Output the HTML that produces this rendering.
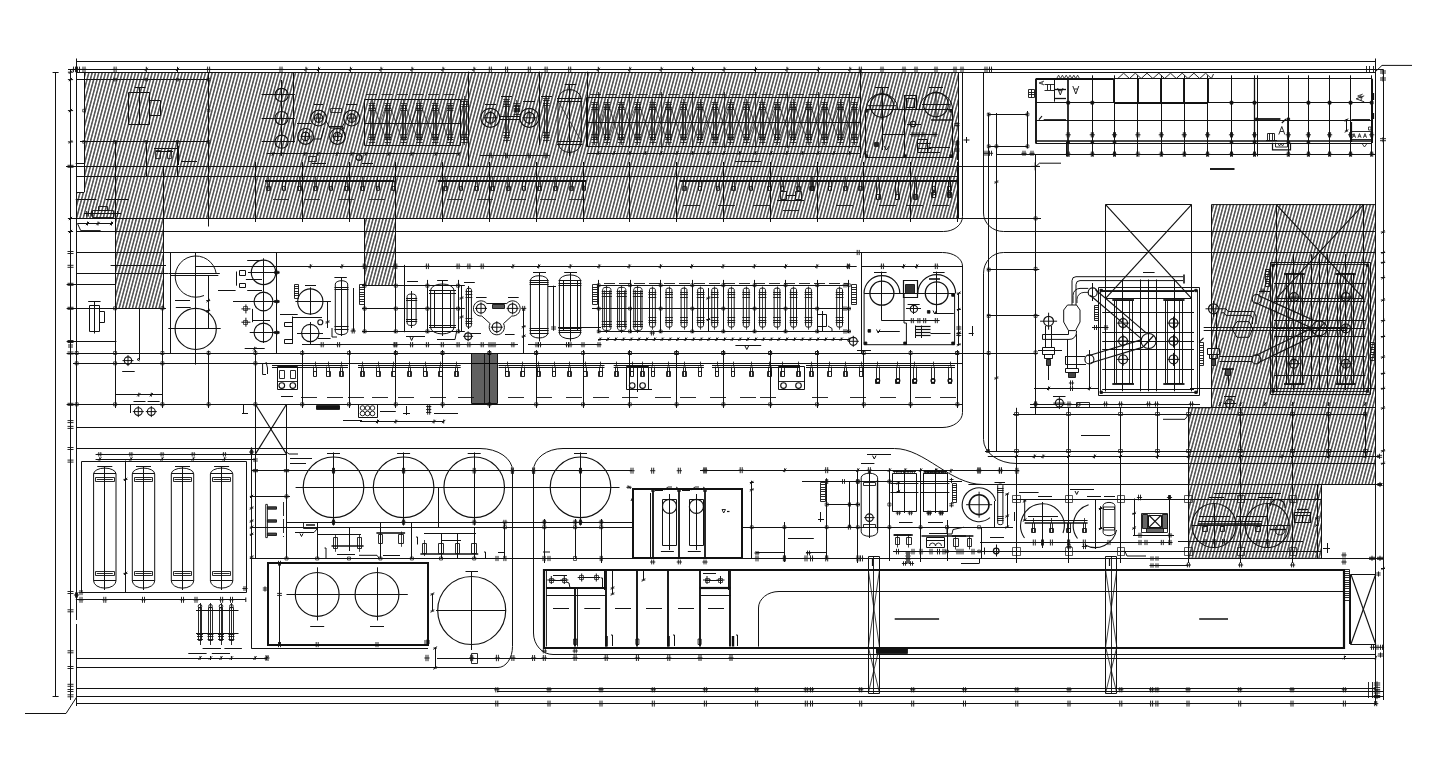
<!DOCTYPE html>
<html><head><meta charset="utf-8"><title>Plant layout</title>
<style>html,body{margin:0;padding:0;background:#fff;font-family:"Liberation Sans",sans-serif;}svg{display:block}</style>
</head><body>
<svg width="1445" height="765" viewBox="0 0 1445 765">
<defs>
<pattern id="h1" width="3.22" height="10" patternUnits="userSpaceOnUse" patternTransform="rotate(15)"><path d="M1.6 0V10" stroke="#000" stroke-width="1.05" fill="none"/></pattern>
<pattern id="h2" width="1.6" height="10" patternUnits="userSpaceOnUse" patternTransform="rotate(15)"><path d="M0.8 0V10" stroke="#000" stroke-width="1.0" fill="none"/></pattern>
</defs>
<rect width="1445" height="765" fill="#fff"/>
<g fill="none" stroke="#111" stroke-width="1.0" stroke-linecap="butt">
<path d="M84.0 72.2L958.0 72.2L958.0 218.5L76.7 218.5L76.7 192.3L84.0 192.3Z" fill="url(#h1)" stroke="none"/>
<path d="M115.1 218.5L163.0 218.5L163.0 308.3L115.1 308.3Z" fill="url(#h1)" stroke="none"/>
<path d="M364.3 218.5L395.8 218.5L395.8 285.0L364.3 285.0Z" fill="url(#h1)" stroke="none"/>
<path d="M1211.0 204.2L1375.7 204.2L1375.7 484.0L1322.0 484.0L1322.0 557.8L1188.0 557.8L1188.0 407.8L1211.0 407.8Z" fill="url(#h1)" stroke="none"/>
<path d="M76.7 61.5L1375.7 61.5"/>
<path d="M76.5 58.5L76.5 64.0"/>
<path d="M1375.5 58.5L1375.5 64.0"/>
<path d="M1375.7 71.4L1382.0 65.4L1412.0 65.4"/>
<path d="M68.0 69.5L1383.0 69.5"/>
<path d="M76.7 72.5L1375.7 72.5"/>
<path d="M55.5 72.2L55.5 696.5"/>
<path d="M52.6 72.5L58.6 72.5"/>
<path d="M52.6 696.5L58.6 696.5"/>
<path d="M70.5 69.4L70.5 700.0"/>
<path d="M76.5 61.3L76.5 706.0"/>
<path d="M84.5 72.2L84.5 192.3"/>
<path d="M76.7 192.5L84.0 192.5"/>
<path d="M75.7 163.5L84.0 163.5"/>
<path d="M25.0 713.5L66.0 713.5L76.7 697.0"/>
<path d="M1375.5 61.3L1375.5 705.0"/>
<path d="M1383.5 69.4L1383.5 700.0"/>
<path d="M115.5 218.5L115.5 308.3"/>
<path d="M163.5 218.5L163.5 308.3"/>
<path d="M115.1 308.5L163.0 308.5"/>
<path d="M364.5 218.5L364.5 285.0"/>
<path d="M395.5 218.5L395.5 285.0"/>
<path d="M364.3 285.5L395.8 285.5"/>
<path d="M958.5 72.2L958.5 218.5"/>
<path d="M1211.4 204.6L1375.7 204.6"/>
<path d="M1375.7 484.5L1321.5 484.5L1321.5 558.3L1188.6 558.3L1188.6 407.8L1211.4 407.8"/>
<path d="M76.7 79.5L208.6 79.5"/>
<path d="M80.0 141.5L208.6 141.5"/>
<path d="M66.0 166.5L1040.0 166.5"/>
<path d="M76.7 176.5L958.0 176.5"/>
<path d="M68.0 218.5L958.0 218.5"/>
<path d="M76.7 231.5L942.0 231.5"/>
<path d="M115.5 141.9L115.5 218.5"/>
<path d="M146.5 141.9L146.5 176.5"/>
<path d="M177.5 141.9L177.5 176.5"/>
<path d="M208.5 72.2L208.5 226.5"/>
<path d="M163.5 166.3L163.5 218.5"/>
<path d="M113.8 78.3L116.4 78.3L116.4 80.9L113.8 80.9Z" stroke-width="0.7"/>
<path d="M113.8 140.6L116.4 140.6L116.4 143.2L113.8 143.2Z" stroke-width="0.7"/>
<path d="M145.0 78.3L147.6 78.3L147.6 80.9L145.0 80.9Z" stroke-width="0.7"/>
<path d="M145.0 140.6L147.6 140.6L147.6 143.2L145.0 143.2Z" stroke-width="0.7"/>
<path d="M176.2 78.3L178.8 78.3L178.8 80.9L176.2 80.9Z" stroke-width="0.7"/>
<path d="M176.2 140.6L178.8 140.6L178.8 143.2L176.2 143.2Z" stroke-width="0.7"/>
<path d="M207.3 78.3L209.9 78.3L209.9 80.9L207.3 80.9Z" stroke-width="0.7"/>
<path d="M207.3 140.6L209.9 140.6L209.9 143.2L207.3 143.2Z" stroke-width="0.7"/>
<path d="M82.7 109.3L85.3 109.3L85.3 111.9L82.7 111.9Z" stroke-width="0.7"/>
<path d="M207.3 109.3L209.9 109.3L209.9 111.9L207.3 111.9Z" stroke-width="0.7"/>
<path d="M82.7 140.6L85.3 140.6L85.3 143.2L82.7 143.2Z" stroke-width="0.7"/>
<path d="M255.5 162.0L255.5 222.0"/>
<path d="M302.5 162.0L302.5 222.0"/>
<path d="M349.5 162.0L349.5 222.0"/>
<path d="M395.5 162.0L395.5 222.0"/>
<path d="M442.5 162.0L442.5 222.0"/>
<path d="M489.5 162.0L489.5 222.0"/>
<path d="M536.5 162.0L536.5 222.0"/>
<path d="M583.5 162.0L583.5 222.0"/>
<path d="M629.5 162.0L629.5 222.0"/>
<path d="M676.5 162.0L676.5 222.0"/>
<path d="M723.5 162.0L723.5 222.0"/>
<path d="M770.5 162.0L770.5 222.0"/>
<path d="M817.5 162.0L817.5 222.0"/>
<path d="M863.5 162.0L863.5 222.0"/>
<path d="M910.5 162.0L910.5 222.0"/>
<path d="M957.5 162.0L957.5 222.0"/>
<path d="M73.5 66.6V72.2M75.5 66.6V72.2M71.9 69.4H77.1" stroke-width="0.9"/>
<path d="M77.5 66.6V72.2M79.5 66.6V72.2M75.9 69.4H81.1" stroke-width="0.9"/>
<path d="M83.0 66.6V72.2M85.0 66.6V72.2M81.4 69.4H86.6" stroke-width="0.9"/>
<path d="M114.1 66.6V72.2M116.1 66.6V72.2M112.5 69.4H117.7" stroke-width="0.9"/>
<path d="M207.6 66.6V72.2M209.6 66.6V72.2M206.0 69.4H211.2" stroke-width="0.9"/>
<path d="M146.3 66.8V72.0M144.7 71.0L147.9 67.8"/>
<path d="M177.5 66.8V72.0M175.9 71.0L179.1 67.8"/>
<path d="M306.0 66.8V72.0M304.4 71.0L307.6 67.8"/>
<path d="M318.5 66.8V72.0M316.9 71.0L320.1 67.8"/>
<path d="M350.4 66.8V72.0M348.8 71.0L352.0 67.8"/>
<path d="M381.0 66.8V72.0M379.4 71.0L382.6 67.8"/>
<path d="M412.0 66.8V72.0M410.4 71.0L413.6 67.8"/>
<path d="M443.0 66.8V72.0M441.4 71.0L444.6 67.8"/>
<path d="M474.0 66.8V72.0M472.4 71.0L475.6 67.8"/>
<path d="M280.0 66.6V72.2M282.0 66.6V72.2M278.4 69.4H283.6" stroke-width="0.9"/>
<path d="M489.3 66.6V72.2M491.3 66.6V72.2M487.7 69.4H492.9" stroke-width="0.9"/>
<path d="M505.6 66.6V72.2M507.6 66.6V72.2M504.0 69.4H509.2" stroke-width="0.9"/>
<path d="M528.3 66.6V72.2M530.3 66.6V72.2M526.7 69.4H531.9" stroke-width="0.9"/>
<path d="M545.1 66.6V72.2M547.1 66.6V72.2M543.5 69.4H548.7" stroke-width="0.9"/>
<path d="M568.7 66.6V72.2M570.7 66.6V72.2M567.1 69.4H572.3" stroke-width="0.9"/>
<path d="M598.3 66.8V72.0M596.7 71.0L599.9 67.8"/>
<path d="M629.8 66.8V72.0M628.1 71.0L631.4 67.8"/>
<path d="M661.2 66.8V72.0M659.6 71.0L662.8 67.8"/>
<path d="M692.6 66.8V72.0M691.0 71.0L694.2 67.8"/>
<path d="M724.1 66.8V72.0M722.5 71.0L725.7 67.8"/>
<path d="M755.5 66.8V72.0M753.9 71.0L757.1 67.8"/>
<path d="M787.0 66.8V72.0M785.4 71.0L788.6 67.8"/>
<path d="M818.4 66.8V72.0M816.8 71.0L820.0 67.8"/>
<path d="M849.9 66.8V72.0M848.3 71.0L851.5 67.8"/>
<path d="M859.3 66.6V72.2M861.3 66.6V72.2M857.7 69.4H862.9" stroke-width="0.9"/>
<path d="M881.0 66.6V72.2M883.0 66.6V72.2M879.4 69.4H884.6" stroke-width="0.9"/>
<path d="M903.0 66.6V72.2M905.0 66.6V72.2M901.4 69.4H906.6" stroke-width="0.9"/>
<path d="M915.0 66.6V72.2M917.0 66.6V72.2M913.4 69.4H918.6" stroke-width="0.9"/>
<path d="M935.0 66.6V72.2M937.0 66.6V72.2M933.4 69.4H938.6" stroke-width="0.9"/>
<path d="M954.0 66.6V72.2M956.0 66.6V72.2M952.4 69.4H957.6" stroke-width="0.9"/>
<path d="M961.0 66.6V72.2M963.0 66.6V72.2M959.4 69.4H964.6" stroke-width="0.9"/>
<path d="M67.9 72.2H73.1M68.9 73.8L72.1 70.6"/>
<path d="M67.9 79.6H73.1M68.9 81.2L72.1 78.0"/>
<path d="M67.9 110.6H73.1M68.9 112.2L72.1 109.0"/>
<path d="M67.9 141.9H73.1M68.9 143.5L72.1 140.3"/>
<path d="M67.9 218.5H73.1M68.9 220.1L72.1 216.9"/>
<path d="M67.9 231.5H73.1M68.9 233.1L72.1 229.9"/>
<path d="M67.5 165.3H73.5M67.5 167.3H73.5M70.5 163.7V168.9" stroke-width="0.9"/>
<path d="M128.5 92.5L149.5 92.5L149.5 124.5L128.5 124.5Z"/>
<path d="M149.5 100.5L160.5 100.5L160.5 115.5L149.5 115.5Z"/>
<path d="M139.5 87.4L139.5 124.4"/>
<path d="M134.7 87.5L145.5 87.5"/>
<path d="M155.5 150.5L160.5 150.5L160.5 158.5L155.5 158.5Z" stroke-width="0.8"/>
<path d="M167.5 150.5L171.5 150.5L171.5 158.5L167.5 158.5Z" stroke-width="0.8"/>
<path d="M154.0 148.5L178.0 148.5"/>
<path d="M156.0 151.5L173.0 151.5"/>
<path d="M178.5 146.0L178.5 165.0"/>
<path d="M181.0 161.5L197.0 161.5"/>
<circle cx="281.6" cy="94.9" r="6.6" stroke-width="1.15"/>
<path d="M261.6 94.5L294.9 94.5"/>
<circle cx="281.6" cy="118.1" r="6.6" stroke-width="1.15"/>
<path d="M261.6 118.5L294.9 118.5"/>
<circle cx="281.6" cy="141.7" r="6.6" stroke-width="1.15"/>
<path d="M261.6 141.5L294.9 141.5"/>
<path d="M281.5 80.0L281.5 155.5"/>
<path d="M293.5 72.0L293.5 143.0"/>
<circle cx="318.6" cy="118.1" r="7.9" stroke-width="1.15"/>
<circle cx="318.6" cy="118.1" r="4.2" stroke-width="1.15"/>
<path d="M313.6 118.1H323.6M318.6 113.1V123.1"/>
<circle cx="351.7" cy="118.1" r="7.9" stroke-width="1.15"/>
<circle cx="351.7" cy="118.1" r="4.2" stroke-width="1.15"/>
<path d="M346.7 118.1H356.7M351.7 113.1V123.1"/>
<circle cx="305.6" cy="136.4" r="7.9" stroke-width="1.15"/>
<circle cx="305.6" cy="136.4" r="4.2" stroke-width="1.15"/>
<path d="M300.6 136.4H310.6M305.6 131.4V141.4"/>
<circle cx="337.5" cy="136.4" r="7.9" stroke-width="1.15"/>
<circle cx="337.5" cy="136.4" r="4.2" stroke-width="1.15"/>
<path d="M332.5 136.4H342.5M337.5 131.4V141.4"/>
<path d="M326.0 121.0L330.0 128.0L345.0 128.0"/>
<path d="M313.0 139.0L321.0 139.0L324.0 128.0"/>
<path d="M345.0 136.0L342.0 127.0L345.0 122.0"/>
<path d="M330.5 108.5L341.5 108.5L341.5 112.5L330.5 112.5Z" stroke-width="0.8"/>
<path d="M314.0 104.5L323.0 104.5"/>
<path d="M346.0 104.5L357.0 104.5"/>
<path d="M297.0 123.5L311.0 123.5"/>
<path d="M329.0 126.5L343.0 126.5"/>
<path d="M266.6 153.5L459.3 153.5"/>
<path d="M273.0 151.9V155.9M271.4 155.5L274.6 152.3"/>
<path d="M281.6 151.9V155.9M280.0 155.5L283.2 152.3"/>
<path d="M305.0 151.9V155.9M303.4 155.5L306.6 152.3"/>
<path d="M318.0 151.9V155.9M316.4 155.5L319.6 152.3"/>
<path d="M337.0 151.9V155.9M335.4 155.5L338.6 152.3"/>
<path d="M352.0 151.9V155.9M350.4 155.5L353.6 152.3"/>
<path d="M366.0 151.9V155.9M364.4 155.5L367.6 152.3"/>
<path d="M389.0 151.9V155.9M387.4 155.5L390.6 152.3"/>
<path d="M412.0 151.9V155.9M410.4 155.5L413.6 152.3"/>
<path d="M436.0 151.9V155.9M434.4 155.5L437.6 152.3"/>
<path d="M459.0 151.9V155.9M457.4 155.5L460.6 152.3"/>
<path d="M308.5 156.5L316.5 156.5L316.5 161.5L308.5 161.5Z" stroke-width="0.8"/>
<path d="M312.0 163.5L326.0 163.5"/>
<circle cx="359.0" cy="157.5" r="2.8" stroke-width="1.15"/>
<path d="M362.0 163.5L373.0 163.5"/>
<path d="M364.5 99.5L460.5 99.5L460.5 145.5L364.5 145.5Z"/>
<path d="M364.6 123.5L460.1 123.5"/>
<path d="M370.5 104.5L370.5 140.5" stroke-width="0.8"/>
<path d="M373.5 104.5L373.5 140.5" stroke-width="0.8"/>
<path d="M368.7 103.5L375.3 103.5" stroke-width="0.8"/>
<path d="M368.7 105.5L375.3 105.5" stroke-width="0.8"/>
<path d="M368.7 108.5L375.3 108.5" stroke-width="0.8"/>
<path d="M368.7 110.5L375.3 110.5" stroke-width="0.8"/>
<path d="M368.7 134.5L375.3 134.5" stroke-width="0.8"/>
<path d="M368.7 137.5L375.3 137.5" stroke-width="0.8"/>
<path d="M368.7 139.5L375.3 139.5" stroke-width="0.8"/>
<path d="M368.7 142.5L375.3 142.5" stroke-width="0.8"/>
<path d="M372.5 100.0L372.5 145.0" stroke-width="0.7"/>
<path d="M386.5 104.5L386.5 140.5" stroke-width="0.8"/>
<path d="M389.5 104.5L389.5 140.5" stroke-width="0.8"/>
<path d="M384.6 103.5L391.2 103.5" stroke-width="0.8"/>
<path d="M384.6 105.5L391.2 105.5" stroke-width="0.8"/>
<path d="M384.6 108.5L391.2 108.5" stroke-width="0.8"/>
<path d="M384.6 110.5L391.2 110.5" stroke-width="0.8"/>
<path d="M384.6 134.5L391.2 134.5" stroke-width="0.8"/>
<path d="M384.6 137.5L391.2 137.5" stroke-width="0.8"/>
<path d="M384.6 139.5L391.2 139.5" stroke-width="0.8"/>
<path d="M384.6 142.5L391.2 142.5" stroke-width="0.8"/>
<path d="M387.5 100.0L387.5 145.0" stroke-width="0.7"/>
<path d="M402.5 104.5L402.5 140.5" stroke-width="0.8"/>
<path d="M405.5 104.5L405.5 140.5" stroke-width="0.8"/>
<path d="M400.4 103.5L407.0 103.5" stroke-width="0.8"/>
<path d="M400.4 105.5L407.0 105.5" stroke-width="0.8"/>
<path d="M400.4 108.5L407.0 108.5" stroke-width="0.8"/>
<path d="M400.4 110.5L407.0 110.5" stroke-width="0.8"/>
<path d="M400.4 134.5L407.0 134.5" stroke-width="0.8"/>
<path d="M400.4 137.5L407.0 137.5" stroke-width="0.8"/>
<path d="M400.4 139.5L407.0 139.5" stroke-width="0.8"/>
<path d="M400.4 142.5L407.0 142.5" stroke-width="0.8"/>
<path d="M403.5 100.0L403.5 145.0" stroke-width="0.7"/>
<path d="M417.5 104.5L417.5 140.5" stroke-width="0.8"/>
<path d="M420.5 104.5L420.5 140.5" stroke-width="0.8"/>
<path d="M416.1 103.5L422.7 103.5" stroke-width="0.8"/>
<path d="M416.1 105.5L422.7 105.5" stroke-width="0.8"/>
<path d="M416.1 108.5L422.7 108.5" stroke-width="0.8"/>
<path d="M416.1 110.5L422.7 110.5" stroke-width="0.8"/>
<path d="M416.1 134.5L422.7 134.5" stroke-width="0.8"/>
<path d="M416.1 137.5L422.7 137.5" stroke-width="0.8"/>
<path d="M416.1 139.5L422.7 139.5" stroke-width="0.8"/>
<path d="M416.1 142.5L422.7 142.5" stroke-width="0.8"/>
<path d="M419.5 100.0L419.5 145.0" stroke-width="0.7"/>
<path d="M433.5 104.5L433.5 140.5" stroke-width="0.8"/>
<path d="M436.5 104.5L436.5 140.5" stroke-width="0.8"/>
<path d="M431.9 103.5L438.5 103.5" stroke-width="0.8"/>
<path d="M431.9 105.5L438.5 105.5" stroke-width="0.8"/>
<path d="M431.9 108.5L438.5 108.5" stroke-width="0.8"/>
<path d="M431.9 110.5L438.5 110.5" stroke-width="0.8"/>
<path d="M431.9 134.5L438.5 134.5" stroke-width="0.8"/>
<path d="M431.9 137.5L438.5 137.5" stroke-width="0.8"/>
<path d="M431.9 139.5L438.5 139.5" stroke-width="0.8"/>
<path d="M431.9 142.5L438.5 142.5" stroke-width="0.8"/>
<path d="M435.5 100.0L435.5 145.0" stroke-width="0.7"/>
<path d="M448.5 104.5L448.5 140.5" stroke-width="0.8"/>
<path d="M451.5 104.5L451.5 140.5" stroke-width="0.8"/>
<path d="M446.9 103.5L453.5 103.5" stroke-width="0.8"/>
<path d="M446.9 105.5L453.5 105.5" stroke-width="0.8"/>
<path d="M446.9 108.5L453.5 108.5" stroke-width="0.8"/>
<path d="M446.9 110.5L453.5 110.5" stroke-width="0.8"/>
<path d="M446.9 134.5L453.5 134.5" stroke-width="0.8"/>
<path d="M446.9 137.5L453.5 137.5" stroke-width="0.8"/>
<path d="M446.9 139.5L453.5 139.5" stroke-width="0.8"/>
<path d="M446.9 142.5L453.5 142.5" stroke-width="0.8"/>
<path d="M450.5 100.0L450.5 145.0" stroke-width="0.7"/>
<path d="M374.0 106.0L385.9 139.0" stroke-width="0.7"/>
<path d="M374.0 139.0L385.9 106.0" stroke-width="0.7"/>
<path d="M389.9 106.0L401.7 139.0" stroke-width="0.7"/>
<path d="M389.9 139.0L401.7 106.0" stroke-width="0.7"/>
<path d="M405.7 106.0L417.4 139.0" stroke-width="0.7"/>
<path d="M405.7 139.0L417.4 106.0" stroke-width="0.7"/>
<path d="M421.4 106.0L433.2 139.0" stroke-width="0.7"/>
<path d="M421.4 139.0L433.2 106.0" stroke-width="0.7"/>
<path d="M437.2 106.0L448.2 139.0" stroke-width="0.7"/>
<path d="M437.2 139.0L448.2 106.0" stroke-width="0.7"/>
<path d="M366.0 94.5L377.0 94.5" stroke-width="0.8"/>
<path d="M381.5 94.5L392.5 94.5" stroke-width="0.8"/>
<path d="M397.0 94.5L408.0 94.5" stroke-width="0.8"/>
<path d="M412.5 94.5L423.5 94.5" stroke-width="0.8"/>
<path d="M428.0 94.5L439.0 94.5" stroke-width="0.8"/>
<path d="M443.5 94.5L454.5 94.5" stroke-width="0.8"/>
<path d="M468.5 71.6L468.5 166.3"/>
<path d="M463.5 100.5L463.5 140.5" stroke-width="0.8"/>
<path d="M466.5 100.5L466.5 140.5" stroke-width="0.8"/>
<path d="M461.2 99.5L467.8 99.5" stroke-width="0.8"/>
<path d="M461.2 101.5L467.8 101.5" stroke-width="0.8"/>
<path d="M461.2 104.5L467.8 104.5" stroke-width="0.8"/>
<path d="M461.2 106.5L467.8 106.5" stroke-width="0.8"/>
<path d="M461.2 134.5L467.8 134.5" stroke-width="0.8"/>
<path d="M461.2 137.5L467.8 137.5" stroke-width="0.8"/>
<path d="M461.2 139.5L467.8 139.5" stroke-width="0.8"/>
<path d="M461.2 142.5L467.8 142.5" stroke-width="0.8"/>
<path d="M464.5 96.0L464.5 145.0" stroke-width="0.7"/>
<circle cx="490.3" cy="117.8" r="9.5" stroke-width="1.15"/>
<circle cx="490.3" cy="117.8" r="5.4" stroke-width="1.15"/>
<path d="M483.3 117.8H497.3M490.3 110.8V124.8"/>
<circle cx="529.3" cy="117.8" r="9.5" stroke-width="1.15"/>
<circle cx="529.3" cy="117.8" r="5.4" stroke-width="1.15"/>
<path d="M522.3 117.8H536.3M529.3 110.8V124.8"/>
<path d="M499.5 116.5L520.0 116.5"/>
<path d="M499.5 119.5L520.0 119.5"/>
<path d="M505.5 100.5L505.5 138.5" stroke-width="0.8"/>
<path d="M508.5 100.5L508.5 138.5" stroke-width="0.8"/>
<path d="M503.3 99.5L509.9 99.5" stroke-width="0.8"/>
<path d="M503.3 101.5L509.9 101.5" stroke-width="0.8"/>
<path d="M503.3 104.5L509.9 104.5" stroke-width="0.8"/>
<path d="M503.3 106.5L509.9 106.5" stroke-width="0.8"/>
<path d="M503.3 132.5L509.9 132.5" stroke-width="0.8"/>
<path d="M503.3 135.5L509.9 135.5" stroke-width="0.8"/>
<path d="M503.3 137.5L509.9 137.5" stroke-width="0.8"/>
<path d="M503.3 140.5L509.9 140.5" stroke-width="0.8"/>
<path d="M506.5 96.0L506.5 143.0" stroke-width="0.7"/>
<path d="M544.5 99.5L544.5 138.5" stroke-width="0.8"/>
<path d="M547.5 99.5L547.5 138.5" stroke-width="0.8"/>
<path d="M543.1 98.5L549.7 98.5" stroke-width="0.8"/>
<path d="M543.1 100.5L549.7 100.5" stroke-width="0.8"/>
<path d="M543.1 103.5L549.7 103.5" stroke-width="0.8"/>
<path d="M543.1 105.5L549.7 105.5" stroke-width="0.8"/>
<path d="M543.1 132.5L549.7 132.5" stroke-width="0.8"/>
<path d="M543.1 135.5L549.7 135.5" stroke-width="0.8"/>
<path d="M543.1 137.5L549.7 137.5" stroke-width="0.8"/>
<path d="M543.1 140.5L549.7 140.5" stroke-width="0.8"/>
<path d="M546.5 95.0L546.5 143.0" stroke-width="0.7"/>
<path d="M515.5 104.5L515.5 112.5" stroke-width="0.8"/>
<path d="M518.5 104.5L518.5 112.5" stroke-width="0.8"/>
<path d="M513.6 103.5L520.2 103.5" stroke-width="0.8"/>
<path d="M513.6 105.5L520.2 105.5" stroke-width="0.8"/>
<path d="M513.6 108.5L520.2 108.5" stroke-width="0.8"/>
<path d="M513.6 110.5L520.2 110.5" stroke-width="0.8"/>
<path d="M513.6 106.5L520.2 106.5" stroke-width="0.8"/>
<path d="M513.6 109.5L520.2 109.5" stroke-width="0.8"/>
<path d="M513.6 111.5L520.2 111.5" stroke-width="0.8"/>
<path d="M513.6 114.5L520.2 114.5" stroke-width="0.8"/>
<path d="M516.5 100.0L516.5 117.0" stroke-width="0.7"/>
<path d="M501.0 96.5L512.0 96.5"/>
<path d="M541.0 96.5L552.0 96.5"/>
<path d="M485.0 104.5L496.0 104.5"/>
<path d="M523.0 101.5L535.0 101.5"/>
<path d="M539.5 71.6L539.5 145.0"/>
<path d="M480.0 155.5L549.8 155.5"/>
<path d="M489.3 152.7V158.3M491.3 152.7V158.3M487.7 155.5H492.9" stroke-width="0.9"/>
<path d="M505.6 152.7V158.3M507.6 152.7V158.3M504.0 155.5H509.2" stroke-width="0.9"/>
<path d="M528.3 152.7V158.3M530.3 152.7V158.3M526.7 155.5H531.9" stroke-width="0.9"/>
<path d="M545.1 152.7V158.3M547.1 152.7V158.3M543.5 155.5H548.7" stroke-width="0.9"/>
<path d="M558 100V142M581.3 100V142M558 100A11.65 10.5 0 0 1 581.3 100M558 142A11.65 10.5 0 0 0 581.3 142"/>
<path d="M557.0 98.5L582.3 98.5"/>
<path d="M557.0 101.5L582.3 101.5"/>
<path d="M557.0 141.5L582.3 141.5"/>
<path d="M557.0 144.5L582.3 144.5"/>
<path d="M564.7 84.5L576.3 84.5"/>
<path d="M569.5 84.6L569.5 156.0"/>
<path d="M558.0 101.0L581.3 141.0" stroke-width="0.7"/>
<path d="M587.5 71.6L587.5 146.4"/>
<path d="M586.5 97.5L860.5 97.5L860.5 146.5L586.5 146.5Z"/>
<path d="M586.3 122.5L860.3 122.5"/>
<path d="M593.5 103.5L593.5 140.5" stroke-width="0.8"/>
<path d="M596.5 103.5L596.5 140.5" stroke-width="0.8"/>
<path d="M591.3 102.5L597.9 102.5" stroke-width="0.8"/>
<path d="M591.3 104.5L597.9 104.5" stroke-width="0.8"/>
<path d="M591.3 107.5L597.9 107.5" stroke-width="0.8"/>
<path d="M591.3 109.5L597.9 109.5" stroke-width="0.8"/>
<path d="M591.3 134.5L597.9 134.5" stroke-width="0.8"/>
<path d="M591.3 137.5L597.9 137.5" stroke-width="0.8"/>
<path d="M591.3 139.5L597.9 139.5" stroke-width="0.8"/>
<path d="M591.3 142.5L597.9 142.5" stroke-width="0.8"/>
<path d="M594.5 99.0L594.5 145.0" stroke-width="0.7"/>
<path d="M605.5 103.5L605.5 140.5" stroke-width="0.8"/>
<path d="M608.5 103.5L608.5 140.5" stroke-width="0.8"/>
<path d="M603.7 102.5L610.3 102.5" stroke-width="0.8"/>
<path d="M603.7 104.5L610.3 104.5" stroke-width="0.8"/>
<path d="M603.7 107.5L610.3 107.5" stroke-width="0.8"/>
<path d="M603.7 109.5L610.3 109.5" stroke-width="0.8"/>
<path d="M603.7 134.5L610.3 134.5" stroke-width="0.8"/>
<path d="M603.7 137.5L610.3 137.5" stroke-width="0.8"/>
<path d="M603.7 139.5L610.3 139.5" stroke-width="0.8"/>
<path d="M603.7 142.5L610.3 142.5" stroke-width="0.8"/>
<path d="M607.5 99.0L607.5 145.0" stroke-width="0.7"/>
<path d="M619.5 103.5L619.5 140.5" stroke-width="0.8"/>
<path d="M622.5 103.5L622.5 140.5" stroke-width="0.8"/>
<path d="M617.9 102.5L624.5 102.5" stroke-width="0.8"/>
<path d="M617.9 104.5L624.5 104.5" stroke-width="0.8"/>
<path d="M617.9 107.5L624.5 107.5" stroke-width="0.8"/>
<path d="M617.9 109.5L624.5 109.5" stroke-width="0.8"/>
<path d="M617.9 134.5L624.5 134.5" stroke-width="0.8"/>
<path d="M617.9 137.5L624.5 137.5" stroke-width="0.8"/>
<path d="M617.9 139.5L624.5 139.5" stroke-width="0.8"/>
<path d="M617.9 142.5L624.5 142.5" stroke-width="0.8"/>
<path d="M621.5 99.0L621.5 145.0" stroke-width="0.7"/>
<path d="M636.5 103.5L636.5 140.5" stroke-width="0.8"/>
<path d="M639.5 103.5L639.5 140.5" stroke-width="0.8"/>
<path d="M634.5 102.5L641.1 102.5" stroke-width="0.8"/>
<path d="M634.5 104.5L641.1 104.5" stroke-width="0.8"/>
<path d="M634.5 107.5L641.1 107.5" stroke-width="0.8"/>
<path d="M634.5 109.5L641.1 109.5" stroke-width="0.8"/>
<path d="M634.5 134.5L641.1 134.5" stroke-width="0.8"/>
<path d="M634.5 137.5L641.1 137.5" stroke-width="0.8"/>
<path d="M634.5 139.5L641.1 139.5" stroke-width="0.8"/>
<path d="M634.5 142.5L641.1 142.5" stroke-width="0.8"/>
<path d="M637.5 99.0L637.5 145.0" stroke-width="0.7"/>
<path d="M651.5 103.5L651.5 140.5" stroke-width="0.8"/>
<path d="M654.5 103.5L654.5 140.5" stroke-width="0.8"/>
<path d="M649.5 102.5L656.1 102.5" stroke-width="0.8"/>
<path d="M649.5 104.5L656.1 104.5" stroke-width="0.8"/>
<path d="M649.5 107.5L656.1 107.5" stroke-width="0.8"/>
<path d="M649.5 109.5L656.1 109.5" stroke-width="0.8"/>
<path d="M649.5 134.5L656.1 134.5" stroke-width="0.8"/>
<path d="M649.5 137.5L656.1 137.5" stroke-width="0.8"/>
<path d="M649.5 139.5L656.1 139.5" stroke-width="0.8"/>
<path d="M649.5 142.5L656.1 142.5" stroke-width="0.8"/>
<path d="M652.5 99.0L652.5 145.0" stroke-width="0.7"/>
<path d="M667.5 103.5L667.5 140.5" stroke-width="0.8"/>
<path d="M670.5 103.5L670.5 140.5" stroke-width="0.8"/>
<path d="M665.2 102.5L671.8 102.5" stroke-width="0.8"/>
<path d="M665.2 104.5L671.8 104.5" stroke-width="0.8"/>
<path d="M665.2 107.5L671.8 107.5" stroke-width="0.8"/>
<path d="M665.2 109.5L671.8 109.5" stroke-width="0.8"/>
<path d="M665.2 134.5L671.8 134.5" stroke-width="0.8"/>
<path d="M665.2 137.5L671.8 137.5" stroke-width="0.8"/>
<path d="M665.2 139.5L671.8 139.5" stroke-width="0.8"/>
<path d="M665.2 142.5L671.8 142.5" stroke-width="0.8"/>
<path d="M668.5 99.0L668.5 145.0" stroke-width="0.7"/>
<path d="M682.5 103.5L682.5 140.5" stroke-width="0.8"/>
<path d="M685.5 103.5L685.5 140.5" stroke-width="0.8"/>
<path d="M680.2 102.5L686.8 102.5" stroke-width="0.8"/>
<path d="M680.2 104.5L686.8 104.5" stroke-width="0.8"/>
<path d="M680.2 107.5L686.8 107.5" stroke-width="0.8"/>
<path d="M680.2 109.5L686.8 109.5" stroke-width="0.8"/>
<path d="M680.2 134.5L686.8 134.5" stroke-width="0.8"/>
<path d="M680.2 137.5L686.8 137.5" stroke-width="0.8"/>
<path d="M680.2 139.5L686.8 139.5" stroke-width="0.8"/>
<path d="M680.2 142.5L686.8 142.5" stroke-width="0.8"/>
<path d="M683.5 99.0L683.5 145.0" stroke-width="0.7"/>
<path d="M698.5 103.5L698.5 140.5" stroke-width="0.8"/>
<path d="M701.5 103.5L701.5 140.5" stroke-width="0.8"/>
<path d="M696.7 102.5L703.3 102.5" stroke-width="0.8"/>
<path d="M696.7 104.5L703.3 104.5" stroke-width="0.8"/>
<path d="M696.7 107.5L703.3 107.5" stroke-width="0.8"/>
<path d="M696.7 109.5L703.3 109.5" stroke-width="0.8"/>
<path d="M696.7 134.5L703.3 134.5" stroke-width="0.8"/>
<path d="M696.7 137.5L703.3 137.5" stroke-width="0.8"/>
<path d="M696.7 139.5L703.3 139.5" stroke-width="0.8"/>
<path d="M696.7 142.5L703.3 142.5" stroke-width="0.8"/>
<path d="M700.5 99.0L700.5 145.0" stroke-width="0.7"/>
<path d="M713.5 103.5L713.5 140.5" stroke-width="0.8"/>
<path d="M716.5 103.5L716.5 140.5" stroke-width="0.8"/>
<path d="M711.7 102.5L718.3 102.5" stroke-width="0.8"/>
<path d="M711.7 104.5L718.3 104.5" stroke-width="0.8"/>
<path d="M711.7 107.5L718.3 107.5" stroke-width="0.8"/>
<path d="M711.7 109.5L718.3 109.5" stroke-width="0.8"/>
<path d="M711.7 134.5L718.3 134.5" stroke-width="0.8"/>
<path d="M711.7 137.5L718.3 137.5" stroke-width="0.8"/>
<path d="M711.7 139.5L718.3 139.5" stroke-width="0.8"/>
<path d="M711.7 142.5L718.3 142.5" stroke-width="0.8"/>
<path d="M715.5 99.0L715.5 145.0" stroke-width="0.7"/>
<path d="M729.5 103.5L729.5 140.5" stroke-width="0.8"/>
<path d="M732.5 103.5L732.5 140.5" stroke-width="0.8"/>
<path d="M727.5 102.5L734.1 102.5" stroke-width="0.8"/>
<path d="M727.5 104.5L734.1 104.5" stroke-width="0.8"/>
<path d="M727.5 107.5L734.1 107.5" stroke-width="0.8"/>
<path d="M727.5 109.5L734.1 109.5" stroke-width="0.8"/>
<path d="M727.5 134.5L734.1 134.5" stroke-width="0.8"/>
<path d="M727.5 137.5L734.1 137.5" stroke-width="0.8"/>
<path d="M727.5 139.5L734.1 139.5" stroke-width="0.8"/>
<path d="M727.5 142.5L734.1 142.5" stroke-width="0.8"/>
<path d="M730.5 99.0L730.5 145.0" stroke-width="0.7"/>
<path d="M745.5 103.5L745.5 140.5" stroke-width="0.8"/>
<path d="M748.5 103.5L748.5 140.5" stroke-width="0.8"/>
<path d="M743.2 102.5L749.8 102.5" stroke-width="0.8"/>
<path d="M743.2 104.5L749.8 104.5" stroke-width="0.8"/>
<path d="M743.2 107.5L749.8 107.5" stroke-width="0.8"/>
<path d="M743.2 109.5L749.8 109.5" stroke-width="0.8"/>
<path d="M743.2 134.5L749.8 134.5" stroke-width="0.8"/>
<path d="M743.2 137.5L749.8 137.5" stroke-width="0.8"/>
<path d="M743.2 139.5L749.8 139.5" stroke-width="0.8"/>
<path d="M743.2 142.5L749.8 142.5" stroke-width="0.8"/>
<path d="M746.5 99.0L746.5 145.0" stroke-width="0.7"/>
<path d="M760.5 103.5L760.5 140.5" stroke-width="0.8"/>
<path d="M763.5 103.5L763.5 140.5" stroke-width="0.8"/>
<path d="M759.0 102.5L765.6 102.5" stroke-width="0.8"/>
<path d="M759.0 104.5L765.6 104.5" stroke-width="0.8"/>
<path d="M759.0 107.5L765.6 107.5" stroke-width="0.8"/>
<path d="M759.0 109.5L765.6 109.5" stroke-width="0.8"/>
<path d="M759.0 134.5L765.6 134.5" stroke-width="0.8"/>
<path d="M759.0 137.5L765.6 137.5" stroke-width="0.8"/>
<path d="M759.0 139.5L765.6 139.5" stroke-width="0.8"/>
<path d="M759.0 142.5L765.6 142.5" stroke-width="0.8"/>
<path d="M762.5 99.0L762.5 145.0" stroke-width="0.7"/>
<path d="M775.5 103.5L775.5 140.5" stroke-width="0.8"/>
<path d="M778.5 103.5L778.5 140.5" stroke-width="0.8"/>
<path d="M774.0 102.5L780.6 102.5" stroke-width="0.8"/>
<path d="M774.0 104.5L780.6 104.5" stroke-width="0.8"/>
<path d="M774.0 107.5L780.6 107.5" stroke-width="0.8"/>
<path d="M774.0 109.5L780.6 109.5" stroke-width="0.8"/>
<path d="M774.0 134.5L780.6 134.5" stroke-width="0.8"/>
<path d="M774.0 137.5L780.6 137.5" stroke-width="0.8"/>
<path d="M774.0 139.5L780.6 139.5" stroke-width="0.8"/>
<path d="M774.0 142.5L780.6 142.5" stroke-width="0.8"/>
<path d="M777.5 99.0L777.5 145.0" stroke-width="0.7"/>
<path d="M791.5 103.5L791.5 140.5" stroke-width="0.8"/>
<path d="M794.5 103.5L794.5 140.5" stroke-width="0.8"/>
<path d="M789.7 102.5L796.3 102.5" stroke-width="0.8"/>
<path d="M789.7 104.5L796.3 104.5" stroke-width="0.8"/>
<path d="M789.7 107.5L796.3 107.5" stroke-width="0.8"/>
<path d="M789.7 109.5L796.3 109.5" stroke-width="0.8"/>
<path d="M789.7 134.5L796.3 134.5" stroke-width="0.8"/>
<path d="M789.7 137.5L796.3 137.5" stroke-width="0.8"/>
<path d="M789.7 139.5L796.3 139.5" stroke-width="0.8"/>
<path d="M789.7 142.5L796.3 142.5" stroke-width="0.8"/>
<path d="M793.5 99.0L793.5 145.0" stroke-width="0.7"/>
<path d="M807.5 103.5L807.5 140.5" stroke-width="0.8"/>
<path d="M810.5 103.5L810.5 140.5" stroke-width="0.8"/>
<path d="M805.5 102.5L812.1 102.5" stroke-width="0.8"/>
<path d="M805.5 104.5L812.1 104.5" stroke-width="0.8"/>
<path d="M805.5 107.5L812.1 107.5" stroke-width="0.8"/>
<path d="M805.5 109.5L812.1 109.5" stroke-width="0.8"/>
<path d="M805.5 134.5L812.1 134.5" stroke-width="0.8"/>
<path d="M805.5 137.5L812.1 137.5" stroke-width="0.8"/>
<path d="M805.5 139.5L812.1 139.5" stroke-width="0.8"/>
<path d="M805.5 142.5L812.1 142.5" stroke-width="0.8"/>
<path d="M808.5 99.0L808.5 145.0" stroke-width="0.7"/>
<path d="M823.5 103.5L823.5 140.5" stroke-width="0.8"/>
<path d="M826.5 103.5L826.5 140.5" stroke-width="0.8"/>
<path d="M821.3 102.5L827.9 102.5" stroke-width="0.8"/>
<path d="M821.3 104.5L827.9 104.5" stroke-width="0.8"/>
<path d="M821.3 107.5L827.9 107.5" stroke-width="0.8"/>
<path d="M821.3 109.5L827.9 109.5" stroke-width="0.8"/>
<path d="M821.3 134.5L827.9 134.5" stroke-width="0.8"/>
<path d="M821.3 137.5L827.9 137.5" stroke-width="0.8"/>
<path d="M821.3 139.5L827.9 139.5" stroke-width="0.8"/>
<path d="M821.3 142.5L827.9 142.5" stroke-width="0.8"/>
<path d="M824.5 99.0L824.5 145.0" stroke-width="0.7"/>
<path d="M838.5 103.5L838.5 140.5" stroke-width="0.8"/>
<path d="M841.5 103.5L841.5 140.5" stroke-width="0.8"/>
<path d="M837.1 102.5L843.7 102.5" stroke-width="0.8"/>
<path d="M837.1 104.5L843.7 104.5" stroke-width="0.8"/>
<path d="M837.1 107.5L843.7 107.5" stroke-width="0.8"/>
<path d="M837.1 109.5L843.7 109.5" stroke-width="0.8"/>
<path d="M837.1 134.5L843.7 134.5" stroke-width="0.8"/>
<path d="M837.1 137.5L843.7 137.5" stroke-width="0.8"/>
<path d="M837.1 139.5L843.7 139.5" stroke-width="0.8"/>
<path d="M837.1 142.5L843.7 142.5" stroke-width="0.8"/>
<path d="M840.5 99.0L840.5 145.0" stroke-width="0.7"/>
<path d="M853.5 103.5L853.5 140.5" stroke-width="0.8"/>
<path d="M856.5 103.5L856.5 140.5" stroke-width="0.8"/>
<path d="M851.2 102.5L857.8 102.5" stroke-width="0.8"/>
<path d="M851.2 104.5L857.8 104.5" stroke-width="0.8"/>
<path d="M851.2 107.5L857.8 107.5" stroke-width="0.8"/>
<path d="M851.2 109.5L857.8 109.5" stroke-width="0.8"/>
<path d="M851.2 134.5L857.8 134.5" stroke-width="0.8"/>
<path d="M851.2 137.5L857.8 137.5" stroke-width="0.8"/>
<path d="M851.2 139.5L857.8 139.5" stroke-width="0.8"/>
<path d="M851.2 142.5L857.8 142.5" stroke-width="0.8"/>
<path d="M854.5 99.0L854.5 145.0" stroke-width="0.7"/>
<path d="M596.6 106.0L605.0 139.0" stroke-width="0.7"/>
<path d="M596.6 139.0L605.0 106.0" stroke-width="0.7"/>
<path d="M609.0 106.0L619.2 139.0" stroke-width="0.7"/>
<path d="M609.0 139.0L619.2 106.0" stroke-width="0.7"/>
<path d="M623.2 106.0L635.8 139.0" stroke-width="0.7"/>
<path d="M623.2 139.0L635.8 106.0" stroke-width="0.7"/>
<path d="M639.8 106.0L650.8 139.0" stroke-width="0.7"/>
<path d="M639.8 139.0L650.8 106.0" stroke-width="0.7"/>
<path d="M654.8 106.0L666.5 139.0" stroke-width="0.7"/>
<path d="M654.8 139.0L666.5 106.0" stroke-width="0.7"/>
<path d="M670.5 106.0L681.5 139.0" stroke-width="0.7"/>
<path d="M670.5 139.0L681.5 106.0" stroke-width="0.7"/>
<path d="M685.5 106.0L698.0 139.0" stroke-width="0.7"/>
<path d="M685.5 139.0L698.0 106.0" stroke-width="0.7"/>
<path d="M702.0 106.0L713.0 139.0" stroke-width="0.7"/>
<path d="M702.0 139.0L713.0 106.0" stroke-width="0.7"/>
<path d="M717.0 106.0L728.8 139.0" stroke-width="0.7"/>
<path d="M717.0 139.0L728.8 106.0" stroke-width="0.7"/>
<path d="M732.8 106.0L744.5 139.0" stroke-width="0.7"/>
<path d="M732.8 139.0L744.5 106.0" stroke-width="0.7"/>
<path d="M748.5 106.0L760.3 139.0" stroke-width="0.7"/>
<path d="M748.5 139.0L760.3 106.0" stroke-width="0.7"/>
<path d="M764.3 106.0L775.3 139.0" stroke-width="0.7"/>
<path d="M764.3 139.0L775.3 106.0" stroke-width="0.7"/>
<path d="M779.3 106.0L791.0 139.0" stroke-width="0.7"/>
<path d="M779.3 139.0L791.0 106.0" stroke-width="0.7"/>
<path d="M795.0 106.0L806.8 139.0" stroke-width="0.7"/>
<path d="M795.0 139.0L806.8 106.0" stroke-width="0.7"/>
<path d="M810.8 106.0L822.6 139.0" stroke-width="0.7"/>
<path d="M810.8 139.0L822.6 106.0" stroke-width="0.7"/>
<path d="M826.6 106.0L838.4 139.0" stroke-width="0.7"/>
<path d="M826.6 139.0L838.4 106.0" stroke-width="0.7"/>
<path d="M842.4 106.0L852.5 139.0" stroke-width="0.7"/>
<path d="M842.4 139.0L852.5 106.0" stroke-width="0.7"/>
<path d="M598.5 92.0L598.5 148.0" stroke-width="0.8"/>
<path d="M629.5 92.0L629.5 148.0" stroke-width="0.8"/>
<path d="M661.5 92.0L661.5 148.0" stroke-width="0.8"/>
<path d="M692.5 92.0L692.5 148.0" stroke-width="0.8"/>
<path d="M724.5 92.0L724.5 148.0" stroke-width="0.8"/>
<path d="M755.5 92.0L755.5 148.0" stroke-width="0.8"/>
<path d="M787.5 92.0L787.5 148.0" stroke-width="0.8"/>
<path d="M818.5 92.0L818.5 148.0" stroke-width="0.8"/>
<path d="M849.5 92.0L849.5 148.0" stroke-width="0.8"/>
<path d="M590.0 94.5L601.0 94.5" stroke-width="0.8"/>
<path d="M605.6 94.5L616.6 94.5" stroke-width="0.8"/>
<path d="M621.2 94.5L632.2 94.5" stroke-width="0.8"/>
<path d="M636.8 94.5L647.8 94.5" stroke-width="0.8"/>
<path d="M652.4 94.5L663.4 94.5" stroke-width="0.8"/>
<path d="M668.0 94.5L679.0 94.5" stroke-width="0.8"/>
<path d="M683.6 94.5L694.6 94.5" stroke-width="0.8"/>
<path d="M699.2 94.5L710.2 94.5" stroke-width="0.8"/>
<path d="M714.8 94.5L725.8 94.5" stroke-width="0.8"/>
<path d="M730.4 94.5L741.4 94.5" stroke-width="0.8"/>
<path d="M746.0 94.5L757.0 94.5" stroke-width="0.8"/>
<path d="M761.6 94.5L772.6 94.5" stroke-width="0.8"/>
<path d="M777.2 94.5L788.2 94.5" stroke-width="0.8"/>
<path d="M792.8 94.5L803.8 94.5" stroke-width="0.8"/>
<path d="M808.4 94.5L819.4 94.5" stroke-width="0.8"/>
<path d="M824.0 94.5L835.0 94.5" stroke-width="0.8"/>
<path d="M839.6 94.5L850.6 94.5" stroke-width="0.8"/>
<path d="M587.0 153.5L860.0 153.5"/>
<path d="M598.3 151.2V154.8M596.7 154.6L599.9 151.4"/>
<path d="M614.0 151.2V154.8M612.4 154.6L615.6 151.4"/>
<path d="M629.7 151.2V154.8M628.1 154.6L631.3 151.4"/>
<path d="M645.4 151.2V154.8M643.8 154.6L647.0 151.4"/>
<path d="M661.1 151.2V154.8M659.5 154.6L662.7 151.4"/>
<path d="M676.8 151.2V154.8M675.2 154.6L678.4 151.4"/>
<path d="M692.5 151.2V154.8M690.9 154.6L694.1 151.4"/>
<path d="M708.2 151.2V154.8M706.6 154.6L709.8 151.4"/>
<path d="M723.9 151.2V154.8M722.3 154.6L725.5 151.4"/>
<path d="M739.6 151.2V154.8M738.0 154.6L741.2 151.4"/>
<path d="M755.3 151.2V154.8M753.7 154.6L756.9 151.4"/>
<path d="M771.0 151.2V154.8M769.4 154.6L772.6 151.4"/>
<path d="M786.7 151.2V154.8M785.1 154.6L788.3 151.4"/>
<path d="M802.4 151.2V154.8M800.8 154.6L804.0 151.4"/>
<path d="M818.1 151.2V154.8M816.5 154.6L819.7 151.4"/>
<path d="M833.8 151.2V154.8M832.2 154.6L835.4 151.4"/>
<path d="M849.5 151.2V154.8M847.9 154.6L851.1 151.4"/>
<path d="M865.2 151.2V154.8M863.6 154.6L866.8 151.4"/>
<path d="M860.5 70.0L860.5 158.0"/>
<path d="M865.5 109.5L952.5 109.5L952.5 157.5L865.5 157.5Z"/>
<path d="M904.5 109.3L904.5 157.7"/>
<circle cx="882.0" cy="105.7" r="11.6" stroke-width="1.15"/>
<path d="M866.2 109.3A15.8 15.8 0 0 1 897.8 109.3"/>
<path d="M868.0 105.7H896.0M882.0 91.7V119.7"/>
<circle cx="936.0" cy="104.5" r="12.3" stroke-width="1.15"/>
<path d="M919.5 109.3A16.5 16.5 0 0 1 952.5 109.3"/>
<path d="M922.0 104.5H950.0M936.0 90.5V118.5"/>
<path d="M904.5 95.5L916.5 95.5L916.5 109.5L904.5 109.5Z" stroke-width="1.2"/>
<path d="M906.5 98.5L914.5 98.5L914.5 107.5L906.5 107.5Z" stroke-width="1.2"/>
<path d="M875.0 87.5L889.0 87.5"/>
<path d="M929.0 87.5L943.0 87.5"/>
<path d="M882.5 87.5L882.5 150.0"/>
<circle cx="913.0" cy="124.0" r="2.8" stroke-width="1.15"/>
<path d="M907.0 124.5L921.0 124.5"/>
<path d="M931.0 120.0L952.0 120.0" stroke-width="1.4"/>
<path d="M882.0 134.5L905.0 134.5"/>
<path d="M910.0 134.5L936.0 134.5"/>
<path d="M912.0 132.2V136.8M914.0 132.2V136.8M910.4 134.5H915.6" stroke-width="0.9"/>
<path d="M917.0 132.2V136.8M919.0 132.2V136.8M915.4 134.5H920.6" stroke-width="0.9"/>
<path d="M922.0 132.2V136.8M924.0 132.2V136.8M920.4 134.5H925.6" stroke-width="0.9"/>
<path d="M934.0 132.2V136.8M936.0 132.2V136.8M932.4 134.5H937.6" stroke-width="0.9"/>
<path d="M917.5 139.5L927.5 139.5L927.5 152.5L917.5 152.5Z"/>
<path d="M917.0 143.5L931.0 143.5"/>
<path d="M917.0 148.5L931.0 148.5"/>
<path d="M921.0 152.5L940.0 152.5"/>
<path d="M929.0 147.5L950.0 147.5"/>
<path d="M865.3 109.8L867.7 109.8L867.7 112.2L865.3 112.2Z" stroke-width="0.8" fill="#222"/>
<path d="M949.8 109.8L952.2 109.8L952.2 112.2L949.8 112.2Z" stroke-width="0.8" fill="#222"/>
<path d="M865.3 154.8L867.7 154.8L867.7 157.2L865.3 157.2Z" stroke-width="0.8" fill="#222"/>
<path d="M949.8 154.8L952.2 154.8L952.2 157.2L949.8 157.2Z" stroke-width="0.8" fill="#222"/>
<path d="M903.8 154.8L906.2 154.8L906.2 157.2L903.8 157.2Z" stroke-width="0.8" fill="#222"/>
<path d="M874.5 142.5L878.5 142.5L878.5 146.5L874.5 146.5Z" stroke-width="0.8" fill="#222"/>
<path d="M884.0 146.0L886.5 150.0L889.0 146.0"/>
<path d="M957.5 140.0L957.5 160.0"/>
<path d="M954.5 123.6H959.5M954.5 125.6H959.5M957.0 122.0V127.2" stroke-width="0.9"/>
<path d="M954.5 142.0H959.5M954.5 144.0H959.5M957.0 140.4V145.6" stroke-width="0.9"/>
<path d="M954.5 149.0H959.5M954.5 151.0H959.5M957.0 147.4V152.6" stroke-width="0.9"/>
<path d="M963.5 140.0H969.5M966.5 137.0V143.0"/>
<path d="M265.0 180.5L394.5 180.5"/>
<path d="M265.0 181.5L394.5 181.5"/>
<path d="M267.5 181.0L267.5 190.0" stroke-width="0.8"/>
<path d="M269.5 181.0L269.5 190.0" stroke-width="0.8"/>
<path d="M266.5 186.5L270.5 186.5L270.5 190.5L266.5 190.5Z" stroke-width="0.8"/>
<path d="M268.5 177.0L268.5 181.0" stroke-width="0.7"/>
<path d="M282.5 181.0L282.5 190.0" stroke-width="0.8"/>
<path d="M285.5 181.0L285.5 190.0" stroke-width="0.8"/>
<path d="M282.5 186.5L285.5 186.5L285.5 190.5L282.5 190.5Z" stroke-width="0.8"/>
<path d="M283.5 177.0L283.5 181.0" stroke-width="0.7"/>
<path d="M298.5 181.0L298.5 190.0" stroke-width="0.8"/>
<path d="M300.5 181.0L300.5 190.0" stroke-width="0.8"/>
<path d="M297.5 186.5L301.5 186.5L301.5 190.5L297.5 190.5Z" stroke-width="0.8"/>
<path d="M299.5 177.0L299.5 181.0" stroke-width="0.7"/>
<path d="M314.5 181.0L314.5 190.0" stroke-width="0.8"/>
<path d="M316.5 181.0L316.5 190.0" stroke-width="0.8"/>
<path d="M313.5 186.5L317.5 186.5L317.5 190.5L313.5 190.5Z" stroke-width="0.8"/>
<path d="M315.5 177.0L315.5 181.0" stroke-width="0.7"/>
<path d="M329.5 181.0L329.5 190.0" stroke-width="0.8"/>
<path d="M332.5 181.0L332.5 190.0" stroke-width="0.8"/>
<path d="M329.5 186.5L332.5 186.5L332.5 190.5L329.5 190.5Z" stroke-width="0.8"/>
<path d="M330.5 177.0L330.5 181.0" stroke-width="0.7"/>
<path d="M345.5 181.0L345.5 190.0" stroke-width="0.8"/>
<path d="M347.5 181.0L347.5 190.0" stroke-width="0.8"/>
<path d="M344.5 186.5L348.5 186.5L348.5 190.5L344.5 190.5Z" stroke-width="0.8"/>
<path d="M346.5 177.0L346.5 181.0" stroke-width="0.7"/>
<path d="M361.5 181.0L361.5 190.0" stroke-width="0.8"/>
<path d="M363.5 181.0L363.5 190.0" stroke-width="0.8"/>
<path d="M360.5 186.5L364.5 186.5L364.5 190.5L360.5 190.5Z" stroke-width="0.8"/>
<path d="M362.5 177.0L362.5 181.0" stroke-width="0.7"/>
<path d="M376.5 181.0L376.5 190.0" stroke-width="0.8"/>
<path d="M379.5 181.0L379.5 190.0" stroke-width="0.8"/>
<path d="M376.5 186.5L379.5 186.5L379.5 190.5L376.5 190.5Z" stroke-width="0.8"/>
<path d="M377.5 177.0L377.5 181.0" stroke-width="0.7"/>
<path d="M392.5 181.0L392.5 190.0" stroke-width="0.8"/>
<path d="M394.5 181.0L394.5 190.0" stroke-width="0.8"/>
<path d="M391.5 186.5L395.5 186.5L395.5 190.5L391.5 190.5Z" stroke-width="0.8"/>
<path d="M393.5 177.0L393.5 181.0" stroke-width="0.7"/>
<path d="M437.7 180.5L586.3 180.5"/>
<path d="M437.7 181.5L586.3 181.5"/>
<path d="M444.5 181.0L444.5 190.0" stroke-width="0.8"/>
<path d="M446.5 181.0L446.5 190.0" stroke-width="0.8"/>
<path d="M443.5 186.5L447.5 186.5L447.5 190.5L443.5 190.5Z" stroke-width="0.8"/>
<path d="M445.5 177.0L445.5 181.0" stroke-width="0.7"/>
<path d="M459.5 181.0L459.5 190.0" stroke-width="0.8"/>
<path d="M462.5 181.0L462.5 190.0" stroke-width="0.8"/>
<path d="M459.5 186.5L462.5 186.5L462.5 190.5L459.5 190.5Z" stroke-width="0.8"/>
<path d="M460.5 177.0L460.5 181.0" stroke-width="0.7"/>
<path d="M475.5 181.0L475.5 190.0" stroke-width="0.8"/>
<path d="M477.5 181.0L477.5 190.0" stroke-width="0.8"/>
<path d="M474.5 186.5L478.5 186.5L478.5 190.5L474.5 190.5Z" stroke-width="0.8"/>
<path d="M476.5 177.0L476.5 181.0" stroke-width="0.7"/>
<path d="M491.5 181.0L491.5 190.0" stroke-width="0.8"/>
<path d="M493.5 181.0L493.5 190.0" stroke-width="0.8"/>
<path d="M490.5 186.5L494.5 186.5L494.5 190.5L490.5 190.5Z" stroke-width="0.8"/>
<path d="M492.5 177.0L492.5 181.0" stroke-width="0.7"/>
<path d="M507.5 181.0L507.5 190.0" stroke-width="0.8"/>
<path d="M509.5 181.0L509.5 190.0" stroke-width="0.8"/>
<path d="M506.5 186.5L510.5 186.5L510.5 190.5L506.5 190.5Z" stroke-width="0.8"/>
<path d="M508.5 177.0L508.5 181.0" stroke-width="0.7"/>
<path d="M522.5 181.0L522.5 190.0" stroke-width="0.8"/>
<path d="M525.5 181.0L525.5 190.0" stroke-width="0.8"/>
<path d="M522.5 186.5L525.5 186.5L525.5 190.5L522.5 190.5Z" stroke-width="0.8"/>
<path d="M523.5 177.0L523.5 181.0" stroke-width="0.7"/>
<path d="M538.5 181.0L538.5 190.0" stroke-width="0.8"/>
<path d="M540.5 181.0L540.5 190.0" stroke-width="0.8"/>
<path d="M537.5 186.5L541.5 186.5L541.5 190.5L537.5 190.5Z" stroke-width="0.8"/>
<path d="M539.5 177.0L539.5 181.0" stroke-width="0.7"/>
<path d="M554.5 181.0L554.5 190.0" stroke-width="0.8"/>
<path d="M556.5 181.0L556.5 190.0" stroke-width="0.8"/>
<path d="M553.5 186.5L557.5 186.5L557.5 190.5L553.5 190.5Z" stroke-width="0.8"/>
<path d="M555.5 177.0L555.5 181.0" stroke-width="0.7"/>
<path d="M570.5 181.0L570.5 190.0" stroke-width="0.8"/>
<path d="M572.5 181.0L572.5 190.0" stroke-width="0.8"/>
<path d="M569.5 186.5L573.5 186.5L573.5 190.5L569.5 190.5Z" stroke-width="0.8"/>
<path d="M571.5 177.0L571.5 181.0" stroke-width="0.7"/>
<path d="M582.5 181.0L582.5 190.0" stroke-width="0.8"/>
<path d="M585.5 181.0L585.5 190.0" stroke-width="0.8"/>
<path d="M582.5 186.5L585.5 186.5L585.5 190.5L582.5 190.5Z" stroke-width="0.8"/>
<path d="M583.5 177.0L583.5 181.0" stroke-width="0.7"/>
<path d="M273.0 199.5L289.0 199.5" stroke-width="0.8"/>
<path d="M304.0 199.5L320.0 199.5" stroke-width="0.8"/>
<path d="M338.0 199.5L354.0 199.5" stroke-width="0.8"/>
<path d="M369.0 199.5L385.0 199.5" stroke-width="0.8"/>
<path d="M447.0 199.5L463.0 199.5" stroke-width="0.8"/>
<path d="M477.0 199.5L493.0 199.5" stroke-width="0.8"/>
<path d="M510.0 199.5L526.0 199.5" stroke-width="0.8"/>
<path d="M540.0 199.5L556.0 199.5" stroke-width="0.8"/>
<path d="M569.0 199.5L585.0 199.5" stroke-width="0.8"/>
<path d="M679.7 180.5L815.0 180.5"/>
<path d="M679.7 181.5L815.0 181.5"/>
<path d="M683.5 181.0L683.5 190.0" stroke-width="0.8"/>
<path d="M685.5 181.0L685.5 190.0" stroke-width="0.8"/>
<path d="M682.5 186.5L686.5 186.5L686.5 190.5L682.5 190.5Z" stroke-width="0.8"/>
<path d="M684.5 177.0L684.5 181.0" stroke-width="0.7"/>
<path d="M698.5 181.0L698.5 190.0" stroke-width="0.8"/>
<path d="M701.5 181.0L701.5 190.0" stroke-width="0.8"/>
<path d="M698.5 186.5L701.5 186.5L701.5 190.5L698.5 190.5Z" stroke-width="0.8"/>
<path d="M700.5 177.0L700.5 181.0" stroke-width="0.7"/>
<path d="M716.5 181.0L716.5 190.0" stroke-width="0.8"/>
<path d="M719.5 181.0L719.5 190.0" stroke-width="0.8"/>
<path d="M716.5 186.5L719.5 186.5L719.5 190.5L716.5 190.5Z" stroke-width="0.8"/>
<path d="M717.5 177.0L717.5 181.0" stroke-width="0.7"/>
<path d="M732.5 181.0L732.5 190.0" stroke-width="0.8"/>
<path d="M734.5 181.0L734.5 190.0" stroke-width="0.8"/>
<path d="M731.5 186.5L735.5 186.5L735.5 190.5L731.5 190.5Z" stroke-width="0.8"/>
<path d="M733.5 177.0L733.5 181.0" stroke-width="0.7"/>
<path d="M749.5 181.0L749.5 190.0" stroke-width="0.8"/>
<path d="M752.5 181.0L752.5 190.0" stroke-width="0.8"/>
<path d="M749.5 186.5L752.5 186.5L752.5 190.5L749.5 190.5Z" stroke-width="0.8"/>
<path d="M751.5 177.0L751.5 181.0" stroke-width="0.7"/>
<path d="M768.5 181.0L768.5 190.0" stroke-width="0.8"/>
<path d="M770.5 181.0L770.5 190.0" stroke-width="0.8"/>
<path d="M767.5 186.5L771.5 186.5L771.5 190.5L767.5 190.5Z" stroke-width="0.8"/>
<path d="M769.5 177.0L769.5 181.0" stroke-width="0.7"/>
<path d="M780.5 181.0L780.5 190.0" stroke-width="0.8"/>
<path d="M783.5 181.0L783.5 190.0" stroke-width="0.8"/>
<path d="M780.5 186.5L783.5 186.5L783.5 190.5L780.5 190.5Z" stroke-width="0.8"/>
<path d="M781.5 177.0L781.5 181.0" stroke-width="0.7"/>
<path d="M797.5 181.0L797.5 190.0" stroke-width="0.8"/>
<path d="M799.5 181.0L799.5 190.0" stroke-width="0.8"/>
<path d="M796.5 186.5L800.5 186.5L800.5 190.5L796.5 190.5Z" stroke-width="0.8"/>
<path d="M798.5 177.0L798.5 181.0" stroke-width="0.7"/>
<path d="M810.5 181.0L810.5 190.0" stroke-width="0.8"/>
<path d="M812.5 181.0L812.5 190.0" stroke-width="0.8"/>
<path d="M809.5 186.5L813.5 186.5L813.5 190.5L809.5 190.5Z" stroke-width="0.8"/>
<path d="M811.5 177.0L811.5 181.0" stroke-width="0.7"/>
<path d="M810.0 180.5L957.0 180.5"/>
<path d="M810.0 181.5L957.0 181.5"/>
<path d="M811.5 181.0L811.5 190.0" stroke-width="0.8"/>
<path d="M813.5 181.0L813.5 190.0" stroke-width="0.8"/>
<path d="M810.5 186.5L814.5 186.5L814.5 190.5L810.5 190.5Z" stroke-width="0.8"/>
<path d="M812.5 177.0L812.5 181.0" stroke-width="0.7"/>
<path d="M828.5 181.0L828.5 190.0" stroke-width="0.8"/>
<path d="M831.5 181.0L831.5 190.0" stroke-width="0.8"/>
<path d="M828.5 186.5L831.5 186.5L831.5 190.5L828.5 190.5Z" stroke-width="0.8"/>
<path d="M830.5 177.0L830.5 181.0" stroke-width="0.7"/>
<path d="M844.5 181.0L844.5 190.0" stroke-width="0.8"/>
<path d="M846.5 181.0L846.5 190.0" stroke-width="0.8"/>
<path d="M843.5 186.5L847.5 186.5L847.5 190.5L843.5 190.5Z" stroke-width="0.8"/>
<path d="M845.5 177.0L845.5 181.0" stroke-width="0.7"/>
<path d="M859.5 181.0L859.5 190.0" stroke-width="0.8"/>
<path d="M861.5 181.0L861.5 190.0" stroke-width="0.8"/>
<path d="M858.5 186.5L862.5 186.5L862.5 190.5L858.5 190.5Z" stroke-width="0.8"/>
<path d="M860.5 177.0L860.5 181.0" stroke-width="0.7"/>
<path d="M932.5 181.0L932.5 190.0" stroke-width="0.8"/>
<path d="M935.5 181.0L935.5 190.0" stroke-width="0.8"/>
<path d="M932.5 186.5L935.5 186.5L935.5 190.5L932.5 190.5Z" stroke-width="0.8"/>
<path d="M933.5 177.0L933.5 181.0" stroke-width="0.7"/>
<path d="M948.5 181.0L948.5 190.0" stroke-width="0.8"/>
<path d="M950.5 181.0L950.5 190.0" stroke-width="0.8"/>
<path d="M947.5 186.5L951.5 186.5L951.5 190.5L947.5 190.5Z" stroke-width="0.8"/>
<path d="M949.5 177.0L949.5 181.0" stroke-width="0.7"/>
<path d="M876.5 181.0L876.5 199.0" stroke-width="0.9"/>
<path d="M879.5 181.0L879.5 199.0" stroke-width="0.9"/>
<path d="M876.5 194.5L880.5 194.5L880.5 199.5L876.5 199.5Z" stroke-width="0.9"/>
<path d="M878.5 176.0L878.5 181.0" stroke-width="0.8"/>
<path d="M895.5 181.0L895.5 199.0" stroke-width="0.9"/>
<path d="M898.5 181.0L898.5 199.0" stroke-width="0.9"/>
<path d="M895.5 194.5L899.5 194.5L899.5 199.5L895.5 199.5Z" stroke-width="0.9"/>
<path d="M897.5 176.0L897.5 181.0" stroke-width="0.8"/>
<path d="M914.5 181.0L914.5 199.0" stroke-width="0.9"/>
<path d="M916.5 181.0L916.5 199.0" stroke-width="0.9"/>
<path d="M913.5 194.5L917.5 194.5L917.5 199.5L913.5 199.5Z" stroke-width="0.9"/>
<path d="M915.5 176.0L915.5 181.0" stroke-width="0.8"/>
<path d="M932.5 181.0L932.5 197.0" stroke-width="0.9"/>
<path d="M935.5 181.0L935.5 197.0" stroke-width="0.9"/>
<path d="M931.5 192.5L935.5 192.5L935.5 197.5L931.5 197.5Z" stroke-width="0.9"/>
<path d="M933.5 176.0L933.5 181.0" stroke-width="0.8"/>
<circle cx="933.8" cy="193.0" r="1.8" stroke-width="0.9"/>
<path d="M948.5 181.0L948.5 197.0" stroke-width="0.9"/>
<path d="M950.5 181.0L950.5 197.0" stroke-width="0.9"/>
<path d="M947.5 192.5L951.5 192.5L951.5 197.5L947.5 197.5Z" stroke-width="0.9"/>
<path d="M949.5 176.0L949.5 181.0" stroke-width="0.8"/>
<circle cx="949.5" cy="193.0" r="1.8" stroke-width="0.9"/>
<path d="M683.0 205.5L700.0 205.5" stroke-width="0.9"/>
<path d="M718.0 205.5L735.0 205.5" stroke-width="0.9"/>
<path d="M753.0 205.5L770.0 205.5" stroke-width="0.9"/>
<path d="M836.0 205.5L853.0 205.5" stroke-width="0.9"/>
<path d="M879.0 205.5L896.0 205.5" stroke-width="0.9"/>
<path d="M906.0 205.5L923.0 205.5" stroke-width="0.9"/>
<path d="M932.0 205.5L949.0 205.5" stroke-width="0.9"/>
<path d="M735.0 161.5L761.0 161.5" stroke-width="0.9"/>
<path d="M783.0 210.5L799.0 210.5" stroke-width="0.9"/>
<path d="M780.5 191.5L786.5 191.5L786.5 199.5L780.5 199.5Z" stroke-width="0.9"/>
<path d="M795.5 191.5L801.5 191.5L801.5 199.5L795.5 199.5Z" stroke-width="0.9"/>
<path d="M777.0 200.5L804.0 200.5"/>
<path d="M786.0 195.5L795.0 195.5"/>
<path d="M76.7 231.5H943.5A19 15 0 0 0 962.5 216.5V72.2"/>
<path d="M76.7 252.5H942.5A20 13.5 0 0 1 962.5 266V412.5A20 15 0 0 1 942.5 427.5H76.7"/>
<path d="M983.5 72.2V213A20 18.5 0 0 0 1003.5 231.5H1375.7"/>
<path d="M1375.7 252.5H1003.5A20 20.7 0 0 0 983.5 273.2V439.4A33 24.1 0 0 0 1016.5 463.5H1375.7"/>
<path d="M195.7 266.5L856.7 266.5"/>
<path d="M66.6 353.5L1037.7 353.5"/>
<path d="M73.0 363.5L962.9 363.5"/>
<path d="M66.6 404.5L962.9 404.5"/>
<path d="M66.6 308.5L166.0 308.5"/>
<path d="M66.6 341.5L116.4 341.5"/>
<path d="M110.6 265.5L166.0 265.5"/>
<path d="M76.7 273.5L168.0 273.5"/>
<path d="M66.6 284.5L115.6 284.5"/>
<path d="M115.5 308.3L115.5 408.0"/>
<path d="M162.5 308.3L162.5 408.0"/>
<path d="M139.5 308.3L139.5 360.0"/>
<path d="M208.5 350.6L208.5 408.0"/>
<path d="M255.5 350.0L255.5 454.0"/>
<path d="M113.6 306.8L116.6 306.8L116.6 309.8L113.6 309.8Z" stroke-width="0.7"/>
<path d="M160.9 306.8L163.9 306.8L163.9 309.8L160.9 309.8Z" stroke-width="0.7"/>
<path d="M113.6 351.5L116.6 351.5L116.6 354.5L113.6 354.5Z" stroke-width="0.7"/>
<path d="M160.9 351.5L163.9 351.5L163.9 354.5L160.9 354.5Z" stroke-width="0.7"/>
<path d="M113.6 361.8L116.6 361.8L116.6 364.8L113.6 364.8Z" stroke-width="0.7"/>
<path d="M160.9 361.8L163.9 361.8L163.9 364.8L160.9 364.8Z" stroke-width="0.7"/>
<path d="M75.2 351.5L78.2 351.5L78.2 354.5L75.2 354.5Z" stroke-width="0.7"/>
<path d="M75.2 361.8L78.2 361.8L78.2 364.8L75.2 364.8Z" stroke-width="0.7"/>
<path d="M75.2 402.8L78.2 402.8L78.2 405.8L75.2 405.8Z" stroke-width="0.7"/>
<path d="M113.6 402.8L116.6 402.8L116.6 405.8L113.6 405.8Z" stroke-width="0.7"/>
<path d="M160.9 402.8L163.9 402.8L163.9 405.8L160.9 405.8Z" stroke-width="0.7"/>
<path d="M207.1 402.8L210.1 402.8L210.1 405.8L207.1 405.8Z" stroke-width="0.7"/>
<path d="M207.1 351.5L210.1 351.5L210.1 354.5L207.1 354.5Z" stroke-width="0.7"/>
<path d="M253.9 351.5L256.9 351.5L256.9 354.5L253.9 354.5Z" stroke-width="0.7"/>
<path d="M253.9 361.8L256.9 361.8L256.9 364.8L253.9 364.8Z" stroke-width="0.7"/>
<path d="M253.9 402.8L256.9 402.8L256.9 405.8L253.9 405.8Z" stroke-width="0.7"/>
<path d="M67.5 251.5H73.5M67.5 253.5H73.5M70.5 249.9V255.1" stroke-width="0.9"/>
<path d="M67.5 265.3H73.5M67.5 267.3H73.5M70.5 263.7V268.9" stroke-width="0.9"/>
<path d="M67.5 283.3H73.5M67.5 285.3H73.5M70.5 281.7V286.9" stroke-width="0.9"/>
<path d="M67.5 307.3H73.5M67.5 309.3H73.5M70.5 305.7V310.9" stroke-width="0.9"/>
<path d="M67.5 340.5H73.5M67.5 342.5H73.5M70.5 338.9V344.1" stroke-width="0.9"/>
<path d="M67.5 403.3H73.5M67.5 405.3H73.5M70.5 401.7V406.9" stroke-width="0.9"/>
<path d="M68.0 345.0H73.0M68.0 347.0H73.0M70.5 343.4V348.6" stroke-width="0.9"/>
<path d="M67.5 352.0H73.5M67.5 354.0H73.5M70.5 350.4V355.6" stroke-width="0.9"/>
<path d="M89.5 305.5L99.5 305.5L99.5 331.5L89.5 331.5Z"/>
<path d="M99.5 311.5L104.5 311.5L104.5 322.5L99.5 322.5Z"/>
<path d="M94.5 301.3L94.5 333.5"/>
<path d="M88.2 301.5L100.6 301.5"/>
<circle cx="128.0" cy="360.6" r="3.7" stroke-width="1.15"/>
<path d="M122.5 360.6H133.5M128.0 355.1V366.1"/>
<path d="M122.2 371.5L134.7 371.5"/>
<path d="M139.7 358.0L137.0 359.5L139.7 361.0"/>
<path d="M115.1 394.5L162.4 394.5"/>
<path d="M138.8 392.7V396.7M137.2 396.3L140.4 393.1"/>
<path d="M151.3 392.7V396.7M149.7 396.3L152.9 393.1"/>
<circle cx="138.3" cy="411.6" r="3.9" stroke-width="1.15"/>
<circle cx="151.3" cy="411.6" r="3.9" stroke-width="1.15"/>
<path d="M132.8 411.6H143.8M138.3 406.1V417.1"/>
<path d="M145.8 411.6H156.8M151.3 406.1V417.1"/>
<path d="M133.5 401.5L145.5 401.5"/>
<path d="M147.6 401.5L159.6 401.5"/>
<path d="M130.5 404.3L130.5 413.0"/>
<path d="M77.5 223.5L113.0 223.5"/>
<path d="M87.5 221.5V225.5M85.9 225.1L89.1 221.9"/>
<path d="M98.0 221.5V225.5M96.4 225.1L99.6 221.9"/>
<path d="M111.5 221.5V225.5M109.9 225.1L113.1 221.9"/>
<path d="M77.5 223.5L80.7 230.6L100.6 230.6"/>
<path d="M92.5 210.5L113.5 210.5L113.5 217.5L92.5 217.5Z" stroke-width="0.9"/>
<path d="M98.5 206.5L107.5 206.5L107.5 210.5L98.5 210.5Z" stroke-width="0.9"/>
<path d="M84.0 213.5L121.0 213.5"/>
<path d="M86.5 211.0L86.5 216.5" stroke-width="0.8"/>
<path d="M88.5 211.0L88.5 216.5" stroke-width="0.8"/>
<path d="M91.5 211.0L91.5 216.5" stroke-width="0.8"/>
<path d="M115.5 211.0L115.5 216.5" stroke-width="0.8"/>
<path d="M117.5 211.0L117.5 216.5" stroke-width="0.8"/>
<path d="M75.7 199.5L96.5 199.5"/>
<path d="M105.6 199.5L128.9 199.5"/>
<path d="M170.5 252.5L170.5 353.0"/>
<path d="M276.5 252.5L276.5 353.0"/>
<path d="M216.2 273.5A20.6 20.6 0 1 0 204 295.5"/>
<circle cx="195.7" cy="328.9" r="20.6" stroke-width="1.15"/>
<path d="M195.5 253.0L195.5 364.6"/>
<path d="M168.3 273.5L219.8 273.5"/>
<path d="M170.0 275.5L218.3 275.5"/>
<path d="M168.3 328.5L220.7 328.5"/>
<path d="M208.5 275.7L208.5 328.9"/>
<path d="M206.2 300.6H210.2M206.6 302.2L209.8 299.0"/>
<path d="M206.2 310.6H210.2M206.6 312.2L209.8 309.0"/>
<path d="M175.0 300.5L190.0 300.5"/>
<path d="M175.8 307.5L190.7 307.5"/>
<path d="M218.0 290.5L235.6 290.5"/>
<path d="M247.2 290.5L262.0 290.5"/>
<path d="M239.5 270.5L245.5 270.5L245.5 275.5L239.5 275.5Z"/>
<path d="M239.5 283.5L245.5 283.5L245.5 287.5L239.5 287.5Z"/>
<path d="M236.5 271.5L236.5 285.7"/>
<path d="M245.9 279.5L262.0 279.5"/>
<circle cx="263.5" cy="272.4" r="12.2" stroke-width="1.15"/>
<circle cx="263.5" cy="301.5" r="9.4" stroke-width="1.15"/>
<circle cx="263.5" cy="332.5" r="9.4" stroke-width="1.15"/>
<path d="M263.5 258.3L263.5 343.0"/>
<path d="M248.0 272.5L279.6 272.5"/>
<path d="M233.0 301.5L279.6 301.5"/>
<path d="M249.7 332.5L279.6 332.5"/>
<path d="M247.2 260.5L262.0 260.5"/>
<path d="M243.5 306.5L247.5 306.5L247.5 310.5L243.5 310.5Z" stroke-width="0.7"/>
<path d="M241.4 308.9H250.4M245.9 304.4V313.4"/>
<path d="M243.5 320.5L247.5 320.5L247.5 324.5L243.5 324.5Z" stroke-width="0.7"/>
<path d="M241.4 322.2H250.4M245.9 317.7V326.7"/>
<path d="M252.5 308.9L252.5 322.2"/>
<path d="M252.0 320.5L270.0 320.5"/>
<path d="M244.7 348.5L264.7 348.5"/>
<path d="M254.7 346.8V350.8M253.1 350.4L256.3 347.2"/>
<path d="M274.2 271.4H279.4M274.2 273.4H279.4M276.8 269.8V275.0" stroke-width="0.9"/>
<path d="M274.2 300.5H279.4M274.2 302.5H279.4M276.8 298.9V304.1" stroke-width="0.9"/>
<path d="M274.2 331.5H279.4M274.2 333.5H279.4M276.8 329.9V335.1" stroke-width="0.9"/>
<circle cx="310.3" cy="301.5" r="12.6" stroke-width="1.15"/>
<path d="M295.4 301.5L331.0 301.5"/>
<path d="M310.5 287.3L310.5 314.8"/>
<path d="M305.0 285.5L316.0 285.5"/>
<circle cx="310.3" cy="333.0" r="8.7" stroke-width="1.15"/>
<path d="M297.0 333.5L323.0 333.5"/>
<path d="M310.5 322.0L310.5 344.7"/>
<path d="M294.5 284.5L298.5 284.5L298.5 298.5L294.5 298.5Z" stroke-width="0.9"/>
<path d="M294.2 286.5L298.7 286.5" stroke-width="0.9"/>
<path d="M294.2 288.5L298.7 288.5" stroke-width="0.9"/>
<path d="M294.2 291.5L298.7 291.5" stroke-width="0.9"/>
<path d="M294.2 293.5L298.7 293.5" stroke-width="0.9"/>
<path d="M294.2 295.5L298.7 295.5" stroke-width="0.9"/>
<circle cx="320.3" cy="322.2" r="2.5" stroke-width="1.15"/>
<path d="M292.0 317.5L322.0 317.5"/>
<path d="M292.5 316.4L292.5 343.8"/>
<path d="M284.5 322.5L292.5 322.5L292.5 326.5L284.5 326.5Z"/>
<path d="M284.5 339.5L292.5 339.5L292.5 343.5L284.5 343.5Z"/>
<path d="M327.5 301.5L327.5 328.0"/>
<path d="M325.6 322.0H329.6M326.0 323.6L329.2 320.4"/>
<path d="M280.0 314.5L297.7 314.5"/>
<path d="M318.0 338.5L330.6 338.5"/>
<path d="M332.0 328.0L332.0 337.0L337.0 337.0"/>
<path d="M302.0 344.5L400.0 344.5"/>
<path d="M321.2 342.1V347.3M323.2 342.1V347.3M319.6 344.7H324.8" stroke-width="0.9"/>
<path d="M337.6 342.1V347.3M339.6 342.1V347.3M336.0 344.7H341.2" stroke-width="0.9"/>
<path d="M394.0 342.1V347.3M396.0 342.1V347.3M392.4 344.7H397.6" stroke-width="0.9"/>
<path d="M335.3 284.1V331.3A6.2 3.4 0 0 0 347.7 331.3V284.1A6.2 3.4 0 0 0 335.3 284.1Z"/>
<path d="M334.5 287.5L348.5 287.5"/>
<path d="M334.5 289.5L348.5 289.5"/>
<path d="M334.5 326.5L348.5 326.5"/>
<path d="M334.5 329.5L348.5 329.5"/>
<path d="M341.5 277.4L341.5 336.0"/>
<path d="M334.4 277.5L346.8 277.5"/>
<path d="M353.5 288.0L353.5 331.4"/>
<path d="M352.2 328.5V333.5M354.2 328.5V333.5M350.6 331.0H355.8" stroke-width="0.9"/>
<path d="M359.5 284.5L364.5 284.5L364.5 304.5L359.5 304.5Z" stroke-width="0.9"/>
<path d="M359.3 287.5L364.3 287.5" stroke-width="0.9"/>
<path d="M359.3 289.5L364.3 289.5" stroke-width="0.9"/>
<path d="M359.3 292.5L364.3 292.5" stroke-width="0.9"/>
<path d="M359.3 294.5L364.3 294.5" stroke-width="0.9"/>
<path d="M359.3 296.5L364.3 296.5" stroke-width="0.9"/>
<path d="M359.3 299.5L364.3 299.5" stroke-width="0.9"/>
<path d="M359.3 301.5L364.3 301.5" stroke-width="0.9"/>
<path d="M310.3 264.1V268.5M308.7 267.9L311.9 264.7"/>
<path d="M341.9 264.1V268.5M340.3 267.9L343.5 264.7"/>
<path d="M363.3 263.5V269.1M365.3 263.5V269.1M361.7 266.3H366.9" stroke-width="0.9"/>
<path d="M394.8 263.5V269.1M396.8 263.5V269.1M393.2 266.3H398.4" stroke-width="0.9"/>
<path d="M426.4 263.5V269.1M428.4 263.5V269.1M424.8 266.3H430.0" stroke-width="0.9"/>
<path d="M457.1 263.5V269.1M459.1 263.5V269.1M455.5 266.3H460.7" stroke-width="0.9"/>
<path d="M467.9 263.5V269.1M469.9 263.5V269.1M466.3 266.3H471.5" stroke-width="0.9"/>
<path d="M481.2 263.5V269.1M483.2 263.5V269.1M479.6 266.3H484.8" stroke-width="0.9"/>
<path d="M512.9 264.1V268.5M511.3 267.9L514.5 264.7"/>
<path d="M538.7 264.1V268.5M537.1 267.9L540.3 264.7"/>
<path d="M570.2 264.1V268.5M568.6 267.9L571.8 264.7"/>
<path d="M599.0 264.1V268.5M597.4 267.9L600.6 264.7"/>
<path d="M629.1 264.1V268.5M627.5 267.9L630.7 264.7"/>
<path d="M660.4 264.1V268.5M658.8 267.9L662.0 264.7"/>
<path d="M691.7 264.1V268.5M690.1 267.9L693.3 264.7"/>
<path d="M723.0 264.1V268.5M721.4 267.9L724.6 264.7"/>
<path d="M754.3 264.1V268.5M752.7 267.9L755.9 264.7"/>
<path d="M785.6 264.1V268.5M784.0 267.9L787.2 264.7"/>
<path d="M816.9 264.1V268.5M815.3 267.9L818.5 264.7"/>
<path d="M848.2 264.1V268.5M846.6 267.9L849.8 264.7"/>
<path d="M847.4 263.5V269.1M849.4 263.5V269.1M845.8 266.3H851.0" stroke-width="0.9"/>
<path d="M395.5 285.0L395.5 333.0"/>
<path d="M364.5 285.0L364.5 333.0"/>
<path d="M404.5 264.9L404.5 332.2"/>
<path d="M362.0 285.5L464.8 285.5"/>
<path d="M363.1 284.2L366.1 284.2L366.1 287.2L363.1 287.2Z" stroke-width="0.7"/>
<path d="M394.3 284.2L397.3 284.2L397.3 287.2L394.3 287.2Z" stroke-width="0.7"/>
<path d="M425.9 284.2L428.9 284.2L428.9 287.2L425.9 287.2Z" stroke-width="0.7"/>
<path d="M456.6 284.2L459.6 284.2L459.6 287.2L456.6 287.2Z" stroke-width="0.7"/>
<path d="M362.0 308.5L464.8 308.5"/>
<path d="M363.1 307.1L366.1 307.1L366.1 310.1L363.1 310.1Z" stroke-width="0.7"/>
<path d="M394.3 307.1L397.3 307.1L397.3 310.1L394.3 310.1Z" stroke-width="0.7"/>
<path d="M425.9 307.1L428.9 307.1L428.9 310.1L425.9 310.1Z" stroke-width="0.7"/>
<path d="M456.6 307.1L459.6 307.1L459.6 310.1L456.6 310.1Z" stroke-width="0.7"/>
<path d="M362.0 331.5L464.8 331.5"/>
<path d="M363.1 329.9L366.1 329.9L366.1 332.9L363.1 332.9Z" stroke-width="0.7"/>
<path d="M394.3 329.9L397.3 329.9L397.3 332.9L394.3 332.9Z" stroke-width="0.7"/>
<path d="M425.9 329.9L428.9 329.9L428.9 332.9L425.9 332.9Z" stroke-width="0.7"/>
<path d="M456.6 329.9L459.6 329.9L459.6 332.9L456.6 332.9Z" stroke-width="0.7"/>
<path d="M427.5 279.9L427.5 333.0"/>
<path d="M458.5 279.9L458.5 333.0"/>
<path d="M407.1 296.5V323.0A4.5 2.5 0 0 0 416.1 323.0V296.5A4.5 2.5 0 0 0 407.1 296.5Z"/>
<path d="M406.0 298.5L417.2 298.5"/>
<path d="M406.0 300.5L417.2 300.5"/>
<path d="M406.0 319.5L417.2 319.5"/>
<path d="M406.0 321.5L417.2 321.5"/>
<path d="M411.5 291.0L411.5 328.0"/>
<path d="M407.1 281.5L418.0 281.5"/>
<path d="M406.0 336.5L425.0 336.5"/>
<path d="M410.0 337.0L411.6 340.5L413.2 337.0"/>
<path d="M430.6 290.4V327.5A11.7 6.4 0 0 0 454.0 327.5V290.4A11.7 6.4 0 0 0 430.6 290.4Z"/>
<path d="M434.5 290.7L434.5 327.2"/>
<path d="M450.5 290.7L450.5 327.2"/>
<path d="M429.0 290.5L456.0 290.5"/>
<path d="M429.0 293.5L456.0 293.5"/>
<path d="M429.0 325.5L456.0 325.5"/>
<path d="M429.0 327.5L456.0 327.5"/>
<path d="M442.5 281.0L442.5 336.0"/>
<path d="M437.1 280.5L447.9 280.5"/>
<path d="M437.0 339.5L455.0 339.5"/>
<path d="M455.0 339.6L456.5 332.0"/>
<path d="M466.4 289.6V325.8A2.5 1.4 0 0 0 471.4 325.8V289.6A2.5 1.4 0 0 0 466.4 289.6Z"/>
<path d="M468.5 286.0L468.5 329.0"/>
<path d="M465.5 291.5L472.3 291.5" stroke-width="0.9"/>
<path d="M465.5 294.5L472.3 294.5" stroke-width="0.9"/>
<path d="M465.5 297.5L472.3 297.5" stroke-width="0.9"/>
<path d="M465.5 318.5L472.3 318.5" stroke-width="0.9"/>
<path d="M465.5 321.5L472.3 321.5" stroke-width="0.9"/>
<path d="M465.5 323.5L472.3 323.5" stroke-width="0.9"/>
<path d="M464.0 282.5L474.8 282.5"/>
<circle cx="468.1" cy="336.3" r="3.5" stroke-width="1.15"/>
<path d="M463.1 336.3H473.1M468.1 331.3V341.3"/>
<path d="M470.0 333.5L481.0 333.5"/>
<path d="M461.5 285.7L461.5 331.4"/>
<path d="M459.5 298.0H463.5M459.9 299.6L463.1 296.4"/>
<path d="M459.5 317.0H463.5M459.9 318.6L463.1 315.4"/>
<circle cx="481.0" cy="308.4" r="4.6" stroke-width="1.15"/>
<path d="M475.0 308.4H487.0M481.0 302.4V314.4"/>
<circle cx="512.6" cy="308.4" r="4.6" stroke-width="1.15"/>
<path d="M506.6 308.4H518.6M512.6 302.4V314.4"/>
<circle cx="496.8" cy="327.2" r="4.6" stroke-width="1.15"/>
<path d="M490.8 327.2H502.8M496.8 321.2V333.2"/>
<path d="M481.8 316.0A7.6 7.6 0 1 1 486.8 303.5L506.8 303.5A7.6 7.6 0 1 1 511.8 316.0L503.5 323.6A7.6 7.6 0 1 1 490.1 323.6L481.8 316.0Z"/>
<path d="M492.5 304.5L504.5 304.5L504.5 308.5L492.5 308.5Z" stroke-width="0.9" fill="#555"/>
<path d="M476.0 297.5L486.6 297.5"/>
<path d="M508.0 297.5L518.7 297.5"/>
<path d="M505.0 334.5L514.6 334.5"/>
<path d="M523.5 308.4L523.5 353.0"/>
<path d="M522.7 305.9V310.9M524.7 305.9V310.9M521.1 308.4H526.3" stroke-width="0.9"/>
<path d="M521.7 326.7H525.7M522.1 328.3L525.3 325.1"/>
<path d="M521.7 336.2H525.7M522.1 337.8L525.3 334.6"/>
<path d="M530.4 280.5V333.2A8.7 4.8 0 0 0 547.8 333.2V280.5A8.7 4.8 0 0 0 530.4 280.5Z"/>
<path d="M529.6 280.5L548.6 280.5"/>
<path d="M529.6 282.5L548.6 282.5"/>
<path d="M529.6 284.5L548.6 284.5"/>
<path d="M529.6 328.5L548.6 328.5"/>
<path d="M529.6 330.5L548.6 330.5"/>
<path d="M529.6 333.5L548.6 333.5"/>
<path d="M539.5 273.0L539.5 341.5"/>
<path d="M533.0 272.5L546.0 272.5"/>
<path d="M559.4 280.7V333.0A10.6 5.8 0 0 0 580.6 333.0V280.7A10.6 5.8 0 0 0 559.4 280.7Z"/>
<path d="M558.6 280.5L581.4 280.5"/>
<path d="M558.6 283.5L581.4 283.5"/>
<path d="M558.6 285.5L581.4 285.5"/>
<path d="M558.6 328.5L581.4 328.5"/>
<path d="M558.6 330.5L581.4 330.5"/>
<path d="M558.6 332.5L581.4 332.5"/>
<path d="M570.5 272.0L570.5 341.5"/>
<path d="M564.2 272.5L577.0 272.5"/>
<path d="M563.5 281.0L563.5 331.0"/>
<path d="M577.5 281.0L577.5 331.0"/>
<path d="M553.5 285.7L553.5 330.5"/>
<path d="M551.1 327.0H556.1M551.1 329.0H556.1M553.6 325.4V330.6" stroke-width="0.9"/>
<path d="M548.0 286.5L556.0 286.5"/>
<path d="M558.0 327.5L601.0 327.5"/>
<path d="M592.5 284.5L597.5 284.5L597.5 304.5L592.5 304.5Z" stroke-width="0.9"/>
<path d="M592.3 287.5L597.6 287.5" stroke-width="0.9"/>
<path d="M592.3 289.5L597.6 289.5" stroke-width="0.9"/>
<path d="M592.3 292.5L597.6 292.5" stroke-width="0.9"/>
<path d="M592.3 294.5L597.6 294.5" stroke-width="0.9"/>
<path d="M592.3 296.5L597.6 296.5" stroke-width="0.9"/>
<path d="M592.3 299.5L597.6 299.5" stroke-width="0.9"/>
<path d="M592.3 301.5L597.6 301.5" stroke-width="0.9"/>
<path d="M598.0 285.5L849.2 285.5"/>
<path d="M592.0 308.5L851.0 308.5"/>
<path d="M598.0 331.5L851.0 331.5"/>
<path d="M604 283.5H849" stroke-width="0.9" stroke-dasharray="11 4"/>
<path d="M598.5 279.9L598.5 333.0"/>
<path d="M597.3 283.8L600.1 283.8L600.1 286.6L597.3 286.6Z" stroke-width="0.7"/>
<path d="M597.3 307.2L600.1 307.2L600.1 310.0L597.3 310.0Z" stroke-width="0.7"/>
<path d="M597.3 330.0L600.1 330.0L600.1 332.8L597.3 332.8Z" stroke-width="0.7"/>
<path d="M630.5 279.9L630.5 333.0"/>
<path d="M628.6 283.8L631.4 283.8L631.4 286.6L628.6 286.6Z" stroke-width="0.7"/>
<path d="M628.6 307.2L631.4 307.2L631.4 310.0L628.6 310.0Z" stroke-width="0.7"/>
<path d="M628.6 330.0L631.4 330.0L631.4 332.8L628.6 332.8Z" stroke-width="0.7"/>
<path d="M660.5 279.9L660.5 333.0"/>
<path d="M659.3 283.8L662.1 283.8L662.1 286.6L659.3 286.6Z" stroke-width="0.7"/>
<path d="M659.3 307.2L662.1 307.2L662.1 310.0L659.3 310.0Z" stroke-width="0.7"/>
<path d="M659.3 330.0L662.1 330.0L662.1 332.8L659.3 332.8Z" stroke-width="0.7"/>
<path d="M692.5 279.9L692.5 333.0"/>
<path d="M690.9 283.8L693.7 283.8L693.7 286.6L690.9 286.6Z" stroke-width="0.7"/>
<path d="M690.9 307.2L693.7 307.2L693.7 310.0L690.9 310.0Z" stroke-width="0.7"/>
<path d="M690.9 330.0L693.7 330.0L693.7 332.8L690.9 332.8Z" stroke-width="0.7"/>
<path d="M723.5 279.9L723.5 333.0"/>
<path d="M721.9 283.8L724.7 283.8L724.7 286.6L721.9 286.6Z" stroke-width="0.7"/>
<path d="M721.9 307.2L724.7 307.2L724.7 310.0L721.9 310.0Z" stroke-width="0.7"/>
<path d="M721.9 330.0L724.7 330.0L724.7 332.8L721.9 332.8Z" stroke-width="0.7"/>
<path d="M754.5 279.9L754.5 333.0"/>
<path d="M753.2 283.8L756.0 283.8L756.0 286.6L753.2 286.6Z" stroke-width="0.7"/>
<path d="M753.2 307.2L756.0 307.2L756.0 310.0L753.2 310.0Z" stroke-width="0.7"/>
<path d="M753.2 330.0L756.0 330.0L756.0 332.8L753.2 332.8Z" stroke-width="0.7"/>
<path d="M785.5 279.9L785.5 333.0"/>
<path d="M784.2 283.8L787.0 283.8L787.0 286.6L784.2 286.6Z" stroke-width="0.7"/>
<path d="M784.2 307.2L787.0 307.2L787.0 310.0L784.2 310.0Z" stroke-width="0.7"/>
<path d="M784.2 330.0L787.0 330.0L787.0 332.8L784.2 332.8Z" stroke-width="0.7"/>
<path d="M817.5 279.9L817.5 333.0"/>
<path d="M815.8 283.8L818.6 283.8L818.6 286.6L815.8 286.6Z" stroke-width="0.7"/>
<path d="M815.8 307.2L818.6 307.2L818.6 310.0L815.8 310.0Z" stroke-width="0.7"/>
<path d="M815.8 330.0L818.6 330.0L818.6 332.8L815.8 332.8Z" stroke-width="0.7"/>
<path d="M848.5 279.9L848.5 333.0"/>
<path d="M847.5 283.8L850.3 283.8L850.3 286.6L847.5 286.6Z" stroke-width="0.7"/>
<path d="M847.5 307.2L850.3 307.2L850.3 310.0L847.5 310.0Z" stroke-width="0.7"/>
<path d="M847.5 330.0L850.3 330.0L850.3 332.8L847.5 332.8Z" stroke-width="0.7"/>
<path d="M602.7 289.6V328.2A4.1 2.3 0 0 0 610.9 328.2V289.6A4.1 2.3 0 0 0 602.7 289.6Z"/>
<path d="M604.5 290.3L604.5 327.5" stroke-width="0.8"/>
<path d="M609.5 290.3L609.5 327.5" stroke-width="0.8"/>
<path d="M601.7 291.5L611.9 291.5" stroke-width="0.9"/>
<path d="M601.7 293.5L611.9 293.5" stroke-width="0.9"/>
<path d="M601.7 296.5L611.9 296.5" stroke-width="0.9"/>
<path d="M601.7 321.5L611.9 321.5" stroke-width="0.9"/>
<path d="M601.7 324.5L611.9 324.5" stroke-width="0.9"/>
<path d="M601.7 326.5L611.9 326.5" stroke-width="0.9"/>
<path d="M606.5 285.8L606.5 333.0" stroke-width="0.8"/>
<path d="M617.6 289.6V328.2A4.1 2.3 0 0 0 625.8 328.2V289.6A4.1 2.3 0 0 0 617.6 289.6Z"/>
<path d="M619.5 290.3L619.5 327.5" stroke-width="0.8"/>
<path d="M624.5 290.3L624.5 327.5" stroke-width="0.8"/>
<path d="M616.6 291.5L626.8 291.5" stroke-width="0.9"/>
<path d="M616.6 293.5L626.8 293.5" stroke-width="0.9"/>
<path d="M616.6 296.5L626.8 296.5" stroke-width="0.9"/>
<path d="M616.6 321.5L626.8 321.5" stroke-width="0.9"/>
<path d="M616.6 324.5L626.8 324.5" stroke-width="0.9"/>
<path d="M616.6 326.5L626.8 326.5" stroke-width="0.9"/>
<path d="M621.5 285.8L621.5 333.0" stroke-width="0.8"/>
<path d="M633.8 289.6V328.2A4.1 2.3 0 0 0 642.0 328.2V289.6A4.1 2.3 0 0 0 633.8 289.6Z"/>
<path d="M635.5 290.3L635.5 327.5" stroke-width="0.8"/>
<path d="M640.5 290.3L640.5 327.5" stroke-width="0.8"/>
<path d="M632.8 291.5L643.0 291.5" stroke-width="0.9"/>
<path d="M632.8 293.5L643.0 293.5" stroke-width="0.9"/>
<path d="M632.8 296.5L643.0 296.5" stroke-width="0.9"/>
<path d="M632.8 321.5L643.0 321.5" stroke-width="0.9"/>
<path d="M632.8 324.5L643.0 324.5" stroke-width="0.9"/>
<path d="M632.8 326.5L643.0 326.5" stroke-width="0.9"/>
<path d="M637.5 285.8L637.5 333.0" stroke-width="0.8"/>
<path d="M649.5 289.6V325.6A2.9 1.6 0 0 0 655.3 325.6V289.6A2.9 1.6 0 0 0 649.5 289.6Z"/>
<path d="M648.5 292.5L656.3 292.5" stroke-width="0.9"/>
<path d="M648.5 294.5L656.3 294.5" stroke-width="0.9"/>
<path d="M648.5 297.5L656.3 297.5" stroke-width="0.9"/>
<path d="M648.5 317.5L656.3 317.5" stroke-width="0.9"/>
<path d="M648.5 320.5L656.3 320.5" stroke-width="0.9"/>
<path d="M648.5 322.5L656.3 322.5" stroke-width="0.9"/>
<path d="M652.5 286.5L652.5 329.7" stroke-width="0.8"/>
<path d="M666.1 289.6V325.6A2.9 1.6 0 0 0 671.9 325.6V289.6A2.9 1.6 0 0 0 666.1 289.6Z"/>
<path d="M665.1 292.5L672.9 292.5" stroke-width="0.9"/>
<path d="M665.1 294.5L672.9 294.5" stroke-width="0.9"/>
<path d="M665.1 297.5L672.9 297.5" stroke-width="0.9"/>
<path d="M665.1 317.5L672.9 317.5" stroke-width="0.9"/>
<path d="M665.1 320.5L672.9 320.5" stroke-width="0.9"/>
<path d="M665.1 322.5L672.9 322.5" stroke-width="0.9"/>
<path d="M669.5 286.5L669.5 329.7" stroke-width="0.8"/>
<path d="M681.1 289.6V325.6A2.9 1.6 0 0 0 686.9 325.6V289.6A2.9 1.6 0 0 0 681.1 289.6Z"/>
<path d="M680.1 292.5L687.9 292.5" stroke-width="0.9"/>
<path d="M680.1 294.5L687.9 294.5" stroke-width="0.9"/>
<path d="M680.1 297.5L687.9 297.5" stroke-width="0.9"/>
<path d="M680.1 317.5L687.9 317.5" stroke-width="0.9"/>
<path d="M680.1 320.5L687.9 320.5" stroke-width="0.9"/>
<path d="M680.1 322.5L687.9 322.5" stroke-width="0.9"/>
<path d="M684.5 286.5L684.5 329.7" stroke-width="0.8"/>
<path d="M697.7 289.6V325.6A2.9 1.6 0 0 0 703.5 325.6V289.6A2.9 1.6 0 0 0 697.7 289.6Z"/>
<path d="M696.7 292.5L704.5 292.5" stroke-width="0.9"/>
<path d="M696.7 294.5L704.5 294.5" stroke-width="0.9"/>
<path d="M696.7 297.5L704.5 297.5" stroke-width="0.9"/>
<path d="M696.7 317.5L704.5 317.5" stroke-width="0.9"/>
<path d="M696.7 320.5L704.5 320.5" stroke-width="0.9"/>
<path d="M696.7 322.5L704.5 322.5" stroke-width="0.9"/>
<path d="M700.5 286.5L700.5 329.7" stroke-width="0.8"/>
<path d="M711.8 289.6V325.6A2.9 1.6 0 0 0 717.6 325.6V289.6A2.9 1.6 0 0 0 711.8 289.6Z"/>
<path d="M710.8 292.5L718.6 292.5" stroke-width="0.9"/>
<path d="M710.8 294.5L718.6 294.5" stroke-width="0.9"/>
<path d="M710.8 297.5L718.6 297.5" stroke-width="0.9"/>
<path d="M710.8 317.5L718.6 317.5" stroke-width="0.9"/>
<path d="M710.8 320.5L718.6 320.5" stroke-width="0.9"/>
<path d="M710.8 322.5L718.6 322.5" stroke-width="0.9"/>
<path d="M714.5 286.5L714.5 329.7" stroke-width="0.8"/>
<path d="M728.4 289.6V325.6A2.9 1.6 0 0 0 734.2 325.6V289.6A2.9 1.6 0 0 0 728.4 289.6Z"/>
<path d="M727.4 292.5L735.2 292.5" stroke-width="0.9"/>
<path d="M727.4 294.5L735.2 294.5" stroke-width="0.9"/>
<path d="M727.4 297.5L735.2 297.5" stroke-width="0.9"/>
<path d="M727.4 317.5L735.2 317.5" stroke-width="0.9"/>
<path d="M727.4 320.5L735.2 320.5" stroke-width="0.9"/>
<path d="M727.4 322.5L735.2 322.5" stroke-width="0.9"/>
<path d="M731.5 286.5L731.5 329.7" stroke-width="0.8"/>
<path d="M743.3 289.6V325.6A2.9 1.6 0 0 0 749.1 325.6V289.6A2.9 1.6 0 0 0 743.3 289.6Z"/>
<path d="M742.3 292.5L750.1 292.5" stroke-width="0.9"/>
<path d="M742.3 294.5L750.1 294.5" stroke-width="0.9"/>
<path d="M742.3 297.5L750.1 297.5" stroke-width="0.9"/>
<path d="M742.3 317.5L750.1 317.5" stroke-width="0.9"/>
<path d="M742.3 320.5L750.1 320.5" stroke-width="0.9"/>
<path d="M742.3 322.5L750.1 322.5" stroke-width="0.9"/>
<path d="M746.5 286.5L746.5 329.7" stroke-width="0.8"/>
<path d="M759.6 289.6V325.6A2.9 1.6 0 0 0 765.4 325.6V289.6A2.9 1.6 0 0 0 759.6 289.6Z"/>
<path d="M758.6 292.5L766.4 292.5" stroke-width="0.9"/>
<path d="M758.6 294.5L766.4 294.5" stroke-width="0.9"/>
<path d="M758.6 297.5L766.4 297.5" stroke-width="0.9"/>
<path d="M758.6 317.5L766.4 317.5" stroke-width="0.9"/>
<path d="M758.6 320.5L766.4 320.5" stroke-width="0.9"/>
<path d="M758.6 322.5L766.4 322.5" stroke-width="0.9"/>
<path d="M762.5 286.5L762.5 329.7" stroke-width="0.8"/>
<path d="M774.1 289.6V325.6A2.9 1.6 0 0 0 779.9 325.6V289.6A2.9 1.6 0 0 0 774.1 289.6Z"/>
<path d="M773.1 292.5L780.9 292.5" stroke-width="0.9"/>
<path d="M773.1 294.5L780.9 294.5" stroke-width="0.9"/>
<path d="M773.1 297.5L780.9 297.5" stroke-width="0.9"/>
<path d="M773.1 317.5L780.9 317.5" stroke-width="0.9"/>
<path d="M773.1 320.5L780.9 320.5" stroke-width="0.9"/>
<path d="M773.1 322.5L780.9 322.5" stroke-width="0.9"/>
<path d="M777.5 286.5L777.5 329.7" stroke-width="0.8"/>
<path d="M790.7 289.6V325.6A2.9 1.6 0 0 0 796.5 325.6V289.6A2.9 1.6 0 0 0 790.7 289.6Z"/>
<path d="M789.7 292.5L797.5 292.5" stroke-width="0.9"/>
<path d="M789.7 294.5L797.5 294.5" stroke-width="0.9"/>
<path d="M789.7 297.5L797.5 297.5" stroke-width="0.9"/>
<path d="M789.7 317.5L797.5 317.5" stroke-width="0.9"/>
<path d="M789.7 320.5L797.5 320.5" stroke-width="0.9"/>
<path d="M789.7 322.5L797.5 322.5" stroke-width="0.9"/>
<path d="M793.5 286.5L793.5 329.7" stroke-width="0.8"/>
<path d="M805.6 289.6V325.6A2.9 1.6 0 0 0 811.4 325.6V289.6A2.9 1.6 0 0 0 805.6 289.6Z"/>
<path d="M804.6 292.5L812.4 292.5" stroke-width="0.9"/>
<path d="M804.6 294.5L812.4 294.5" stroke-width="0.9"/>
<path d="M804.6 297.5L812.4 297.5" stroke-width="0.9"/>
<path d="M804.6 317.5L812.4 317.5" stroke-width="0.9"/>
<path d="M804.6 320.5L812.4 320.5" stroke-width="0.9"/>
<path d="M804.6 322.5L812.4 322.5" stroke-width="0.9"/>
<path d="M808.5 286.5L808.5 329.7" stroke-width="0.8"/>
<path d="M836.7 289.6V325.6A2.9 1.6 0 0 0 842.5 325.6V289.6A2.9 1.6 0 0 0 836.7 289.6Z"/>
<path d="M835.7 292.5L843.5 292.5" stroke-width="0.9"/>
<path d="M835.7 294.5L843.5 294.5" stroke-width="0.9"/>
<path d="M835.7 297.5L843.5 297.5" stroke-width="0.9"/>
<path d="M835.7 317.5L843.5 317.5" stroke-width="0.9"/>
<path d="M835.7 320.5L843.5 320.5" stroke-width="0.9"/>
<path d="M835.7 322.5L843.5 322.5" stroke-width="0.9"/>
<path d="M839.5 286.5L839.5 329.7" stroke-width="0.8"/>
<path d="M817.5 314.5L826.5 314.5L826.5 326.5L817.5 326.5Z"/>
<path d="M822.5 311.0L822.5 331.4"/>
<path d="M828.0 326.0L832.0 328.5L832.0 331.4"/>
<path d="M708.5 288.0L708.5 331.4"/>
<path d="M706.3 298.0H710.3M706.7 299.6L709.9 296.4"/>
<path d="M706.3 319.5H710.3M706.7 321.1L709.9 317.9"/>
<path d="M598.0 339.5L849.0 339.5"/>
<path d="M600.0 337.6V340.8M598.4 340.8L601.6 337.6"/>
<path d="M607.8 337.6V340.8M606.2 340.8L609.4 337.6"/>
<path d="M615.6 337.6V340.8M614.0 340.8L617.2 337.6"/>
<path d="M623.3 337.6V340.8M621.7 340.8L624.9 337.6"/>
<path d="M631.1 337.6V340.8M629.5 340.8L632.7 337.6"/>
<path d="M638.9 337.6V340.8M637.3 340.8L640.5 337.6"/>
<path d="M646.7 337.6V340.8M645.1 340.8L648.3 337.6"/>
<path d="M654.5 337.6V340.8M652.9 340.8L656.1 337.6"/>
<path d="M662.2 337.6V340.8M660.6 340.8L663.8 337.6"/>
<path d="M670.0 337.6V340.8M668.4 340.8L671.6 337.6"/>
<path d="M677.8 337.6V340.8M676.2 340.8L679.4 337.6"/>
<path d="M685.6 337.6V340.8M684.0 340.8L687.2 337.6"/>
<path d="M693.4 337.6V340.8M691.8 340.8L695.0 337.6"/>
<path d="M701.1 337.6V340.8M699.5 340.8L702.7 337.6"/>
<path d="M708.9 337.6V340.8M707.3 340.8L710.5 337.6"/>
<path d="M716.7 337.6V340.8M715.1 340.8L718.3 337.6"/>
<path d="M724.5 337.6V340.8M722.9 340.8L726.1 337.6"/>
<path d="M732.3 337.6V340.8M730.7 340.8L733.9 337.6"/>
<path d="M740.0 337.6V340.8M738.4 340.8L741.6 337.6"/>
<path d="M747.8 337.6V340.8M746.2 340.8L749.4 337.6"/>
<path d="M755.6 337.6V340.8M754.0 340.8L757.2 337.6"/>
<path d="M763.4 337.6V340.8M761.8 340.8L765.0 337.6"/>
<path d="M771.2 337.6V340.8M769.6 340.8L772.8 337.6"/>
<path d="M778.9 337.6V340.8M777.3 340.8L780.5 337.6"/>
<path d="M786.7 337.6V340.8M785.1 340.8L788.3 337.6"/>
<path d="M794.5 337.6V340.8M792.9 340.8L796.1 337.6"/>
<path d="M802.3 337.6V340.8M800.7 340.8L803.9 337.6"/>
<path d="M810.1 337.6V340.8M808.5 340.8L811.7 337.6"/>
<path d="M817.8 337.6V340.8M816.2 340.8L819.4 337.6"/>
<path d="M825.6 337.6V340.8M824.0 340.8L827.2 337.6"/>
<path d="M833.4 337.6V340.8M831.8 340.8L835.0 337.6"/>
<path d="M841.2 337.6V340.8M839.6 340.8L842.8 337.6"/>
<path d="M849.0 337.6V340.8M847.4 340.8L850.6 337.6"/>
<path d="M651.4 330.5V335.5M653.4 330.5V335.5M649.8 333.0H655.0" stroke-width="0.9"/>
<path d="M390.0 344.5L518.0 344.5"/>
<path d="M394.8 342.1V347.3M396.8 342.1V347.3M393.2 344.7H398.4" stroke-width="0.9"/>
<path d="M410.6 342.1V347.3M412.6 342.1V347.3M409.0 344.7H414.2" stroke-width="0.9"/>
<path d="M426.4 342.1V347.3M428.4 342.1V347.3M424.8 344.7H430.0" stroke-width="0.9"/>
<path d="M441.3 342.1V347.3M443.3 342.1V347.3M439.7 344.7H444.9" stroke-width="0.9"/>
<path d="M457.1 342.1V347.3M459.1 342.1V347.3M455.5 344.7H460.7" stroke-width="0.9"/>
<path d="M467.9 342.1V347.3M469.9 342.1V347.3M466.3 344.7H471.5" stroke-width="0.9"/>
<path d="M481.2 342.1V347.3M483.2 342.1V347.3M479.6 344.7H484.8" stroke-width="0.9"/>
<path d="M489.0 342.1V347.3M491.0 342.1V347.3M487.4 344.7H492.6" stroke-width="0.9"/>
<path d="M493.0 342.1V347.3M495.0 342.1V347.3M491.4 344.7H496.6" stroke-width="0.9"/>
<path d="M511.9 342.1V347.3M513.9 342.1V347.3M510.3 344.7H515.5" stroke-width="0.9"/>
<path d="M528.0 344.5L601.0 344.5"/>
<path d="M536.0 342.1V347.3M538.0 342.1V347.3M534.4 344.7H539.6" stroke-width="0.9"/>
<path d="M538.5 342.1V347.3M540.5 342.1V347.3M536.9 344.7H542.1" stroke-width="0.9"/>
<path d="M566.5 342.1V347.3M568.5 342.1V347.3M564.9 344.7H570.1" stroke-width="0.9"/>
<path d="M569.0 342.1V347.3M571.0 342.1V347.3M567.4 344.7H572.6" stroke-width="0.9"/>
<path d="M582.0 342.1V347.3M584.0 342.1V347.3M580.4 344.7H585.6" stroke-width="0.9"/>
<path d="M598.0 342.1V347.3M600.0 342.1V347.3M596.4 344.7H601.6" stroke-width="0.9"/>
<path d="M735.4 345.5L761.2 345.5"/>
<path d="M745.0 346.0L746.8 349.5L748.6 346.0"/>
<path d="M628.5 351.5L631.5 351.5L631.5 354.5L628.5 354.5Z" stroke-width="0.7"/>
<path d="M674.5 351.5L678.5 351.5L678.5 354.5L674.5 354.5Z" stroke-width="0.7"/>
<path d="M721.5 351.5L724.5 351.5L724.5 354.5L721.5 354.5Z" stroke-width="0.7"/>
<path d="M768.5 351.5L771.5 351.5L771.5 354.5L768.5 354.5Z" stroke-width="0.7"/>
<path d="M815.5 351.5L818.5 351.5L818.5 354.5L815.5 354.5Z" stroke-width="0.7"/>
<path d="M394.4 351.6L397.2 351.6L397.2 354.4L394.4 354.4Z" stroke-width="0.7"/>
<path d="M441.0 351.6L443.8 351.6L443.8 354.4L441.0 354.4Z" stroke-width="0.7"/>
<path d="M488.0 351.6L490.8 351.6L490.8 354.4L488.0 354.4Z" stroke-width="0.7"/>
<path d="M534.6 351.6L537.4 351.6L537.4 354.4L534.6 354.4Z" stroke-width="0.7"/>
<path d="M851.5 284.5L856.5 284.5L856.5 304.5L851.5 304.5Z" stroke-width="0.9"/>
<path d="M851.6 287.5L856.6 287.5" stroke-width="0.9"/>
<path d="M851.6 289.5L856.6 289.5" stroke-width="0.9"/>
<path d="M851.6 292.5L856.6 292.5" stroke-width="0.9"/>
<path d="M851.6 294.5L856.6 294.5" stroke-width="0.9"/>
<path d="M851.6 297.5L856.6 297.5" stroke-width="0.9"/>
<path d="M851.6 299.5L856.6 299.5" stroke-width="0.9"/>
<path d="M851.6 302.5L856.6 302.5" stroke-width="0.9"/>
<circle cx="853.3" cy="341.3" r="4.0" stroke-width="1.15"/>
<path d="M847.8 341.3H858.8M853.3 335.8V346.8"/>
<path d="M857.0 350.5L871.0 350.5"/>
<path d="M844.0 282.9V287.5M846.0 282.9V287.5M842.4 285.2H847.6" stroke-width="0.9"/>
<path d="M844.0 306.3V310.9M846.0 306.3V310.9M842.4 308.6H847.6" stroke-width="0.9"/>
<path d="M844.0 329.1V333.7M846.0 329.1V333.7M842.4 331.4H847.6" stroke-width="0.9"/>
<path d="M861.5 252.5L861.5 353.0"/>
<path d="M857.2 249.9V255.1M859.2 249.9V255.1M855.6 252.5H860.8" stroke-width="0.9"/>
<path d="M861.6 266.5L962.9 266.5"/>
<path d="M881.4 263.5V269.1M883.4 263.5V269.1M879.8 266.3H885.0" stroke-width="0.9"/>
<path d="M935.3 263.5V269.1M937.3 263.5V269.1M933.7 266.3H938.9" stroke-width="0.9"/>
<path d="M903.6 264.1V268.5M902.0 267.9L905.2 264.7"/>
<path d="M916.7 264.1V268.5M915.1 267.9L918.3 264.7"/>
<path d="M864.1 293.5H954.6V344.7H864.1Z"/>
<path d="M904 293.5V323H906.4V344.7"/>
<circle cx="881.9" cy="293.2" r="12.0" stroke-width="1.3"/>
<path d="M864 293.5A17.9 17.9 0 0 1 899.8 293.5" stroke-width="1.2"/>
<circle cx="936.7" cy="293.2" r="11.4" stroke-width="1.3"/>
<path d="M917.8 293.5A18.9 18.9 0 0 1 955.6 293.5" stroke-width="1.2"/>
<path d="M903.5 280.5L917.5 280.5L917.5 297.5L903.5 297.5Z" stroke-width="1.2"/>
<path d="M905.5 284.5L914.5 284.5L914.5 293.5L905.5 293.5Z" stroke-width="0.9" fill="#333"/>
<path d="M881.5 271.6L881.5 320.6"/>
<path d="M936.5 271.6L936.5 313.1"/>
<path d="M866.0 293.5L898.0 293.5"/>
<path d="M921.0 293.5L952.0 293.5"/>
<path d="M874.0 272.5L886.6 272.5"/>
<path d="M933.0 272.5L944.6 272.5"/>
<path d="M929.0 279.0L940.0 279.0" stroke-width="1.6"/>
<path d="M881.5 320.5L939.7 320.5"/>
<path d="M911.3 318.0V323.2M913.3 318.0V323.2M909.7 320.6H914.9" stroke-width="0.9"/>
<path d="M917.9 318.0V323.2M919.9 318.0V323.2M916.3 320.6H921.5" stroke-width="0.9"/>
<path d="M923.7 318.0V323.2M925.7 318.0V323.2M922.1 320.6H927.3" stroke-width="0.9"/>
<path d="M935.3 318.0V323.2M937.3 318.0V323.2M933.7 320.6H938.9" stroke-width="0.9"/>
<circle cx="913.9" cy="308.9" r="3.6" stroke-width="1.15"/>
<path d="M906.0 308.5L921.0 308.5"/>
<path d="M913.5 304.0L913.5 314.0"/>
<path d="M907.6 304.5L919.7 304.5"/>
<path d="M878.2 331.5L899.8 331.5"/>
<path d="M934.7 313.5L953.8 313.5"/>
<path d="M868.0 329.5L870.6 329.5L870.6 332.2L868.0 332.2Z" stroke-width="0.8" fill="#111"/>
<path d="M927.4 310.5L930.0 310.5L930.0 313.2L927.4 313.2Z" stroke-width="0.8" fill="#111"/>
<path d="M876.5 329.5L878.2 333.0L880.0 329.5"/>
<path d="M933.0 310.5L934.7 314.0L936.4 310.5"/>
<path d="M915.6 326.5L930.5 326.5" stroke-width="1.2"/>
<path d="M915.6 329.5L930.5 329.5" stroke-width="1.2"/>
<path d="M915.6 332.5L930.5 332.5" stroke-width="1.2"/>
<path d="M915.6 335.5L930.5 335.5" stroke-width="1.2"/>
<path d="M915.5 325.5L915.5 338.0"/>
<path d="M921.5 325.5L921.5 338.0"/>
<path d="M930.5 333.5L950.5 333.5"/>
<path d="M864.2 342.0L866.8 342.0L866.8 344.6L864.2 344.6Z" stroke-width="0.8" fill="#111"/>
<path d="M903.7 342.0L906.3 342.0L906.3 344.6L903.7 344.6Z" stroke-width="0.8" fill="#111"/>
<path d="M951.7 342.0L954.3 342.0L954.3 344.6L951.7 344.6Z" stroke-width="0.8" fill="#111"/>
<path d="M951.7 293.7L954.3 293.7L954.3 296.3L951.7 296.3Z" stroke-width="0.8" fill="#111"/>
<path d="M958.5 293.2L958.5 345.5"/>
<path d="M956.8 293.2H960.8M957.2 294.8L960.4 291.6"/>
<path d="M956.8 309.5H960.8M957.2 311.1L960.4 307.9"/>
<path d="M956.8 333.0H960.8M957.2 334.6L960.4 331.4"/>
<path d="M956.8 344.7H960.8M957.2 346.3L960.4 343.1"/>
<path d="M956.3 327.0H961.3M956.3 329.0H961.3M958.8 325.4V330.6" stroke-width="0.9"/>
<path d="M956.3 333.5H961.3M956.3 335.5H961.3M958.8 331.9V337.1" stroke-width="0.9"/>
<path d="M972.5 326.0L972.5 336.0"/>
<path d="M968.7 333.5L973.7 333.5"/>
<path d="M955.5 351.5L958.5 351.5L958.5 354.5L955.5 354.5Z" stroke-width="0.7"/>
<path d="M987.2 351.5L990.2 351.5L990.2 354.5L987.2 354.5Z" stroke-width="0.7"/>
<path d="M302.5 350.0L302.5 408.0"/>
<path d="M300.7 351.5L303.7 351.5L303.7 354.5L300.7 354.5Z" stroke-width="0.7"/>
<path d="M300.7 402.8L303.7 402.8L303.7 405.8L300.7 405.8Z" stroke-width="0.7"/>
<path d="M349.5 350.0L349.5 408.0"/>
<path d="M347.5 351.5L350.5 351.5L350.5 354.5L347.5 354.5Z" stroke-width="0.7"/>
<path d="M347.5 402.8L350.5 402.8L350.5 405.8L347.5 405.8Z" stroke-width="0.7"/>
<path d="M395.5 350.0L395.5 408.0"/>
<path d="M394.3 351.5L397.3 351.5L397.3 354.5L394.3 354.5Z" stroke-width="0.7"/>
<path d="M394.3 402.8L397.3 402.8L397.3 405.8L394.3 405.8Z" stroke-width="0.7"/>
<path d="M442.5 350.0L442.5 408.0"/>
<path d="M441.1 351.5L444.1 351.5L444.1 354.5L441.1 354.5Z" stroke-width="0.7"/>
<path d="M441.1 402.8L444.1 402.8L444.1 405.8L441.1 405.8Z" stroke-width="0.7"/>
<path d="M489.5 350.0L489.5 408.0"/>
<path d="M487.9 351.5L490.9 351.5L490.9 354.5L487.9 354.5Z" stroke-width="0.7"/>
<path d="M487.9 402.8L490.9 402.8L490.9 405.8L487.9 405.8Z" stroke-width="0.7"/>
<path d="M536.5 350.0L536.5 408.0"/>
<path d="M534.7 351.5L537.7 351.5L537.7 354.5L534.7 354.5Z" stroke-width="0.7"/>
<path d="M534.7 402.8L537.7 402.8L537.7 405.8L534.7 405.8Z" stroke-width="0.7"/>
<path d="M583.5 350.0L583.5 408.0"/>
<path d="M581.5 351.5L584.5 351.5L584.5 354.5L581.5 354.5Z" stroke-width="0.7"/>
<path d="M581.5 402.8L584.5 402.8L584.5 405.8L581.5 405.8Z" stroke-width="0.7"/>
<path d="M629.5 350.0L629.5 408.0"/>
<path d="M628.3 351.5L631.3 351.5L631.3 354.5L628.3 354.5Z" stroke-width="0.7"/>
<path d="M628.3 402.8L631.3 402.8L631.3 405.8L628.3 405.8Z" stroke-width="0.7"/>
<path d="M676.5 350.0L676.5 408.0"/>
<path d="M675.1 351.5L678.1 351.5L678.1 354.5L675.1 354.5Z" stroke-width="0.7"/>
<path d="M675.1 402.8L678.1 402.8L678.1 405.8L675.1 405.8Z" stroke-width="0.7"/>
<path d="M723.5 350.0L723.5 408.0"/>
<path d="M721.9 351.5L724.9 351.5L724.9 354.5L721.9 354.5Z" stroke-width="0.7"/>
<path d="M721.9 402.8L724.9 402.8L724.9 405.8L721.9 405.8Z" stroke-width="0.7"/>
<path d="M770.5 350.0L770.5 408.0"/>
<path d="M768.7 351.5L771.7 351.5L771.7 354.5L768.7 354.5Z" stroke-width="0.7"/>
<path d="M768.7 402.8L771.7 402.8L771.7 405.8L768.7 405.8Z" stroke-width="0.7"/>
<path d="M817.5 350.0L817.5 408.0"/>
<path d="M815.5 351.5L818.5 351.5L818.5 354.5L815.5 354.5Z" stroke-width="0.7"/>
<path d="M815.5 402.8L818.5 402.8L818.5 405.8L815.5 405.8Z" stroke-width="0.7"/>
<path d="M863.5 350.0L863.5 408.0"/>
<path d="M862.3 351.5L865.3 351.5L865.3 354.5L862.3 354.5Z" stroke-width="0.7"/>
<path d="M862.3 402.8L865.3 402.8L865.3 405.8L862.3 405.8Z" stroke-width="0.7"/>
<path d="M910.5 350.0L910.5 408.0"/>
<path d="M909.1 351.5L912.1 351.5L912.1 354.5L909.1 354.5Z" stroke-width="0.7"/>
<path d="M909.1 402.8L912.1 402.8L912.1 405.8L909.1 405.8Z" stroke-width="0.7"/>
<path d="M957.5 350.0L957.5 408.0"/>
<path d="M955.9 351.5L958.9 351.5L958.9 354.5L955.9 354.5Z" stroke-width="0.7"/>
<path d="M955.9 402.8L958.9 402.8L958.9 405.8L955.9 405.8Z" stroke-width="0.7"/>
<path d="M471.4 353.0L497.1 353.0L497.1 403.0L471.4 403.0Z" fill="url(#h2)" stroke="none"/>
<path d="M471.5 353.5L497.5 353.5L497.5 403.5L471.5 403.5Z"/>
<path d="M484.5 353.0L484.5 403.0" stroke-width="0.9"/>
<path d="M272.0 365.5L348.0 365.5"/>
<path d="M272.0 367.5L348.0 367.5"/>
<path d="M313.5 366.6L313.5 376.1" stroke-width="0.9"/>
<path d="M316.5 366.6L316.5 376.1" stroke-width="0.9"/>
<path d="M313.5 371.5L316.5 371.5L316.5 376.5L313.5 376.5Z" stroke-width="0.9"/>
<path d="M315.5 361.6L315.5 366.6" stroke-width="0.8"/>
<path d="M326.5 366.6L326.5 376.1" stroke-width="0.9"/>
<path d="M329.5 366.6L329.5 376.1" stroke-width="0.9"/>
<path d="M326.5 371.5L330.5 371.5L330.5 376.5L326.5 376.5Z" stroke-width="0.9"/>
<path d="M328.5 361.6L328.5 366.6" stroke-width="0.8"/>
<path d="M340.5 366.6L340.5 376.1" stroke-width="0.9"/>
<path d="M342.5 366.6L342.5 376.1" stroke-width="0.9"/>
<path d="M339.5 371.5L343.5 371.5L343.5 376.5L339.5 376.5Z" stroke-width="0.9"/>
<path d="M341.5 361.6L341.5 366.6" stroke-width="0.8"/>
<path d="M358.0 365.5L460.7 365.5"/>
<path d="M358.0 367.5L460.7 367.5"/>
<path d="M361.5 366.6L361.5 376.1" stroke-width="0.9"/>
<path d="M363.5 366.6L363.5 376.1" stroke-width="0.9"/>
<path d="M360.5 371.5L364.5 371.5L364.5 376.5L360.5 376.5Z" stroke-width="0.9"/>
<path d="M362.5 361.6L362.5 366.6" stroke-width="0.8"/>
<path d="M376.5 366.6L376.5 376.1" stroke-width="0.9"/>
<path d="M379.5 366.6L379.5 376.1" stroke-width="0.9"/>
<path d="M376.5 371.5L380.5 371.5L380.5 376.5L376.5 376.5Z" stroke-width="0.9"/>
<path d="M378.5 361.6L378.5 366.6" stroke-width="0.8"/>
<path d="M392.5 366.6L392.5 376.1" stroke-width="0.9"/>
<path d="M395.5 366.6L395.5 376.1" stroke-width="0.9"/>
<path d="M391.5 371.5L395.5 371.5L395.5 376.5L391.5 376.5Z" stroke-width="0.9"/>
<path d="M393.5 361.6L393.5 366.6" stroke-width="0.8"/>
<path d="M408.5 366.6L408.5 376.1" stroke-width="0.9"/>
<path d="M410.5 366.6L410.5 376.1" stroke-width="0.9"/>
<path d="M407.5 371.5L411.5 371.5L411.5 376.5L407.5 376.5Z" stroke-width="0.9"/>
<path d="M409.5 361.6L409.5 366.6" stroke-width="0.8"/>
<path d="M423.5 366.6L423.5 376.1" stroke-width="0.9"/>
<path d="M426.5 366.6L426.5 376.1" stroke-width="0.9"/>
<path d="M423.5 371.5L427.5 371.5L427.5 376.5L423.5 376.5Z" stroke-width="0.9"/>
<path d="M425.5 361.6L425.5 366.6" stroke-width="0.8"/>
<path d="M439.5 366.6L439.5 376.1" stroke-width="0.9"/>
<path d="M442.5 366.6L442.5 376.1" stroke-width="0.9"/>
<path d="M438.5 371.5L442.5 371.5L442.5 376.5L438.5 376.5Z" stroke-width="0.9"/>
<path d="M440.5 361.6L440.5 366.6" stroke-width="0.8"/>
<path d="M455.5 366.6L455.5 376.1" stroke-width="0.9"/>
<path d="M457.5 366.6L457.5 376.1" stroke-width="0.9"/>
<path d="M454.5 371.5L458.5 371.5L458.5 376.5L454.5 376.5Z" stroke-width="0.9"/>
<path d="M456.5 361.6L456.5 366.6" stroke-width="0.8"/>
<path d="M498.6 365.5L604.5 365.5"/>
<path d="M498.6 367.5L604.5 367.5"/>
<path d="M505.5 366.6L505.5 376.1" stroke-width="0.9"/>
<path d="M508.5 366.6L508.5 376.1" stroke-width="0.9"/>
<path d="M505.5 371.5L509.5 371.5L509.5 376.5L505.5 376.5Z" stroke-width="0.9"/>
<path d="M507.5 361.6L507.5 366.6" stroke-width="0.8"/>
<path d="M521.5 366.6L521.5 376.1" stroke-width="0.9"/>
<path d="M524.5 366.6L524.5 376.1" stroke-width="0.9"/>
<path d="M520.5 371.5L524.5 371.5L524.5 376.5L520.5 376.5Z" stroke-width="0.9"/>
<path d="M522.5 361.6L522.5 366.6" stroke-width="0.8"/>
<path d="M537.5 366.6L537.5 376.1" stroke-width="0.9"/>
<path d="M539.5 366.6L539.5 376.1" stroke-width="0.9"/>
<path d="M536.5 371.5L540.5 371.5L540.5 376.5L536.5 376.5Z" stroke-width="0.9"/>
<path d="M538.5 361.6L538.5 366.6" stroke-width="0.8"/>
<path d="M552.5 366.6L552.5 376.1" stroke-width="0.9"/>
<path d="M555.5 366.6L555.5 376.1" stroke-width="0.9"/>
<path d="M552.5 371.5L555.5 371.5L555.5 376.5L552.5 376.5Z" stroke-width="0.9"/>
<path d="M554.5 361.6L554.5 366.6" stroke-width="0.8"/>
<path d="M568.5 366.6L568.5 376.1" stroke-width="0.9"/>
<path d="M570.5 366.6L570.5 376.1" stroke-width="0.9"/>
<path d="M567.5 371.5L571.5 371.5L571.5 376.5L567.5 376.5Z" stroke-width="0.9"/>
<path d="M569.5 361.6L569.5 366.6" stroke-width="0.8"/>
<path d="M583.5 366.6L583.5 376.1" stroke-width="0.9"/>
<path d="M586.5 366.6L586.5 376.1" stroke-width="0.9"/>
<path d="M583.5 371.5L587.5 371.5L587.5 376.5L583.5 376.5Z" stroke-width="0.9"/>
<path d="M585.5 361.6L585.5 366.6" stroke-width="0.8"/>
<path d="M599.5 366.6L599.5 376.1" stroke-width="0.9"/>
<path d="M602.5 366.6L602.5 376.1" stroke-width="0.9"/>
<path d="M598.5 371.5L602.5 371.5L602.5 376.5L598.5 376.5Z" stroke-width="0.9"/>
<path d="M600.5 361.6L600.5 366.6" stroke-width="0.8"/>
<path d="M613.7 365.5L703.9 365.5"/>
<path d="M613.7 367.5L703.9 367.5"/>
<path d="M615.5 366.6L615.5 376.1" stroke-width="0.9"/>
<path d="M617.5 366.6L617.5 376.1" stroke-width="0.9"/>
<path d="M614.5 371.5L618.5 371.5L618.5 376.5L614.5 376.5Z" stroke-width="0.9"/>
<path d="M616.5 361.6L616.5 366.6" stroke-width="0.8"/>
<path d="M630.5 366.6L630.5 376.1" stroke-width="0.9"/>
<path d="M633.5 366.6L633.5 376.1" stroke-width="0.9"/>
<path d="M630.5 371.5L633.5 371.5L633.5 376.5L630.5 376.5Z" stroke-width="0.9"/>
<path d="M632.5 361.6L632.5 366.6" stroke-width="0.8"/>
<path d="M641.5 366.6L641.5 376.1" stroke-width="0.9"/>
<path d="M643.5 366.6L643.5 376.1" stroke-width="0.9"/>
<path d="M640.5 371.5L644.5 371.5L644.5 376.5L640.5 376.5Z" stroke-width="0.9"/>
<path d="M642.5 361.6L642.5 366.6" stroke-width="0.8"/>
<path d="M651.5 366.6L651.5 376.1" stroke-width="0.9"/>
<path d="M654.5 366.6L654.5 376.1" stroke-width="0.9"/>
<path d="M651.5 371.5L654.5 371.5L654.5 376.5L651.5 376.5Z" stroke-width="0.9"/>
<path d="M652.5 361.6L652.5 366.6" stroke-width="0.8"/>
<path d="M667.5 366.6L667.5 376.1" stroke-width="0.9"/>
<path d="M669.5 366.6L669.5 376.1" stroke-width="0.9"/>
<path d="M666.5 371.5L670.5 371.5L670.5 376.5L666.5 376.5Z" stroke-width="0.9"/>
<path d="M668.5 361.6L668.5 366.6" stroke-width="0.8"/>
<path d="M683.5 366.6L683.5 376.1" stroke-width="0.9"/>
<path d="M685.5 366.6L685.5 376.1" stroke-width="0.9"/>
<path d="M682.5 371.5L686.5 371.5L686.5 376.5L682.5 376.5Z" stroke-width="0.9"/>
<path d="M684.5 361.6L684.5 366.6" stroke-width="0.8"/>
<path d="M698.5 366.6L698.5 376.1" stroke-width="0.9"/>
<path d="M701.5 366.6L701.5 376.1" stroke-width="0.9"/>
<path d="M698.5 371.5L701.5 371.5L701.5 376.5L698.5 376.5Z" stroke-width="0.9"/>
<path d="M700.5 361.6L700.5 366.6" stroke-width="0.8"/>
<path d="M712.0 365.5L800.0 365.5"/>
<path d="M712.0 367.5L800.0 367.5"/>
<path d="M715.5 366.6L715.5 376.1" stroke-width="0.9"/>
<path d="M718.5 366.6L718.5 376.1" stroke-width="0.9"/>
<path d="M715.5 371.5L718.5 371.5L718.5 376.5L715.5 376.5Z" stroke-width="0.9"/>
<path d="M717.5 361.6L717.5 366.6" stroke-width="0.8"/>
<path d="M731.5 366.6L731.5 376.1" stroke-width="0.9"/>
<path d="M734.5 366.6L734.5 376.1" stroke-width="0.9"/>
<path d="M731.5 371.5L734.5 371.5L734.5 376.5L731.5 376.5Z" stroke-width="0.9"/>
<path d="M733.5 361.6L733.5 366.6" stroke-width="0.8"/>
<path d="M750.5 366.6L750.5 376.1" stroke-width="0.9"/>
<path d="M752.5 366.6L752.5 376.1" stroke-width="0.9"/>
<path d="M749.5 371.5L753.5 371.5L753.5 376.5L749.5 376.5Z" stroke-width="0.9"/>
<path d="M751.5 361.6L751.5 366.6" stroke-width="0.8"/>
<path d="M768.5 366.6L768.5 376.1" stroke-width="0.9"/>
<path d="M771.5 366.6L771.5 376.1" stroke-width="0.9"/>
<path d="M767.5 371.5L771.5 371.5L771.5 376.5L767.5 376.5Z" stroke-width="0.9"/>
<path d="M769.5 361.6L769.5 366.6" stroke-width="0.8"/>
<path d="M781.5 366.6L781.5 376.1" stroke-width="0.9"/>
<path d="M784.5 366.6L784.5 376.1" stroke-width="0.9"/>
<path d="M780.5 371.5L784.5 371.5L784.5 376.5L780.5 376.5Z" stroke-width="0.9"/>
<path d="M782.5 361.6L782.5 366.6" stroke-width="0.8"/>
<path d="M797.5 366.6L797.5 376.1" stroke-width="0.9"/>
<path d="M799.5 366.6L799.5 376.1" stroke-width="0.9"/>
<path d="M796.5 371.5L800.5 371.5L800.5 376.5L796.5 376.5Z" stroke-width="0.9"/>
<path d="M798.5 361.6L798.5 366.6" stroke-width="0.8"/>
<path d="M806.0 365.5L955.0 365.5"/>
<path d="M806.0 367.5L955.0 367.5"/>
<path d="M810.5 366.6L810.5 376.1" stroke-width="0.9"/>
<path d="M812.5 366.6L812.5 376.1" stroke-width="0.9"/>
<path d="M809.5 371.5L813.5 371.5L813.5 376.5L809.5 376.5Z" stroke-width="0.9"/>
<path d="M811.5 361.6L811.5 366.6" stroke-width="0.8"/>
<path d="M828.5 366.6L828.5 376.1" stroke-width="0.9"/>
<path d="M831.5 366.6L831.5 376.1" stroke-width="0.9"/>
<path d="M827.5 371.5L831.5 371.5L831.5 376.5L827.5 376.5Z" stroke-width="0.9"/>
<path d="M829.5 361.6L829.5 366.6" stroke-width="0.8"/>
<path d="M844.5 366.6L844.5 376.1" stroke-width="0.9"/>
<path d="M846.5 366.6L846.5 376.1" stroke-width="0.9"/>
<path d="M843.5 371.5L847.5 371.5L847.5 376.5L843.5 376.5Z" stroke-width="0.9"/>
<path d="M845.5 361.6L845.5 366.6" stroke-width="0.8"/>
<path d="M859.5 366.6L859.5 376.1" stroke-width="0.9"/>
<path d="M862.5 366.6L862.5 376.1" stroke-width="0.9"/>
<path d="M859.5 371.5L863.5 371.5L863.5 376.5L859.5 376.5Z" stroke-width="0.9"/>
<path d="M861.5 361.6L861.5 366.6" stroke-width="0.8"/>
<path d="M876.5 366.6L876.5 383.6" stroke-width="0.9"/>
<path d="M879.5 366.6L879.5 383.6" stroke-width="0.9"/>
<path d="M875.5 379.5L879.5 379.5L879.5 383.5L875.5 383.5Z" stroke-width="0.9"/>
<path d="M877.5 361.6L877.5 366.6" stroke-width="0.8"/>
<circle cx="877.7" cy="380.5" r="2.0" stroke-width="1.15"/>
<path d="M896.5 366.6L896.5 383.6" stroke-width="0.9"/>
<path d="M899.5 366.6L899.5 383.6" stroke-width="0.9"/>
<path d="M895.5 379.5L899.5 379.5L899.5 383.5L895.5 383.5Z" stroke-width="0.9"/>
<path d="M897.5 361.6L897.5 366.6" stroke-width="0.8"/>
<circle cx="897.8" cy="380.5" r="2.0" stroke-width="1.15"/>
<path d="M913.5 366.6L913.5 383.6" stroke-width="0.9"/>
<path d="M916.5 366.6L916.5 383.6" stroke-width="0.9"/>
<path d="M912.5 379.5L916.5 379.5L916.5 383.5L912.5 383.5Z" stroke-width="0.9"/>
<path d="M914.5 361.6L914.5 366.6" stroke-width="0.8"/>
<circle cx="914.8" cy="380.5" r="2.0" stroke-width="1.15"/>
<path d="M931.5 366.6L931.5 383.6" stroke-width="0.9"/>
<path d="M934.5 366.6L934.5 383.6" stroke-width="0.9"/>
<path d="M931.5 379.5L934.5 379.5L934.5 383.5L931.5 383.5Z" stroke-width="0.9"/>
<path d="M933.5 361.6L933.5 366.6" stroke-width="0.8"/>
<circle cx="933.0" cy="380.5" r="2.0" stroke-width="1.15"/>
<path d="M948.5 366.6L948.5 383.6" stroke-width="0.9"/>
<path d="M951.5 366.6L951.5 383.6" stroke-width="0.9"/>
<path d="M948.5 379.5L951.5 379.5L951.5 383.5L948.5 383.5Z" stroke-width="0.9"/>
<path d="M950.5 361.6L950.5 366.6" stroke-width="0.8"/>
<circle cx="950.0" cy="380.5" r="2.0" stroke-width="1.15"/>
<path d="M273.0 363.5L285.0 363.5"/>
<path d="M289.0 363.5L301.0 363.5"/>
<path d="M642.0 363.5L654.0 363.5"/>
<path d="M660.0 363.5L672.0 363.5"/>
<path d="M771.0 363.5L783.0 363.5"/>
<path d="M787.0 363.5L799.0 363.5"/>
<path d="M277.5 366.5L297.5 366.5L297.5 389.5L277.5 389.5Z"/>
<path d="M279.5 370.5L284.5 370.5L284.5 378.5L279.5 378.5Z" stroke-width="0.9"/>
<path d="M290.5 370.5L295.5 370.5L295.5 378.5L290.5 378.5Z" stroke-width="0.9"/>
<circle cx="281.8" cy="385.5" r="2.8" stroke-width="1.15"/>
<circle cx="292.8" cy="385.5" r="2.8" stroke-width="1.15"/>
<path d="M277.2 381.5L297.4 381.5" stroke-width="0.9"/>
<path d="M281.0 396.5L293.0 396.5"/>
<path d="M626.5 366.5L648.5 366.5L648.5 389.5L626.5 389.5Z"/>
<circle cx="632.2" cy="385.5" r="2.8" stroke-width="1.15"/>
<circle cx="642.6" cy="385.5" r="2.8" stroke-width="1.15"/>
<path d="M637.5 366.0L637.5 392.0"/>
<path d="M648.0 389.5L652.0 389.5"/>
<path d="M778.5 366.5L804.5 366.5L804.5 389.5L778.5 389.5Z"/>
<circle cx="783.5" cy="385.5" r="2.8" stroke-width="1.15"/>
<circle cx="798.5" cy="385.5" r="2.8" stroke-width="1.15"/>
<path d="M778.3 381.5L804.5 381.5" stroke-width="0.9"/>
<path d="M301.0 397.5L317.0 397.5" stroke-width="0.9"/>
<path d="M327.0 397.5L343.0 397.5" stroke-width="0.9"/>
<path d="M348.0 397.5L364.0 397.5" stroke-width="0.9"/>
<path d="M372.0 397.5L388.0 397.5" stroke-width="0.9"/>
<path d="M398.0 397.5L414.0 397.5" stroke-width="0.9"/>
<path d="M430.0 397.5L446.0 397.5" stroke-width="0.9"/>
<path d="M458.0 397.5L474.0 397.5" stroke-width="0.9"/>
<path d="M508.0 397.5L524.0 397.5" stroke-width="0.9"/>
<path d="M536.0 397.5L552.0 397.5" stroke-width="0.9"/>
<path d="M566.0 397.5L582.0 397.5" stroke-width="0.9"/>
<path d="M593.0 397.5L609.0 397.5" stroke-width="0.9"/>
<path d="M622.0 397.5L638.0 397.5" stroke-width="0.9"/>
<path d="M655.0 397.5L671.0 397.5" stroke-width="0.9"/>
<path d="M680.0 397.5L696.0 397.5" stroke-width="0.9"/>
<path d="M710.0 397.5L726.0 397.5" stroke-width="0.9"/>
<path d="M740.0 397.5L756.0 397.5" stroke-width="0.9"/>
<path d="M760.0 397.5L776.0 397.5" stroke-width="0.9"/>
<path d="M812.0 397.5L828.0 397.5" stroke-width="0.9"/>
<path d="M850.0 397.5L866.0 397.5" stroke-width="0.9"/>
<path d="M880.0 397.5L896.0 397.5" stroke-width="0.9"/>
<path d="M915.0 397.5L931.0 397.5" stroke-width="0.9"/>
<path d="M940.0 397.5L956.0 397.5" stroke-width="0.9"/>
<path d="M262.6 363.3L262.6 374.5L266.0 374.5"/>
<path d="M266.0 362.0L267.5 368.0L267.5 374.0"/>
<path d="M316.5 405.5L339.5 405.5L339.5 409.5L316.5 409.5Z" stroke-width="0.9"/>
<path d="M316.5 406.5L339.5 406.5" stroke-width="0.9"/>
<path d="M316.5 406.5L339.5 406.5" stroke-width="0.9"/>
<path d="M316.5 407.5L339.5 407.5" stroke-width="0.9"/>
<path d="M316.5 407.5L339.5 407.5" stroke-width="0.9"/>
<path d="M316.5 408.5L339.5 408.5" stroke-width="0.9"/>
<path d="M316.5 408.5L339.5 408.5" stroke-width="0.9"/>
<path d="M358.5 404.5L377.5 404.5L377.5 417.5L358.5 417.5Z"/>
<circle cx="362.5" cy="408.0" r="2.3" stroke-width="0.9"/>
<circle cx="362.5" cy="413.5" r="2.3" stroke-width="0.9"/>
<circle cx="367.5" cy="408.0" r="2.3" stroke-width="0.9"/>
<circle cx="367.5" cy="413.5" r="2.3" stroke-width="0.9"/>
<circle cx="372.5" cy="408.0" r="2.3" stroke-width="0.9"/>
<circle cx="372.5" cy="413.5" r="2.3" stroke-width="0.9"/>
<path d="M343.0 420.5L362.0 420.5"/>
<path d="M380.0 411.5L395.8 411.5"/>
<path d="M360.0 421.5L443.7 421.5"/>
<path d="M377.5 419.5V423.5M375.9 423.1L379.1 419.9"/>
<path d="M395.8 419.5V423.5M394.2 423.1L397.4 419.9"/>
<path d="M434.0 419.5V423.5M432.4 423.1L435.6 419.9"/>
<path d="M443.7 419.5V423.5M442.1 423.1L445.3 419.9"/>
<path d="M406.5 406.0L406.5 415.0"/>
<path d="M403.0 413.5L410.0 413.5"/>
<path d="M427.7 404.3V408.7M429.7 404.3V408.7M426.1 406.5H431.3" stroke-width="0.9"/>
<path d="M427.7 407.3V411.7M429.7 407.3V411.7M426.1 409.5H431.3" stroke-width="0.9"/>
<path d="M427.7 410.3V414.7M429.7 410.3V414.7M426.1 412.5H431.3" stroke-width="0.9"/>
<path d="M434.0 413.5L458.0 413.5"/>
<path d="M243.5 405.0L243.5 413.0"/>
<path d="M242.0 413.5L248.0 413.5"/>
<path d="M988.5 113.0L988.5 451.0"/>
<path d="M996.5 113.0L996.5 451.0"/>
<path d="M1035.5 155.0L1035.5 414.0"/>
<path d="M958.0 218.5L1041.0 218.5"/>
<path d="M988.7 114.5L1028.0 114.5"/>
<path d="M988.7 146.5L1028.0 146.5"/>
<path d="M987.3 113.0L990.1 113.0L990.1 115.8L987.3 115.8Z" stroke-width="0.7"/>
<path d="M987.3 144.9L990.1 144.9L990.1 147.7L987.3 147.7Z" stroke-width="0.7"/>
<path d="M995.0 144.9L997.8 144.9L997.8 147.7L995.0 147.7Z" stroke-width="0.7"/>
<path d="M985.0 66.6V72.2M987.0 66.6V72.2M983.4 69.4H988.6" stroke-width="0.9"/>
<path d="M989.5 66.6V72.2M991.5 66.6V72.2M987.9 69.4H993.1" stroke-width="0.9"/>
<path d="M985.0 150.7V155.9M987.0 150.7V155.9M983.4 153.3H988.6" stroke-width="0.9"/>
<path d="M989.5 150.7V155.9M991.5 150.7V155.9M987.9 153.3H993.1" stroke-width="0.9"/>
<path d="M1023.0 150.7V155.9M1025.0 150.7V155.9M1021.4 153.3H1026.6" stroke-width="0.9"/>
<path d="M1031.0 150.7V155.9M1033.0 150.7V155.9M1029.4 153.3H1034.6" stroke-width="0.9"/>
<path d="M996.4 154.5L1376.0 154.5"/>
<path d="M994.4 182.0H998.4M994.8 183.6L998.0 180.4"/>
<path d="M1034.1 216.9L1037.1 216.9L1037.1 219.9L1034.1 219.9Z" stroke-width="0.7"/>
<path d="M1034.1 267.4L1037.1 267.4L1037.1 270.4L1034.1 270.4Z" stroke-width="0.7"/>
<path d="M1034.1 314.4L1037.1 314.4L1037.1 317.4L1034.1 317.4Z" stroke-width="0.7"/>
<path d="M1034.1 351.0L1037.1 351.0L1037.1 354.0L1034.1 354.0Z" stroke-width="0.7"/>
<path d="M987.0 269.5L1039.3 269.5"/>
<path d="M987.0 315.5L1039.3 315.5"/>
<path d="M987.2 268.1L990.2 268.1L990.2 271.1L987.2 271.1Z" stroke-width="0.7"/>
<path d="M987.2 314.4L990.2 314.4L990.2 317.4L987.2 317.4Z" stroke-width="0.7"/>
<path d="M994.4 378.0H998.4M994.8 379.6L998.0 376.4"/>
<path d="M1092.5 75.3L1092.5 156.4"/>
<path d="M1114.5 75.3L1114.5 156.4"/>
<path d="M1137.5 75.3L1137.5 156.4"/>
<path d="M1161.5 75.3L1161.5 156.4"/>
<path d="M1184.5 75.3L1184.5 156.4"/>
<path d="M1207.5 75.3L1207.5 156.4"/>
<path d="M1231.5 75.3L1231.5 156.4"/>
<path d="M1254.5 75.3L1254.5 156.4"/>
<path d="M1288.5 75.3L1288.5 156.4"/>
<path d="M1308.5 75.3L1308.5 156.4"/>
<path d="M1329.5 75.3L1329.5 156.4"/>
<path d="M1350.5 75.3L1350.5 156.4"/>
<path d="M1371.5 75.3L1371.5 156.4"/>
<path d="M1036.0 78.7L1036.0 143.4" stroke-width="1.9"/>
<path d="M1068.0 78.7L1068.0 156.4" stroke-width="1.7"/>
<path d="M1066.5 142.0L1066.5 156.4"/>
<path d="M1257.5 75.3L1257.5 156.4"/>
<path d="M1035.8 79.0L1113.5 79.0" stroke-width="1.8"/>
<path d="M1113.5 78.5L1372.0 78.5" stroke-width="1.2"/>
<path d="M1035.8 141.0L1372.0 141.0" stroke-width="1.4"/>
<path d="M1035.8 143.5L1372.0 143.5" stroke-width="1.2"/>
<path d="M1035.8 102.5L1372.0 102.5"/>
<path d="M1035.8 120.5L1372.0 120.5"/>
<path d="M1114.5 103.0L1207.6 103.0" stroke-width="1.9"/>
<path d="M1114.0 78.7L1114.0 102.7" stroke-width="1.9"/>
<path d="M1138.0 78.7L1138.0 102.7" stroke-width="1.9"/>
<path d="M1161.0 78.7L1161.0 102.7" stroke-width="1.9"/>
<path d="M1184.0 78.7L1184.0 102.7" stroke-width="1.9"/>
<path d="M1208.0 78.7L1208.0 102.7" stroke-width="1.9"/>
<path d="M1254.5 78.7L1254.5 143.0" stroke-width="1.3"/>
<path d="M1257.7 119.0L1280.4 119.0" stroke-width="1.8"/>
<path d="M1288.0 119.3L1288.0 143.0" stroke-width="1.8"/>
<path d="M1281.8 123.0L1286.0 119.0" stroke-width="1.15"/>
<path d="M1117.8 78.5L1123.6 73.2L1129.5 78.5L1129.5 78.5L1135.3 73.2L1141.2 78.5L1141.2 78.5L1147.0 73.2L1152.9 78.5L1152.9 78.5L1158.8 73.2L1164.6 78.5L1164.6 78.5L1170.5 73.2L1176.3 78.5L1176.3 78.5L1182.2 73.2L1188.0 78.5L1188.0 78.5L1193.9 73.2L1199.7 78.5L1199.7 78.5L1205.6 73.2L1211.4 78.5" stroke-width="0.9"/>
<path d="M1211.4 78.5L1213.5 74.0" stroke-width="0.9"/>
<path d="M1056.7 78.5L1058.6 75.2L1060.5 78.5L1060.5 78.5L1062.4 75.2L1064.3 78.5L1064.3 78.5L1066.2 75.2L1068.1 78.5L1068.1 78.5L1070.0 75.2L1071.9 78.5L1071.9 78.5L1073.8 75.2L1075.7 78.5L1075.7 78.5L1077.6 75.2L1079.5 78.5" stroke-width="0.8"/>
<path d="M1091.3 151.6V156.8M1093.3 151.6V156.8M1089.7 154.2H1094.9" stroke-width="0.9"/>
<path d="M1091.3 132.2V137.4M1093.3 132.2V137.4M1089.7 134.8H1094.9" stroke-width="0.9"/>
<path d="M1113.5 151.6V156.8M1115.5 151.6V156.8M1111.9 154.2H1117.1" stroke-width="0.9"/>
<path d="M1113.5 132.2V137.4M1115.5 132.2V137.4M1111.9 134.8H1117.1" stroke-width="0.9"/>
<path d="M1136.9 151.6V156.8M1138.9 151.6V156.8M1135.3 154.2H1140.5" stroke-width="0.9"/>
<path d="M1136.9 132.2V137.4M1138.9 132.2V137.4M1135.3 134.8H1140.5" stroke-width="0.9"/>
<path d="M1160.3 151.6V156.8M1162.3 151.6V156.8M1158.7 154.2H1163.9" stroke-width="0.9"/>
<path d="M1160.3 132.2V137.4M1162.3 132.2V137.4M1158.7 134.8H1163.9" stroke-width="0.9"/>
<path d="M1183.3 151.6V156.8M1185.3 151.6V156.8M1181.7 154.2H1186.9" stroke-width="0.9"/>
<path d="M1183.3 132.2V137.4M1185.3 132.2V137.4M1181.7 134.8H1186.9" stroke-width="0.9"/>
<path d="M1206.6 151.6V156.8M1208.6 151.6V156.8M1205.0 154.2H1210.2" stroke-width="0.9"/>
<path d="M1206.6 132.2V137.4M1208.6 132.2V137.4M1205.0 134.8H1210.2" stroke-width="0.9"/>
<path d="M1230.5 151.6V156.8M1232.5 151.6V156.8M1228.9 154.2H1234.1" stroke-width="0.9"/>
<path d="M1230.5 132.2V137.4M1232.5 132.2V137.4M1228.9 134.8H1234.1" stroke-width="0.9"/>
<path d="M1253.5 151.6V156.8M1255.5 151.6V156.8M1251.9 154.2H1257.1" stroke-width="0.9"/>
<path d="M1253.5 132.2V137.4M1255.5 132.2V137.4M1251.9 134.8H1257.1" stroke-width="0.9"/>
<path d="M1287.3 151.6V156.8M1289.3 151.6V156.8M1285.7 154.2H1290.9" stroke-width="0.9"/>
<path d="M1287.3 132.2V137.4M1289.3 132.2V137.4M1285.7 134.8H1290.9" stroke-width="0.9"/>
<path d="M1307.4 151.6V156.8M1309.4 151.6V156.8M1305.8 154.2H1311.0" stroke-width="0.9"/>
<path d="M1307.4 132.2V137.4M1309.4 132.2V137.4M1305.8 134.8H1311.0" stroke-width="0.9"/>
<path d="M1328.6 151.6V156.8M1330.6 151.6V156.8M1327.0 154.2H1332.2" stroke-width="0.9"/>
<path d="M1328.6 132.2V137.4M1330.6 132.2V137.4M1327.0 134.8H1332.2" stroke-width="0.9"/>
<path d="M1349.6 151.6V156.8M1351.6 151.6V156.8M1348.0 154.2H1353.2" stroke-width="0.9"/>
<path d="M1349.6 132.2V137.4M1351.6 132.2V137.4M1348.0 134.8H1353.2" stroke-width="0.9"/>
<path d="M1370.7 151.6V156.8M1372.7 151.6V156.8M1369.1 154.2H1374.3" stroke-width="0.9"/>
<path d="M1370.7 132.2V137.4M1372.7 132.2V137.4M1369.1 134.8H1374.3" stroke-width="0.9"/>
<path d="M1067.2 151.6V156.8M1069.2 151.6V156.8M1065.6 154.2H1070.8" stroke-width="0.9"/>
<path d="M1067.2 132.2V137.4M1069.2 132.2V137.4M1065.6 134.8H1070.8" stroke-width="0.9"/>
<path d="M1066.8 101.3L1069.6 101.3L1069.6 104.1L1066.8 104.1Z" stroke-width="0.8" fill="#111"/>
<path d="M1090.9 101.3L1093.7 101.3L1093.7 104.1L1090.9 104.1Z" stroke-width="0.8" fill="#111"/>
<path d="M1230.1 101.3L1232.9 101.3L1232.9 104.1L1230.1 104.1Z" stroke-width="0.8" fill="#111"/>
<path d="M1253.1 101.3L1255.9 101.3L1255.9 104.1L1253.1 104.1Z" stroke-width="0.8" fill="#111"/>
<path d="M1307.0 101.3L1309.8 101.3L1309.8 104.1L1307.0 104.1Z" stroke-width="0.8" fill="#111"/>
<path d="M1328.2 101.3L1331.0 101.3L1331.0 104.1L1328.2 104.1Z" stroke-width="0.8" fill="#111"/>
<path d="M1349.2 101.3L1352.0 101.3L1352.0 104.1L1349.2 104.1Z" stroke-width="0.8" fill="#111"/>
<path d="M1370.3 101.3L1373.1 101.3L1373.1 104.1L1370.3 104.1Z" stroke-width="0.8" fill="#111"/>
<path d="M1066.9 141.0L1069.5 141.0L1069.5 143.6L1066.9 143.6Z" stroke-width="0.8" fill="#111"/>
<path d="M1091.0 141.0L1093.6 141.0L1093.6 143.6L1091.0 143.6Z" stroke-width="0.8" fill="#111"/>
<path d="M1113.2 141.0L1115.8 141.0L1115.8 143.6L1113.2 143.6Z" stroke-width="0.8" fill="#111"/>
<path d="M1230.2 141.0L1232.8 141.0L1232.8 143.6L1230.2 143.6Z" stroke-width="0.8" fill="#111"/>
<path d="M1253.2 141.0L1255.8 141.0L1255.8 143.6L1253.2 143.6Z" stroke-width="0.8" fill="#111"/>
<path d="M1287.0 141.0L1289.6 141.0L1289.6 143.6L1287.0 143.6Z" stroke-width="0.8" fill="#111"/>
<path d="M1307.1 141.0L1309.7 141.0L1309.7 143.6L1307.1 143.6Z" stroke-width="0.8" fill="#111"/>
<path d="M1255.5 118.0L1258.0 118.0L1258.0 120.6L1255.5 120.6Z" stroke-width="0.8" fill="#111"/>
<path d="M1287.0 118.0L1289.6 118.0L1289.6 120.6L1287.0 120.6Z" stroke-width="0.8" fill="#111"/>
<path d="M1054.5 78.7L1054.5 101.7"/>
<path d="M1054.5 98.5L1066.0 98.5" stroke-width="1.3"/>
<path d="M1054.5 89.5L1066.0 89.5" stroke-width="1.3"/>
<path d="M1043.7 120.0L1066.0 120.0" stroke-width="1.7"/>
<path d="M1039.0 119.7L1042.0 116.0" stroke-width="1.15"/>
<path d="M1044.5 84.5L1054.5 84.5" stroke-width="0.9"/>
<path d="M1044.5 90.5L1054.5 90.5" stroke-width="0.9"/>
<path d="M1047.5 84.5L1047.5 90.0" stroke-width="0.9"/>
<path d="M1050.5 84.5L1050.5 90.0" stroke-width="0.9"/>
<path d="M1044.0 84.9L1039.0 83.0L1044.0 81.1" stroke-width="0.8"/>
<path d="M1042.1 84.0L1042.1 82.0" stroke-width="0.8"/>
<path d="M1063.0 88.0L1060.3 95.0L1057.6 88.0" stroke-width="0.9"/>
<path d="M1061.8 90.7L1058.8 90.7" stroke-width="0.9"/>
<path d="M1078.8 86.0L1075.8 94.0L1072.8 86.0" stroke-width="0.9"/>
<path d="M1077.5 89.0L1074.1 89.0" stroke-width="0.9"/>
<path d="M1028.5 89.5L1034.5 89.5L1034.5 97.5L1028.5 97.5Z" stroke-width="0.9"/>
<path d="M1028.6 92.5L1034.4 92.5" stroke-width="0.9"/>
<path d="M1028.6 94.5L1034.4 94.5" stroke-width="0.9"/>
<path d="M1031.5 89.5L1031.5 97.4" stroke-width="0.9"/>
<path d="M1278.8 134.5L1281.8 126.5L1284.8 134.5" stroke-width="0.9"/>
<path d="M1280.1 131.5L1283.5 131.5" stroke-width="0.9"/>
<path d="M1364.2 101.8L1356.2 98.8L1364.2 95.8" stroke-width="0.9"/>
<path d="M1361.2 100.5L1361.2 97.1" stroke-width="0.9"/>
<path d="M1362.7 97.9L1357.7 96.0L1362.7 94.1" stroke-width="0.8"/>
<path d="M1360.8 97.0L1360.8 95.0" stroke-width="0.8"/>
<path d="M1352.4 137.8L1354.0 133.6L1355.6 137.8" stroke-width="0.8"/>
<path d="M1353.1 136.2L1354.9 136.2" stroke-width="0.8"/>
<path d="M1357.9 137.8L1359.5 133.6L1361.1 137.8" stroke-width="0.8"/>
<path d="M1358.6 136.2L1360.4 136.2" stroke-width="0.8"/>
<path d="M1363.4 137.8L1365.0 133.6L1366.6 137.8" stroke-width="0.8"/>
<path d="M1364.1 136.2L1365.9 136.2" stroke-width="0.8"/>
<path d="M1267.5 133.5L1274.5 133.5L1274.5 140.5L1267.5 140.5Z" stroke-width="0.9"/>
<path d="M1269.5 133.3L1269.5 140.5" stroke-width="0.9"/>
<path d="M1272.5 133.3L1272.5 140.5" stroke-width="0.9"/>
<path d="M1266.0 140.5L1277.0 140.5"/>
<path d="M1272.5 142.7L1272.5 149.9L1290.5 149.9L1290.5 142.7" stroke-width="1.2"/>
<path d="M1275.5 142.7L1275.5 147.0L1287.5 147.0L1287.5 142.7" stroke-width="0.9"/>
<path d="M1278.0 143.5L1279.5 146.0L1281.0 143.5L1282.5 146.0L1284.0 143.5" stroke-width="0.8"/>
<path d="M1351.5 120.0L1370.0 120.0" stroke-width="1.8"/>
<path d="M1351.5 122.0L1351.5 142.0" stroke-width="1.2"/>
<path d="M1346.5 119.0L1346.5 131.0"/>
<path d="M1344.9 120.0H1348.1M1344.9 121.6L1348.1 118.4"/>
<path d="M1344.9 131.0H1348.1M1344.9 132.6L1348.1 129.4"/>
<path d="M1351.5 131.5L1371.5 131.5L1371.5 139.5L1351.5 139.5Z" stroke-width="0.9"/>
<path d="M1372.0 78.7L1372.0 143.0" stroke-width="2"/>
<path d="M1373.5 93.0L1373.5 100.0" stroke-width="1.3"/>
<path d="M1373.5 113.0L1373.5 119.0" stroke-width="1.3"/>
<path d="M1368.5 127.0L1371.0 127.0L1371.0 130.0L1368.5 130.0Z" stroke-width="0.8"/>
<path d="M1362.0 143.5L1364.5 147.0L1367.0 143.5" stroke-width="0.8"/>
<path d="M1210.0 169.0L1234.5 169.0" stroke-width="1.9"/>
<path d="M1020.0 114.5L1028.0 114.5"/>
<path d="M1020.0 146.5L1028.0 146.5"/>
<path d="M1027.5 111.0L1027.5 148.5"/>
<path d="M1026.1 113.0L1028.9 113.0L1028.9 115.8L1026.1 115.8Z" stroke-width="0.7"/>
<path d="M1026.1 144.9L1028.9 144.9L1028.9 147.7L1026.1 147.7Z" stroke-width="0.7"/>
<path d="M1039.4 163.2L1061.0 163.2"/>
<path d="M1035.8 166.4L1039.4 163.2"/>
<path d="M1031.2 166.4H1039.2M1035.2 162.4V170.4"/>
<path d="M1366.5 66.0L1366.5 73.0" stroke-width="0.9"/>
<path d="M1369.5 66.0L1369.5 73.0" stroke-width="0.9"/>
<path d="M1373.5 66.0L1373.5 73.0" stroke-width="0.9"/>
<path d="M1380.0 71.0H1386.0M1380.0 73.0H1386.0M1383.0 69.4V74.6" stroke-width="0.9"/>
<path d="M1380.0 78.0H1386.0M1380.0 80.0H1386.0M1383.0 76.4V81.6" stroke-width="0.9"/>
<path d="M1380.0 138.7H1386.0M1380.0 140.7H1386.0M1383.0 137.1V142.3" stroke-width="0.9"/>
<path d="M1380.8 232.0H1385.2M1381.4 233.6L1384.6 230.4"/>
<path d="M1380.8 252.5H1385.2M1381.4 254.1L1384.6 250.9"/>
<path d="M1380.8 262.4H1385.2M1381.4 264.0L1384.6 260.8"/>
<path d="M1380.8 277.6H1385.2M1381.4 279.2L1384.6 276.0"/>
<path d="M1380.8 300.0H1385.2M1381.4 301.6L1384.6 298.4"/>
<path d="M1380.8 320.6H1385.2M1381.4 322.2L1384.6 319.0"/>
<path d="M1380.8 336.5H1385.2M1381.4 338.1L1384.6 334.9"/>
<path d="M1380.8 357.0H1385.2M1381.4 358.6L1384.6 355.4"/>
<path d="M1380.8 373.4H1385.2M1381.4 375.0L1384.6 371.8"/>
<path d="M1380.8 388.4H1385.2M1381.4 390.0L1384.6 386.8"/>
<path d="M1380.8 408.0H1385.2M1381.4 409.6L1384.6 406.4"/>
<path d="M1380.8 450.8H1385.2M1381.4 452.4L1384.6 449.2"/>
<path d="M1380.8 463.3H1385.2M1381.4 464.9L1384.6 461.7"/>
<path d="M1376.9 455.3H1382.1M1376.9 457.3H1382.1M1379.5 453.7V458.9" stroke-width="0.9"/>
<path d="M1377.4 483.5H1382.6M1377.4 485.5H1382.6M1380.0 481.9V487.1" stroke-width="0.9"/>
<path d="M1377.0 557.3H1383.0M1377.0 559.3H1383.0M1380.0 555.7V560.9" stroke-width="0.9"/>
<path d="M1369.0 557.3H1375.0M1369.0 559.3H1375.0M1372.0 555.7V560.9" stroke-width="0.9"/>
<path d="M1105.5 204.5L1191.5 204.5L1191.5 298.5L1105.5 298.5Z"/>
<path d="M1105.6 204.6L1191.5 298.4" stroke-width="1.15"/>
<path d="M1191.5 204.6L1105.6 298.4" stroke-width="1.15"/>
<path d="M1105.5 298.4L1105.5 391.4"/>
<path d="M1191.5 298.4L1191.5 391.4"/>
<path d="M1276.5 204.5L1363.5 204.5L1363.5 298.5L1276.5 298.5Z"/>
<path d="M1276.3 204.6L1363.5 298.4" stroke-width="1.15"/>
<path d="M1363.5 204.6L1276.3 298.4" stroke-width="1.15"/>
<path d="M1211.5 204.6L1211.5 407.8"/>
<path d="M1098.5 287.5L1199.5 287.5L1199.5 395.5L1098.5 395.5Z"/>
<path d="M1100.5 290.5L1197.5 290.5L1197.5 392.5L1100.5 392.5Z" stroke-width="0.9"/>
<path d="M1122.5 279.5L1122.5 391.3"/>
<path d="M1140.5 279.5L1140.5 391.3"/>
<path d="M1148.5 279.5L1148.5 391.3"/>
<path d="M1156.5 279.5L1156.5 391.3"/>
<path d="M1174.5 279.5L1174.5 391.3"/>
<path d="M1102.2 291.5L1194.0 291.5"/>
<path d="M1102.2 312.5L1194.0 312.5"/>
<path d="M1102.2 332.5L1194.0 332.5"/>
<path d="M1102.2 341.5L1194.0 341.5"/>
<path d="M1102.2 349.5L1194.0 349.5"/>
<path d="M1102.2 369.5L1194.0 369.5"/>
<path d="M1102.2 389.5L1194.0 389.5"/>
<path d="M1114.5 300.5L1132.5 300.5L1132.5 383.5L1114.5 383.5Z"/>
<path d="M1116.5 300.2L1116.5 383.9" stroke-width="0.9"/>
<path d="M1129.5 300.2L1129.5 383.9" stroke-width="0.9"/>
<path d="M1112.3 300.0L1134.0 300.0" stroke-width="1.8"/>
<path d="M1112.3 384.0L1134.0 384.0" stroke-width="1.8"/>
<path d="M1165.5 300.5L1182.5 300.5L1182.5 383.5L1165.5 383.5Z"/>
<path d="M1167.5 300.2L1167.5 383.9" stroke-width="0.9"/>
<path d="M1179.5 300.2L1179.5 383.9" stroke-width="0.9"/>
<path d="M1163.3 300.0L1184.5 300.0" stroke-width="1.8"/>
<path d="M1163.3 384.0L1184.5 384.0" stroke-width="1.8"/>
<circle cx="1123.1" cy="323.1" r="4.4" stroke-width="1.2"/>
<path d="M1116.6 323.1H1129.6M1123.1 316.6V329.6"/>
<circle cx="1123.1" cy="341.0" r="4.4" stroke-width="1.2"/>
<path d="M1116.6 341.0H1129.6M1123.1 334.5V347.5"/>
<circle cx="1123.1" cy="359.4" r="4.4" stroke-width="1.2"/>
<path d="M1116.6 359.4H1129.6M1123.1 352.9V365.9"/>
<circle cx="1173.5" cy="323.1" r="4.4" stroke-width="1.2"/>
<path d="M1167.0 323.1H1180.0M1173.5 316.6V329.6"/>
<circle cx="1173.5" cy="341.0" r="4.4" stroke-width="1.2"/>
<path d="M1167.0 341.0H1180.0M1173.5 334.5V347.5"/>
<circle cx="1173.5" cy="359.4" r="4.4" stroke-width="1.2"/>
<path d="M1167.0 359.4H1180.0M1173.5 352.9V365.9"/>
<circle cx="1148.6" cy="341.0" r="7.5" stroke-width="1.1"/>
<path d="M1143.6 346.5L1153.6 335.5" stroke-width="1.15"/>
<path d="M1100.0 289.3L1102.4 289.3L1102.4 291.7L1100.0 291.7Z" stroke-width="0.8" fill="#111"/>
<path d="M1194.8 289.3L1197.2 289.3L1197.2 291.7L1194.8 291.7Z" stroke-width="0.8" fill="#111"/>
<path d="M1100.0 391.1L1102.4 391.1L1102.4 393.5L1100.0 393.5Z" stroke-width="0.8" fill="#111"/>
<path d="M1194.8 391.1L1197.2 391.1L1197.2 393.5L1194.8 393.5Z" stroke-width="0.8" fill="#111"/>
<circle cx="1092.7" cy="292.4" r="4.5" stroke-width="1.15"/>
<path d="M1090.2 295.3L1141.5 338.9" stroke-width="1.15"/>
<path d="M1095.2 289.5L1146.5 333.1" stroke-width="1.15"/>
<circle cx="1089.4" cy="359.4" r="4.5" stroke-width="1.15"/>
<path d="M1090.5 363.0L1143.1 347.1" stroke-width="1.15"/>
<path d="M1088.3 355.8L1140.9 339.9" stroke-width="1.15"/>
<path d="M1092.5 283.0L1092.5 301.0"/>
<path d="M1089.5 350.0L1089.5 388.0"/>
<path d="M1183 276.7H1076A4 4 0 0 0 1072 280.7V305"/>
<path d="M1183 280.6H1080A4 4 0 0 0 1076 284.6V305"/>
<path d="M1184.0 274.5L1184.0 283.5" stroke-width="1.6"/>
<path d="M1088.3 288.4H1080A7 7 0 0 0 1073 295.4V303"/>
<path d="M1088.3 292.4H1084A7 7 0 0 0 1077 299.4V303" stroke-width="0.9"/>
<path d="M1143.0 272.5L1154.6 272.5"/>
<path d="M1067.5 305H1076.5L1080 310V322L1075.5 330.6H1068.5L1063.7 322V310Z"/>
<path d="M1068.5 330.6V334.5H1042.5V339.4H1069A7 7 0 0 0 1076.5 332V330.6"/>
<path d="M1067.5 339.4L1067.5 368.8"/>
<path d="M1076.5 334.0L1076.5 368.8"/>
<path d="M1065.5 368.5L1078.5 368.5L1078.5 372.5L1065.5 372.5Z"/>
<path d="M1068.5 372.5L1075.5 372.5L1075.5 377.5L1068.5 377.5Z" stroke-width="0.9" fill="#444"/>
<path d="M1070.5 380.4V385.6M1072.5 380.4V385.6M1068.9 383.0H1074.1" stroke-width="0.9"/>
<path d="M1070.5 385.8V391.0M1072.5 385.8V391.0M1068.9 388.4H1074.1" stroke-width="0.9"/>
<path d="M1065.3 356.5L1085.0 356.5"/>
<path d="M1065.3 364.5L1086.0 364.5"/>
<path d="M1065.5 356.0L1065.5 364.0"/>
<circle cx="1048.6" cy="321.2" r="4.9" stroke-width="1.2"/>
<path d="M1040.1 321.2H1057.1M1048.6 312.7V329.7"/>
<path d="M1045.5 326.0L1045.5 347.3"/>
<path d="M1051.5 326.0L1051.5 347.3"/>
<path d="M1042.5 347.5L1054.5 347.5L1054.5 354.5L1042.5 354.5Z"/>
<path d="M1044.5 354.5L1052.5 354.5L1052.5 358.5L1044.5 358.5Z"/>
<path d="M1046.5 359.5L1050.5 359.5L1050.5 365.5L1046.5 365.5Z" stroke-width="0.9" fill="#444"/>
<path d="M1048.5 365.0L1048.5 380.0"/>
<path d="M1038.0 350.5L1062.0 350.5"/>
<path d="M1094.5 305.5L1098.5 305.5L1098.5 320.5L1094.5 320.5Z" stroke-width="0.9"/>
<path d="M1094.7 307.5L1098.6 307.5" stroke-width="0.9"/>
<path d="M1094.7 309.5L1098.6 309.5" stroke-width="0.9"/>
<path d="M1094.7 312.5L1098.6 312.5" stroke-width="0.9"/>
<path d="M1094.7 314.5L1098.6 314.5" stroke-width="0.9"/>
<path d="M1094.7 316.5L1098.6 316.5" stroke-width="0.9"/>
<path d="M1094.7 318.5L1098.6 318.5" stroke-width="0.9"/>
<path d="M1094.5 325.0V330.0M1096.5 325.0V330.0M1092.9 327.5H1098.1" stroke-width="0.9"/>
<path d="M1105.0 325.0V330.0M1107.0 325.0V330.0M1103.4 327.5H1108.6" stroke-width="0.9"/>
<path d="M1092.0 327.5L1108.0 327.5"/>
<path d="M1199.5 342.5L1203.5 342.5L1203.5 365.5L1199.5 365.5Z" stroke-width="0.9"/>
<path d="M1199.0 345.5L1203.5 345.5" stroke-width="0.9"/>
<path d="M1199.0 347.5L1203.5 347.5" stroke-width="0.9"/>
<path d="M1199.0 350.5L1203.5 350.5" stroke-width="0.9"/>
<path d="M1199.0 352.5L1203.5 352.5" stroke-width="0.9"/>
<path d="M1199.0 355.5L1203.5 355.5" stroke-width="0.9"/>
<path d="M1199.0 358.5L1203.5 358.5" stroke-width="0.9"/>
<path d="M1199.0 360.5L1203.5 360.5" stroke-width="0.9"/>
<path d="M1199.0 363.5L1203.5 363.5" stroke-width="0.9"/>
<path d="M1199.0 342.4L1203.5 338.0" stroke-width="1.15"/>
<path d="M1034.0 388.5L1098.6 388.5"/>
<path d="M1048.6 386.4V390.4M1047.0 390.0L1050.2 386.8"/>
<path d="M1089.4 386.4V390.4M1087.8 390.0L1091.0 386.8"/>
<path d="M1270.5 262.5L1370.5 262.5L1370.5 394.5L1270.5 394.5Z"/>
<path d="M1272.5 264.5L1368.5 264.5L1368.5 391.5L1272.5 391.5Z" stroke-width="0.9"/>
<path d="M1293.5 254.2L1293.5 390.1"/>
<path d="M1311.5 254.2L1311.5 390.1"/>
<path d="M1319.5 254.2L1319.5 390.1"/>
<path d="M1327.5 254.2L1327.5 390.1"/>
<path d="M1345.5 254.2L1345.5 390.1"/>
<path d="M1274.0 283.5L1365.4 283.5"/>
<path d="M1274.0 301.5L1365.4 301.5"/>
<path d="M1274.0 320.5L1365.4 320.5"/>
<path d="M1274.0 328.5L1365.4 328.5"/>
<path d="M1274.0 336.5L1365.4 336.5"/>
<path d="M1274.0 356.5L1365.4 356.5"/>
<path d="M1274.0 375.5L1365.4 375.5"/>
<path d="M1274.0 388.5L1365.4 388.5"/>
<path d="M1286.5 273.5L1302.5 273.5L1302.5 384.5L1286.5 384.5Z"/>
<path d="M1288.5 273.9L1288.5 384.3" stroke-width="0.9"/>
<path d="M1300.5 273.9L1300.5 384.3" stroke-width="0.9"/>
<path d="M1284.0 274.0L1304.7 274.0" stroke-width="1.8"/>
<path d="M1284.0 384.0L1304.7 384.0" stroke-width="1.8"/>
<path d="M1337.5 273.5L1353.5 273.5L1353.5 384.5L1337.5 384.5Z"/>
<path d="M1340.5 273.9L1340.5 384.3" stroke-width="0.9"/>
<path d="M1351.5 273.9L1351.5 384.3" stroke-width="0.9"/>
<path d="M1335.5 274.0L1355.7 274.0" stroke-width="1.8"/>
<path d="M1335.5 384.0L1355.7 384.0" stroke-width="1.8"/>
<circle cx="1293.9" cy="297.1" r="4.4" stroke-width="1.2"/>
<path d="M1287.4 297.1H1300.4M1293.9 290.6V303.6"/>
<circle cx="1293.9" cy="363.7" r="4.4" stroke-width="1.2"/>
<path d="M1287.4 363.7H1300.4M1293.9 357.2V370.2"/>
<circle cx="1345.9" cy="297.1" r="4.4" stroke-width="1.2"/>
<path d="M1339.4 297.1H1352.4M1345.9 290.6V303.6"/>
<circle cx="1345.9" cy="328.4" r="4.4" stroke-width="1.2"/>
<path d="M1339.4 328.4H1352.4M1345.9 321.9V334.9"/>
<circle cx="1345.9" cy="363.7" r="4.4" stroke-width="1.2"/>
<path d="M1339.4 363.7H1352.4M1345.9 357.2V370.2"/>
<circle cx="1319.4" cy="328.4" r="7.5" stroke-width="1.1"/>
<path d="M1314.4 333.9L1324.4 322.9" stroke-width="1.15"/>
<path d="M1271.8 264.0L1274.2 264.0L1274.2 266.4L1271.8 266.4Z" stroke-width="0.8" fill="#111"/>
<path d="M1366.2 264.0L1368.6 264.0L1368.6 266.4L1366.2 266.4Z" stroke-width="0.8" fill="#111"/>
<path d="M1271.8 389.9L1274.2 389.9L1274.2 392.3L1271.8 392.3Z" stroke-width="0.8" fill="#111"/>
<path d="M1366.2 389.9L1368.6 389.9L1368.6 392.3L1366.2 392.3Z" stroke-width="0.8" fill="#111"/>
<path d="M1276.5 298.4L1276.5 391.0"/>
<path d="M1363.5 298.4L1363.5 391.0"/>
<circle cx="1256.7" cy="299.0" r="4.5" stroke-width="1.15"/>
<path d="M1255.1 302.5L1311.9 328.0" stroke-width="1.15"/>
<path d="M1258.3 295.5L1315.1 321.0" stroke-width="1.15"/>
<circle cx="1256.3" cy="359.4" r="4.5" stroke-width="1.15"/>
<path d="M1258.0 362.8L1314.7 335.4" stroke-width="1.15"/>
<path d="M1254.6 356.0L1311.3 328.6" stroke-width="1.15"/>
<circle cx="1213.5" cy="308.8" r="5.0" stroke-width="1.2"/>
<path d="M1205.5 308.8H1221.5M1213.5 300.8V316.8"/>
<path d="M1221 308.8H1226L1228 311.5H1253.5L1256 316V324"/>
<path d="M1221 312.8H1224L1226 315.4H1251L1252.5 318V324"/>
<path d="M1232 329L1237 321.6H1249L1252.7 329L1249 337.3H1237Z"/>
<path d="M1203.7 327.5L1347.0 327.5"/>
<path d="M1203.7 330.5L1347.0 330.5"/>
<path d="M1207.5 348.5L1219.5 348.5L1219.5 354.5L1207.5 354.5Z"/>
<path d="M1209.5 354.5L1217.5 354.5L1217.5 358.5L1209.5 358.5Z"/>
<path d="M1211.5 359.5L1215.5 359.5L1215.5 365.5L1211.5 365.5Z" stroke-width="0.9" fill="#444"/>
<path d="M1211.5 313.0L1211.5 348.0"/>
<path d="M1216.5 313.0L1216.5 348.0"/>
<path d="M1219.4 356.5L1252.0 356.5"/>
<path d="M1219.4 361.5L1252.0 361.5"/>
<path d="M1222.0 369.0L1234.0 369.0" stroke-width="1.6"/>
<path d="M1225.5 369.5L1230.5 369.5L1230.5 375.5L1225.5 375.5Z" stroke-width="0.9" fill="#444"/>
<path d="M1228.5 375.5L1228.5 386.0"/>
<path d="M1190.0 388.5L1376.0 388.5"/>
<path d="M1370.5 342.5L1374.5 342.5L1374.5 360.5L1370.5 360.5Z" stroke-width="0.9"/>
<path d="M1370.0 344.5L1374.0 344.5" stroke-width="0.9"/>
<path d="M1370.0 347.5L1374.0 347.5" stroke-width="0.9"/>
<path d="M1370.0 349.5L1374.0 349.5" stroke-width="0.9"/>
<path d="M1370.0 352.5L1374.0 352.5" stroke-width="0.9"/>
<path d="M1370.0 354.5L1374.0 354.5" stroke-width="0.9"/>
<path d="M1370.0 357.5L1374.0 357.5" stroke-width="0.9"/>
<path d="M1265.5 269.5L1269.5 269.5L1269.5 286.5L1265.5 286.5Z" stroke-width="0.9"/>
<path d="M1265.5 271.5L1269.4 271.5" stroke-width="0.9"/>
<path d="M1265.5 274.5L1269.4 274.5" stroke-width="0.9"/>
<path d="M1265.5 276.5L1269.4 276.5" stroke-width="0.9"/>
<path d="M1265.5 279.5L1269.4 279.5" stroke-width="0.9"/>
<path d="M1265.5 281.5L1269.4 281.5" stroke-width="0.9"/>
<path d="M1265.5 283.5L1269.4 283.5" stroke-width="0.9"/>
<path d="M1262.0 288.5V293.5M1264.0 288.5V293.5M1260.4 291.0H1265.6" stroke-width="0.9"/>
<path d="M1259.0 291.5L1270.0 291.5"/>
<circle cx="1229.8" cy="403.5" r="4.3" stroke-width="1.15"/>
<path d="M1223.5 403.5H1236.1M1229.8 397.2V409.8"/>
<path d="M1224.0 396.5L1236.0 396.5"/>
<path d="M1030.0 407.5L1376.0 407.5"/>
<path d="M1030.0 404.5L1200.0 404.5"/>
<circle cx="1059.4" cy="403.1" r="4.0" stroke-width="1.15"/>
<path d="M1053.4 403.1H1065.4M1059.4 397.1V409.1"/>
<path d="M1053.0 396.5L1065.5 396.5"/>
<path d="M1076.5 402.5L1089.5 402.5L1089.5 407.5L1076.5 407.5Z" stroke-width="0.9"/>
<circle cx="1078.5" cy="404.5" r="1.8" stroke-width="0.9"/>
<path d="M1034.6 401.4V406.6M1036.6 401.4V406.6M1033.0 404.0H1038.2" stroke-width="0.9"/>
<path d="M1068.0 401.4V406.6M1070.0 401.4V406.6M1066.4 404.0H1071.6" stroke-width="0.9"/>
<path d="M1104.6 401.4V406.6M1106.6 401.4V406.6M1103.0 404.0H1108.2" stroke-width="0.9"/>
<path d="M1119.6 401.4V406.6M1121.6 401.4V406.6M1118.0 404.0H1123.2" stroke-width="0.9"/>
<path d="M1147.6 401.4V406.6M1149.6 401.4V406.6M1146.0 404.0H1151.2" stroke-width="0.9"/>
<path d="M1155.5 401.4V406.6M1157.5 401.4V406.6M1153.9 404.0H1159.1" stroke-width="0.9"/>
<path d="M1190.5 401.4V406.6M1192.5 401.4V406.6M1188.9 404.0H1194.1" stroke-width="0.9"/>
<path d="M1220.0 402.0V406.0M1218.4 405.6L1221.6 402.4"/>
<path d="M1240.6 402.0V406.0M1239.0 405.6L1242.2 402.4"/>
<path d="M1265.0 402.0V406.0M1263.4 405.6L1266.6 402.4"/>
<path d="M1292.6 402.0V406.0M1291.0 405.6L1294.2 402.4"/>
<path d="M1328.6 402.0V406.0M1327.0 405.6L1330.2 402.4"/>
<path d="M1365.2 402.0V406.0M1363.6 405.6L1366.8 402.4"/>
<path d="M1016.5 407.8L1016.5 563.0"/>
<path d="M1068.5 407.8L1068.5 563.0"/>
<path d="M1120.5 407.8L1120.5 563.0"/>
<path d="M1157.5 407.8L1157.5 458.8"/>
<path d="M1188.5 407.8L1188.5 563.0"/>
<path d="M985.0 451.5L1372.0 451.5"/>
<path d="M986.5 449.5L989.5 449.5L989.5 452.5L986.5 452.5Z" stroke-width="0.7"/>
<path d="M1014.5 449.5L1018.5 449.5L1018.5 452.5L1014.5 452.5Z" stroke-width="0.7"/>
<path d="M1066.5 449.5L1070.5 449.5L1070.5 452.5L1066.5 452.5Z" stroke-width="0.7"/>
<path d="M1118.5 449.5L1122.5 449.5L1122.5 452.5L1118.5 452.5Z" stroke-width="0.7"/>
<path d="M1155.5 449.5L1159.5 449.5L1159.5 452.5L1155.5 452.5Z" stroke-width="0.7"/>
<path d="M1186.5 449.5L1190.5 449.5L1190.5 452.5L1186.5 452.5Z" stroke-width="0.7"/>
<path d="M1238.5 449.5L1242.5 449.5L1242.5 452.5L1238.5 452.5Z" stroke-width="0.7"/>
<path d="M1290.5 449.5L1294.5 449.5L1294.5 452.5L1290.5 452.5Z" stroke-width="0.7"/>
<path d="M1326.5 449.5L1330.5 449.5L1330.5 452.5L1326.5 452.5Z" stroke-width="0.7"/>
<path d="M1363.5 449.5L1367.5 449.5L1367.5 452.5L1363.5 452.5Z" stroke-width="0.7"/>
<path d="M987.8 456.5L1380.0 456.5"/>
<path d="M1034.3 454.4V458.4M1032.7 458.0L1035.9 454.8"/>
<path d="M1043.0 454.4V458.4M1041.4 458.0L1044.6 454.8"/>
<path d="M1094.4 454.4V458.4M1092.8 458.0L1096.0 454.8"/>
<path d="M1220.0 454.4V458.4M1218.4 458.0L1221.6 454.8"/>
<path d="M1282.0 454.4V458.4M1280.4 458.0L1283.6 454.8"/>
<path d="M1015.0 456.4H1018.0M1014.9 458.0L1018.1 454.8"/>
<path d="M1067.1 456.4H1070.1M1067.0 458.0L1070.2 454.8"/>
<path d="M1119.1 456.4H1122.1M1119.0 458.0L1122.2 454.8"/>
<path d="M1155.9 456.4H1158.9M1155.8 458.0L1159.0 454.8"/>
<path d="M1186.9 456.4H1189.9M1186.8 458.0L1190.0 454.8"/>
<path d="M1239.1 456.4H1242.1M1239.0 458.0L1242.2 454.8"/>
<path d="M1291.1 456.4H1294.1M1291.0 458.0L1294.2 454.8"/>
<path d="M1327.1 456.4H1330.1M1327.0 458.0L1330.2 454.8"/>
<path d="M1363.7 456.4H1366.7M1363.6 458.0L1366.8 454.8"/>
<path d="M1240.5 407.8L1240.5 563.0"/>
<path d="M1292.5 407.8L1292.5 563.0"/>
<path d="M1328.5 407.8L1328.5 458.3"/>
<path d="M1365.5 407.8L1365.5 458.3"/>
<path d="M1013.0 414.5L1367.0 414.5"/>
<path d="M1014.5 412.5L1018.5 412.5L1018.5 415.5L1014.5 415.5Z" stroke-width="0.7"/>
<path d="M1066.5 412.5L1070.5 412.5L1070.5 415.5L1066.5 415.5Z" stroke-width="0.7"/>
<path d="M1118.5 412.5L1122.5 412.5L1122.5 415.5L1118.5 415.5Z" stroke-width="0.7"/>
<path d="M1155.5 412.5L1159.5 412.5L1159.5 415.5L1155.5 415.5Z" stroke-width="0.7"/>
<path d="M1186.5 412.5L1190.5 412.5L1190.5 415.5L1186.5 415.5Z" stroke-width="0.7"/>
<path d="M1238.5 412.5L1242.5 412.5L1242.5 415.5L1238.5 415.5Z" stroke-width="0.7"/>
<path d="M1290.5 412.5L1294.5 412.5L1294.5 415.5L1290.5 415.5Z" stroke-width="0.7"/>
<path d="M1326.5 412.5L1330.5 412.5L1330.5 415.5L1326.5 415.5Z" stroke-width="0.7"/>
<path d="M1363.5 412.5L1366.5 412.5L1366.5 415.5L1363.5 415.5Z" stroke-width="0.7"/>
<path d="M1163.0 419.3L1185.0 419.3L1189.0 414.0"/>
<path d="M1081.0 435.5L1110.0 435.5"/>
<path d="M968.4 484.5L1382.0 484.5"/>
<path d="M1013.0 499.5L1322.0 499.5"/>
<path d="M920.0 551.5L1322.0 551.5"/>
<path d="M920.0 558.5L1383.0 558.5"/>
<path d="M1012.5 495.5L1020.5 495.5L1020.5 502.5L1012.5 502.5Z" stroke-width="0.7"/>
<path d="M1012.5 547.5L1020.5 547.5L1020.5 555.5L1012.5 555.5Z" stroke-width="0.7"/>
<path d="M1065.5 495.5L1072.5 495.5L1072.5 502.5L1065.5 502.5Z" stroke-width="0.7"/>
<path d="M1065.5 547.5L1072.5 547.5L1072.5 555.5L1065.5 555.5Z" stroke-width="0.7"/>
<path d="M1117.5 495.5L1124.5 495.5L1124.5 502.5L1117.5 502.5Z" stroke-width="0.7"/>
<path d="M1117.5 547.5L1124.5 547.5L1124.5 555.5L1117.5 555.5Z" stroke-width="0.7"/>
<path d="M1184.5 495.5L1192.5 495.5L1192.5 502.5L1184.5 502.5Z" stroke-width="0.7"/>
<path d="M1184.5 547.5L1192.5 547.5L1192.5 555.5L1184.5 555.5Z" stroke-width="0.7"/>
<path d="M1237.5 495.5L1244.5 495.5L1244.5 502.5L1237.5 502.5Z" stroke-width="0.7"/>
<path d="M1237.5 547.5L1244.5 547.5L1244.5 555.5L1237.5 555.5Z" stroke-width="0.7"/>
<path d="M1289.5 495.5L1296.5 495.5L1296.5 502.5L1289.5 502.5Z" stroke-width="0.7"/>
<path d="M1289.5 547.5L1296.5 547.5L1296.5 555.5L1289.5 555.5Z" stroke-width="0.7"/>
<path d="M980.0 542.5L1172.0 542.5"/>
<path d="M1033.3 539.5V545.5M1035.3 539.5V545.5M1031.7 542.5H1036.9" stroke-width="0.9"/>
<path d="M1041.5 539.5V545.5M1043.5 539.5V545.5M1039.9 542.5H1045.1" stroke-width="0.9"/>
<path d="M1050.4 539.5V545.5M1052.4 539.5V545.5M1048.8 542.5H1054.0" stroke-width="0.9"/>
<path d="M1067.6 539.5V545.5M1069.6 539.5V545.5M1066.0 542.5H1071.2" stroke-width="0.9"/>
<path d="M1083.3 539.5V545.5M1085.3 539.5V545.5M1081.7 542.5H1086.9" stroke-width="0.9"/>
<path d="M1108.0 539.9V545.1M1110.0 539.9V545.1M1106.4 542.5H1111.6" stroke-width="0.9"/>
<path d="M1139.0 539.9V545.1M1141.0 539.9V545.1M1137.4 542.5H1142.6" stroke-width="0.9"/>
<path d="M1145.0 539.9V545.1M1147.0 539.9V545.1M1143.4 542.5H1148.6" stroke-width="0.9"/>
<path d="M1161.3 539.9V545.1M1163.3 539.9V545.1M1159.7 542.5H1164.9" stroke-width="0.9"/>
<path d="M1169.0 539.9V545.1M1171.0 539.9V545.1M1167.4 542.5H1172.6" stroke-width="0.9"/>
<path d="M1068.0 543.9V549.1M1070.0 543.9V549.1M1066.4 546.5H1071.6" stroke-width="0.9"/>
<path d="M1083.5 543.9V549.1M1085.5 543.9V549.1M1081.9 546.5H1087.1" stroke-width="0.9"/>
<path d="M1024.5 538A21.8 21.8 0 1 1 1063 533" stroke-width="1.1"/>
<path d="M1042.5 502.0L1042.5 548.0"/>
<path d="M1028.0 516.5L1058.0 516.5"/>
<path d="M1077.5 538.5A21.8 21.8 0 0 1 1088.6 504.8" stroke-width="1.1"/>
<path d="M1085 545A21.8 21.8 0 0 0 1116.5 530" stroke-width="1.1"/>
<path d="M1095.5 499.5L1095.5 549.0"/>
<path d="M1024.7 520.5L1087.6 520.5"/>
<path d="M1024.7 523.0L1087.6 523.0" stroke-width="1.4"/>
<path d="M1032.5 523.0L1032.5 532.5" stroke-width="0.9"/>
<path d="M1034.5 523.0L1034.5 532.5" stroke-width="0.9"/>
<path d="M1031.5 528.5L1035.5 528.5L1035.5 532.5L1031.5 532.5Z" stroke-width="0.9"/>
<path d="M1033.5 518.0L1033.5 523.0" stroke-width="0.8"/>
<path d="M1050.5 523.0L1050.5 532.5" stroke-width="0.9"/>
<path d="M1052.5 523.0L1052.5 532.5" stroke-width="0.9"/>
<path d="M1049.5 528.5L1053.5 528.5L1053.5 532.5L1049.5 532.5Z" stroke-width="0.9"/>
<path d="M1051.5 518.0L1051.5 523.0" stroke-width="0.8"/>
<path d="M1067.5 523.0L1067.5 532.5" stroke-width="0.9"/>
<path d="M1070.5 523.0L1070.5 532.5" stroke-width="0.9"/>
<path d="M1066.5 528.5L1070.5 528.5L1070.5 532.5L1066.5 532.5Z" stroke-width="0.9"/>
<path d="M1068.5 518.0L1068.5 523.0" stroke-width="0.8"/>
<path d="M1083.5 523.0L1083.5 532.5" stroke-width="0.9"/>
<path d="M1085.5 523.0L1085.5 532.5" stroke-width="0.9"/>
<path d="M1082.5 528.5L1086.5 528.5L1086.5 532.5L1082.5 532.5Z" stroke-width="0.9"/>
<path d="M1084.5 518.0L1084.5 523.0" stroke-width="0.8"/>
<path d="M1024.7 499.0L1024.7 521.0"/>
<path d="M1023.1 501.0H1026.3M1023.1 502.6L1026.3 499.4"/>
<path d="M1023.1 520.0H1026.3M1023.1 521.6L1026.3 518.4"/>
<path d="M1019.0 492.5L1038.6 492.5"/>
<path d="M1038.0 496.5L1052.0 496.5"/>
<path d="M1070.0 489.5L1094.0 489.5"/>
<path d="M1075.0 491.0L1076.7 494.5L1078.4 491.0"/>
<path d="M1087.0 496.5L1101.0 496.5"/>
<path d="M1105.0 496.5L1115.0 496.5"/>
<path d="M1103.1 505.6V532.5A5.9 3.2 0 0 0 1114.9 532.5V505.6A5.9 3.2 0 0 0 1103.1 505.6Z"/>
<path d="M1100.5 506.2L1100.5 529.5"/>
<path d="M1098.8 508.5H1102.4M1099.0 510.1L1102.2 506.9"/>
<path d="M1098.8 528.5H1102.4M1099.0 530.1L1102.2 526.9"/>
<path d="M1103.5 507.0L1114.5 507.0L1114.5 509.5L1103.5 509.5Z" stroke-width="0.9"/>
<path d="M1103.5 527.5L1114.5 527.5L1114.5 530.0L1103.5 530.0Z" stroke-width="0.9"/>
<path d="M1104.0 496.5L1115.0 496.5"/>
<path d="M1148.5 515.5L1161.5 515.5L1161.5 527.5L1148.5 527.5Z"/>
<path d="M1148.7 515.0L1161.3 527.6" stroke-width="1.15"/>
<path d="M1161.3 515.0L1148.7 527.6" stroke-width="1.15"/>
<path d="M1142.5 514.5L1147.5 514.5L1147.5 528.5L1142.5 528.5Z" stroke-width="0.9" fill="#666"/>
<path d="M1162.5 514.5L1167.5 514.5L1167.5 528.5L1162.5 528.5Z" stroke-width="0.9" fill="#666"/>
<path d="M1146.5 528.5L1163.5 528.5L1163.5 532.5L1146.5 532.5Z" stroke-width="0.9" fill="#666"/>
<path d="M1141.5 513.5L1167.5 513.5L1167.5 532.5L1141.5 532.5Z" stroke-width="0.9"/>
<path d="M1134.5 498.5L1134.5 535.3"/>
<path d="M1132.3 513.4H1135.9M1132.5 515.0L1135.7 511.8"/>
<path d="M1132.3 528.0H1135.9M1132.5 529.6L1135.7 526.4"/>
<path d="M1133.0 535.5L1174.0 535.5"/>
<path d="M1138.5 494.7V500.3M1140.5 494.7V500.3M1136.9 497.5H1142.1" stroke-width="0.9"/>
<path d="M1168.5 495.1V499.9M1170.5 495.1V499.9M1166.9 497.5H1172.1" stroke-width="0.9"/>
<path d="M1139.0 532.7V537.9M1141.0 532.7V537.9M1137.4 535.3H1142.6" stroke-width="0.9"/>
<path d="M1169.0 533.1V537.5M1171.0 533.1V537.5M1167.4 535.3H1172.6" stroke-width="0.9"/>
<path d="M1169.5 495.0L1169.5 545.0"/>
<circle cx="979.1" cy="504.7" r="9.9" stroke-width="1.6"/>
<path d="M990 517.7A16.9 16.9 0 1 1 995.6 501" stroke-width="1.1"/>
<path d="M966.1 504.7H992.1M979.1 491.7V517.7"/>
<path d="M994.5 501.0L994.5 527.0"/>
<path d="M992.0 527.5L1012.0 527.5"/>
<path d="M997.7 485.4V523.3A2.6 1.4 0 0 0 1002.9 523.3V485.4A2.6 1.4 0 0 0 997.7 485.4Z"/>
<path d="M997.0 488.5L1003.6 488.5" stroke-width="0.9"/>
<path d="M997.0 490.5L1003.6 490.5" stroke-width="0.9"/>
<path d="M997.0 492.5L1003.6 492.5" stroke-width="0.9"/>
<path d="M997.0 516.5L1003.6 516.5" stroke-width="0.9"/>
<path d="M997.0 518.5L1003.6 518.5" stroke-width="0.9"/>
<path d="M997.0 520.5L1003.6 520.5" stroke-width="0.9"/>
<path d="M994.5 482.5L1005.0 482.5"/>
<path d="M1007.5 493.6L1007.5 527.5"/>
<path d="M1005.4 494.0H1009.0M1005.6 495.6L1008.8 492.4"/>
<path d="M1005.4 516.0H1009.0M1005.6 517.6L1008.8 514.4"/>
<path d="M1005.4 527.0H1009.0M1005.6 528.6L1008.8 525.4"/>
<path d="M1007.0 527.5L1013.0 527.5"/>
<path d="M1014.5 512.0L1014.5 521.0"/>
<path d="M952.5 483.5L956.5 483.5L956.5 502.5L952.5 502.5Z" stroke-width="0.9"/>
<path d="M952.0 485.5L956.8 485.5" stroke-width="0.9"/>
<path d="M952.0 487.5L956.8 487.5" stroke-width="0.9"/>
<path d="M952.0 490.5L956.8 490.5" stroke-width="0.9"/>
<path d="M952.0 492.5L956.8 492.5" stroke-width="0.9"/>
<path d="M952.0 495.5L956.8 495.5" stroke-width="0.9"/>
<path d="M952.0 497.5L956.8 497.5" stroke-width="0.9"/>
<path d="M952.0 499.5L956.8 499.5" stroke-width="0.9"/>
<path d="M923.5 473.5L947.5 473.5L947.5 511.5L923.5 511.5Z"/>
<path d="M921.0 483.5L947.5 483.5"/>
<path d="M921.0 492.5L947.5 492.5"/>
<path d="M935.5 473.3L935.5 511.0"/>
<path d="M928.0 510.6V515.4M930.0 510.6V515.4M926.4 513.0H931.6" stroke-width="0.9"/>
<path d="M940.0 510.6V515.4M942.0 510.6V515.4M938.4 513.0H943.6" stroke-width="0.9"/>
<path d="M925.0 470.5V473.5M927.0 470.5V473.5M923.4 472.0H928.6" stroke-width="0.9"/>
<path d="M928.5 470.5V473.5M930.5 470.5V473.5M926.9 472.0H932.1" stroke-width="0.9"/>
<path d="M932.0 470.5V473.5M934.0 470.5V473.5M930.4 472.0H935.6" stroke-width="0.9"/>
<path d="M936.0 470.5V473.5M938.0 470.5V473.5M934.4 472.0H939.6" stroke-width="0.9"/>
<path d="M939.5 470.5V473.5M941.5 470.5V473.5M937.9 472.0H943.1" stroke-width="0.9"/>
<path d="M943.0 470.5V473.5M945.0 470.5V473.5M941.4 472.0H946.6" stroke-width="0.9"/>
<path d="M949.5 479.5H953.5M949.5 481.5H953.5M951.5 477.9V483.1" stroke-width="0.9"/>
<path d="M949.3 503.8H953.7M949.3 505.8H953.7M951.5 502.2V507.4" stroke-width="0.9"/>
<path d="M920.0 470.5L1019.0 470.5"/>
<path d="M978.0 467.8V473.8M980.0 467.8V473.8M976.4 470.8H981.6" stroke-width="0.9"/>
<path d="M999.4 467.8V473.8M1001.4 467.8V473.8M997.8 470.8H1003.0" stroke-width="0.9"/>
<path d="M1015.9 467.8V473.8M1017.9 467.8V473.8M1014.3 470.8H1019.5" stroke-width="0.9"/>
<path d="M951.0 468.8V472.8M949.4 472.4L952.6 469.2"/>
<path d="M935.5 468.8V472.8M933.9 472.4L937.1 469.2"/>
<path d="M76.7 448.5H480A32.5 22.2 0 0 1 512.5 470.7V646.5A14.5 21 0 0 1 498 667.5H76.7"/>
<path d="M533.5 633V470.7A29.5 22.2 0 0 1 563 448.5H894.4C925 448.5 950 484.5 983 484.5H1013"/>
<path d="M533.5 633A19.5 21.5 0 0 0 553 654.5H1375.7"/>
<circle cx="1214.0" cy="525.5" r="22.0" stroke-width="1.2"/>
<circle cx="1267.2" cy="525.5" r="22.0" stroke-width="1.2"/>
<path d="M1214.5 503.0L1214.5 548.0"/>
<path d="M1267.5 503.0L1267.5 548.0"/>
<path d="M1192.0 525.5L1290.0 525.5"/>
<path d="M1198.0 521.5L1262.0 521.5"/>
<path d="M1198.0 524.0L1262.0 524.0" stroke-width="1.4"/>
<path d="M1202.5 526.5L1207.5 526.5L1207.5 531.5L1202.5 531.5Z" stroke-width="0.9"/>
<path d="M1220.5 526.5L1224.5 526.5L1224.5 531.5L1220.5 531.5Z" stroke-width="0.9"/>
<path d="M1255.5 526.5L1260.5 526.5L1260.5 531.5L1255.5 531.5Z" stroke-width="0.9"/>
<path d="M1214.0 493.5L1281.0 493.5"/>
<path d="M1209.0 497.5L1224.0 497.5"/>
<path d="M1258.0 497.5L1273.0 497.5"/>
<path d="M1199.0 516.5L1230.0 516.5"/>
<path d="M1236.0 516.5L1268.0 516.5"/>
<path d="M1178.0 541.5L1303.0 541.5"/>
<path d="M1204.0 539.1V543.9M1206.0 539.1V543.9M1202.4 541.5H1207.6" stroke-width="0.9"/>
<path d="M1213.0 539.1V543.9M1215.0 539.1V543.9M1211.4 541.5H1216.6" stroke-width="0.9"/>
<path d="M1222.5 539.1V543.9M1224.5 539.1V543.9M1220.9 541.5H1226.1" stroke-width="0.9"/>
<path d="M1257.0 539.1V543.9M1259.0 539.1V543.9M1255.4 541.5H1260.6" stroke-width="0.9"/>
<path d="M1266.2 539.1V543.9M1268.2 539.1V543.9M1264.6 541.5H1269.8" stroke-width="0.9"/>
<path d="M1294.5 512.5L1310.5 512.5L1310.5 522.5L1294.5 522.5Z" stroke-width="1.2"/>
<path d="M1294.6 515.5L1310.4 515.5"/>
<path d="M1297.0 509.5L1308.0 509.5" stroke-width="1.3"/>
<path d="M1302.5 515.5L1302.5 522.2"/>
<path d="M1270 506A6 6 0 0 1 1285 508" stroke-width="1.3"/>
<circle cx="1280.0" cy="530.0" r="5.0"/>
<path d="M1270.0 529.5L1286.0 529.5" stroke-width="1.3"/>
<path d="M1317.5 484.5L1317.5 558.3"/>
<path d="M1315.0 499.0H1319.0M1315.4 500.6L1318.6 497.4"/>
<path d="M1315.0 518.0H1319.0M1315.4 519.6L1318.6 516.4"/>
<path d="M1315.0 525.0H1319.0M1315.4 526.6L1318.6 523.4"/>
<path d="M1315.0 551.4H1319.0M1315.4 553.0L1318.6 549.8"/>
<path d="M1327.5 543.0L1327.5 553.0"/>
<path d="M1323.0 548.5L1330.0 548.5"/>
<path d="M1343.0 552.4V557.6M1345.0 552.4V557.6M1341.4 555.0H1346.6" stroke-width="0.9"/>
<path d="M1343.0 559.4V564.6M1345.0 559.4V564.6M1341.4 562.0H1346.6" stroke-width="0.9"/>
<path d="M1187.4 562.6V567.4M1189.4 562.6V567.4M1185.8 565.0H1191.0" stroke-width="0.9"/>
<path d="M1239.6 562.6V567.4M1241.6 562.6V567.4M1238.0 565.0H1243.2" stroke-width="0.9"/>
<path d="M1291.6 562.6V567.4M1293.6 562.6V567.4M1290.0 565.0H1295.2" stroke-width="0.9"/>
<path d="M1150.0 565.5L1188.4 565.5"/>
<path d="M1151.0 563.3V567.7M1153.0 563.3V567.7M1149.4 565.5H1154.6" stroke-width="0.9"/>
<path d="M1156.0 563.3V567.7M1158.0 563.3V567.7M1154.4 565.5H1159.6" stroke-width="0.9"/>
<path d="M1151.0 556.3V560.7M1153.0 556.3V560.7M1149.4 558.5H1154.6" stroke-width="0.9"/>
<path d="M1156.0 556.3V560.7M1158.0 556.3V560.7M1154.4 558.5H1159.6" stroke-width="0.9"/>
<path d="M1120.6 551.4L1125.0 551.4L1127.0 556.0L1146.0 556.0"/>
<path d="M76.7 427.5L943.0 427.5"/>
<path d="M76.7 688.5L1375.7 688.5"/>
<path d="M76.7 696.5L1383.0 696.5"/>
<path d="M76.7 703.5L1375.7 703.5"/>
<path d="M497.0 691.5L1383.0 691.5"/>
<path d="M76.7 658.5L267.0 658.5"/>
<path d="M200.0 656.0V660.0M198.4 659.6L201.6 656.4"/>
<path d="M210.5 656.0V660.0M208.9 659.6L212.1 656.4"/>
<path d="M221.0 656.0V660.0M219.4 659.6L222.6 656.4"/>
<path d="M231.4 656.0V660.0M229.8 659.6L233.0 656.4"/>
<path d="M255.0 656.0V660.0M253.4 659.6L256.6 656.4"/>
<path d="M266.7 656.0V660.0M265.1 659.6L268.3 656.4"/>
<path d="M266.0 655.0V661.0M268.0 655.0V661.0M264.4 658.0H269.6" stroke-width="0.9"/>
<path d="M67.5 420.6H73.5M67.5 422.6H73.5M70.5 419.0V424.2" stroke-width="0.9"/>
<path d="M67.5 426.4H73.5M67.5 428.4H73.5M70.5 424.8V430.0" stroke-width="0.9"/>
<path d="M67.5 447.5H73.5M67.5 449.5H73.5M70.5 445.9V451.1" stroke-width="0.9"/>
<path d="M67.5 460.1H73.5M67.5 462.1H73.5M70.5 458.5V463.7" stroke-width="0.9"/>
<path d="M67.5 591.5H73.5M67.5 593.5H73.5M70.5 589.9V595.1" stroke-width="0.9"/>
<path d="M67.5 609.8H73.5M67.5 611.8H73.5M70.5 608.2V613.4" stroke-width="0.9"/>
<path d="M67.5 650.8H73.5M67.5 652.8H73.5M70.5 649.2V654.4" stroke-width="0.9"/>
<path d="M67.5 666.5H73.5M67.5 668.5H73.5M70.5 664.9V670.1" stroke-width="0.9"/>
<path d="M67.5 684.3H73.5M67.5 686.3H73.5M70.5 682.7V687.9" stroke-width="0.9"/>
<path d="M67.5 689.5H73.5M67.5 691.5H73.5M70.5 687.9V693.1" stroke-width="0.9"/>
<path d="M67.5 694.8H73.5M67.5 696.8H73.5M70.5 693.2V698.4" stroke-width="0.9"/>
<path d="M76.5 620.0L76.5 624.0" stroke-width="1.2" stroke="#fff"/>
<path d="M495.8 700.6V706.6M497.8 700.6V706.6M494.2 703.6H499.4" stroke-width="0.9"/>
<path d="M495.8 687.2V692.4M497.8 687.2V692.4M494.2 689.8H499.4" stroke-width="0.9"/>
<path d="M548.0 700.6V706.6M550.0 700.6V706.6M546.4 703.6H551.6" stroke-width="0.9"/>
<path d="M548.0 687.2V692.4M550.0 687.2V692.4M546.4 689.8H551.6" stroke-width="0.9"/>
<path d="M600.0 700.6V706.6M602.0 700.6V706.6M598.4 703.6H603.6" stroke-width="0.9"/>
<path d="M600.0 687.2V692.4M602.0 687.2V692.4M598.4 689.8H603.6" stroke-width="0.9"/>
<path d="M652.3 700.6V706.6M654.3 700.6V706.6M650.7 703.6H655.9" stroke-width="0.9"/>
<path d="M652.3 687.2V692.4M654.3 687.2V692.4M650.7 689.8H655.9" stroke-width="0.9"/>
<path d="M704.4 700.6V706.6M706.4 700.6V706.6M702.8 703.6H708.0" stroke-width="0.9"/>
<path d="M704.4 687.2V692.4M706.4 687.2V692.4M702.8 689.8H708.0" stroke-width="0.9"/>
<path d="M755.6 700.6V706.6M757.6 700.6V706.6M754.0 703.6H759.2" stroke-width="0.9"/>
<path d="M755.6 687.2V692.4M757.6 687.2V692.4M754.0 689.8H759.2" stroke-width="0.9"/>
<path d="M805.3 700.6V706.6M807.3 700.6V706.6M803.7 703.6H808.9" stroke-width="0.9"/>
<path d="M805.3 687.2V692.4M807.3 687.2V692.4M803.7 689.8H808.9" stroke-width="0.9"/>
<path d="M810.5 700.6V706.6M812.5 700.6V706.6M808.9 703.6H814.1" stroke-width="0.9"/>
<path d="M810.5 687.2V692.4M812.5 687.2V692.4M808.9 689.8H814.1" stroke-width="0.9"/>
<path d="M859.7 700.6V706.6M861.7 700.6V706.6M858.1 703.6H863.3" stroke-width="0.9"/>
<path d="M859.7 687.2V692.4M861.7 687.2V692.4M858.1 689.8H863.3" stroke-width="0.9"/>
<path d="M911.7 700.6V706.6M913.7 700.6V706.6M910.1 703.6H915.3" stroke-width="0.9"/>
<path d="M911.7 687.2V692.4M913.7 687.2V692.4M910.1 689.8H915.3" stroke-width="0.9"/>
<path d="M963.5 700.6V706.6M965.5 700.6V706.6M961.9 703.6H967.1" stroke-width="0.9"/>
<path d="M963.5 687.2V692.4M965.5 687.2V692.4M961.9 689.8H967.1" stroke-width="0.9"/>
<path d="M1015.8 700.6V706.6M1017.8 700.6V706.6M1014.2 703.6H1019.4" stroke-width="0.9"/>
<path d="M1015.8 687.2V692.4M1017.8 687.2V692.4M1014.2 689.8H1019.4" stroke-width="0.9"/>
<path d="M1068.0 700.6V706.6M1070.0 700.6V706.6M1066.4 703.6H1071.6" stroke-width="0.9"/>
<path d="M1068.0 687.2V692.4M1070.0 687.2V692.4M1066.4 689.8H1071.6" stroke-width="0.9"/>
<path d="M1119.8 700.6V706.6M1121.8 700.6V706.6M1118.2 703.6H1123.4" stroke-width="0.9"/>
<path d="M1119.8 687.2V692.4M1121.8 687.2V692.4M1118.2 689.8H1123.4" stroke-width="0.9"/>
<path d="M1150.6 700.6V706.6M1152.6 700.6V706.6M1149.0 703.6H1154.2" stroke-width="0.9"/>
<path d="M1150.6 687.2V692.4M1152.6 687.2V692.4M1149.0 689.8H1154.2" stroke-width="0.9"/>
<path d="M1155.9 700.6V706.6M1157.9 700.6V706.6M1154.3 703.6H1159.5" stroke-width="0.9"/>
<path d="M1155.9 687.2V692.4M1157.9 687.2V692.4M1154.3 689.8H1159.5" stroke-width="0.9"/>
<path d="M1187.0 700.6V706.6M1189.0 700.6V706.6M1185.4 703.6H1190.6" stroke-width="0.9"/>
<path d="M1187.0 687.2V692.4M1189.0 687.2V692.4M1185.4 689.8H1190.6" stroke-width="0.9"/>
<path d="M1238.7 700.6V706.6M1240.7 700.6V706.6M1237.1 703.6H1242.3" stroke-width="0.9"/>
<path d="M1238.7 687.2V692.4M1240.7 687.2V692.4M1237.1 689.8H1242.3" stroke-width="0.9"/>
<path d="M1291.0 700.6V706.6M1293.0 700.6V706.6M1289.4 703.6H1294.6" stroke-width="0.9"/>
<path d="M1291.0 687.2V692.4M1293.0 687.2V692.4M1289.4 689.8H1294.6" stroke-width="0.9"/>
<path d="M1343.4 700.6V706.6M1345.4 700.6V706.6M1341.8 703.6H1347.0" stroke-width="0.9"/>
<path d="M1343.4 687.2V692.4M1345.4 687.2V692.4M1341.8 689.8H1347.0" stroke-width="0.9"/>
<path d="M1374.7 701.0V706.2M1376.7 701.0V706.2M1373.1 703.6H1378.3" stroke-width="0.9"/>
<path d="M1373.8 683.0H1380.2M1373.8 685.0H1380.2M1377.0 681.4V686.6" stroke-width="0.9"/>
<path d="M1373.8 687.4H1380.2M1373.8 689.4H1380.2M1377.0 685.8V691.0" stroke-width="0.9"/>
<path d="M1373.8 691.0H1380.2M1373.8 693.0H1380.2M1377.0 689.4V694.6" stroke-width="0.9"/>
<path d="M1373.8 695.5H1380.2M1373.8 697.5H1380.2M1377.0 693.9V699.1" stroke-width="0.9"/>
<path d="M1368.5 682.0L1368.5 698.0" stroke-width="0.9"/>
<path d="M1372.5 682.0L1372.5 698.0" stroke-width="0.9"/>
<path d="M81.5 461.5L246.5 461.5L246.5 592.5L81.5 592.5Z"/>
<path d="M95.6 454.5L256.0 454.5"/>
<path d="M95.6 459.5L256.0 459.5"/>
<path d="M98.8 452.1V456.5M100.8 452.1V456.5M97.2 454.3H102.4" stroke-width="0.9"/>
<path d="M99.8 457.2V460.8M98.2 460.6L101.4 457.4"/>
<path d="M129.9 452.1V456.5M131.9 452.1V456.5M128.3 454.3H133.5" stroke-width="0.9"/>
<path d="M130.9 457.2V460.8M129.3 460.6L132.5 457.4"/>
<path d="M161.1 452.1V456.5M163.1 452.1V456.5M159.5 454.3H164.7" stroke-width="0.9"/>
<path d="M162.1 457.2V460.8M160.5 460.6L163.7 457.4"/>
<path d="M192.2 452.1V456.5M194.2 452.1V456.5M190.6 454.3H195.8" stroke-width="0.9"/>
<path d="M193.2 457.2V460.8M191.6 460.6L194.8 457.4"/>
<path d="M223.4 452.1V456.5M225.4 452.1V456.5M221.8 454.3H227.0" stroke-width="0.9"/>
<path d="M224.4 457.2V460.8M222.8 460.6L226.0 457.4"/>
<path d="M93.6 473.9V580.8A11.2 7.3 0 0 0 116.0 580.8V473.9A11.2 5.8 0 0 0 93.6 473.9"/>
<path d="M93.6 473.5L116.0 473.5"/>
<path d="M93.6 580.5L116.0 580.5"/>
<path d="M104.5 466.4L104.5 590.0"/>
<path d="M97.3 466.5L112.3 466.5"/>
<path d="M95.5 477.5L114.5 477.5L114.5 481.5L95.5 481.5Z" stroke-width="0.9"/>
<path d="M96.8 479.5L112.8 479.5" stroke-width="0.9"/>
<path d="M95.5 571.5L114.5 571.5L114.5 575.5L95.5 575.5Z" stroke-width="0.9"/>
<path d="M96.8 573.5L112.8 573.5" stroke-width="0.9"/>
<path d="M132.3 473.9V580.8A11.2 7.3 0 0 0 154.7 580.8V473.9A11.2 5.8 0 0 0 132.3 473.9"/>
<path d="M132.3 473.5L154.7 473.5"/>
<path d="M132.3 580.5L154.7 580.5"/>
<path d="M143.5 466.4L143.5 590.0"/>
<path d="M136.0 466.5L151.0 466.5"/>
<path d="M134.5 477.5L152.5 477.5L152.5 481.5L134.5 481.5Z" stroke-width="0.9"/>
<path d="M135.5 479.5L151.5 479.5" stroke-width="0.9"/>
<path d="M134.5 571.5L152.5 571.5L152.5 575.5L134.5 575.5Z" stroke-width="0.9"/>
<path d="M135.5 573.5L151.5 573.5" stroke-width="0.9"/>
<path d="M171.3 473.9V580.8A11.2 7.3 0 0 0 193.7 580.8V473.9A11.2 5.8 0 0 0 171.3 473.9"/>
<path d="M171.3 473.5L193.7 473.5"/>
<path d="M171.3 580.5L193.7 580.5"/>
<path d="M182.5 466.4L182.5 590.0"/>
<path d="M175.0 466.5L190.0 466.5"/>
<path d="M173.5 477.5L191.5 477.5L191.5 481.5L173.5 481.5Z" stroke-width="0.9"/>
<path d="M174.5 479.5L190.5 479.5" stroke-width="0.9"/>
<path d="M173.5 571.5L191.5 571.5L191.5 575.5L173.5 575.5Z" stroke-width="0.9"/>
<path d="M174.5 573.5L190.5 573.5" stroke-width="0.9"/>
<path d="M210.4 473.9V580.8A11.2 7.3 0 0 0 232.79999999999998 580.8V473.9A11.2 5.8 0 0 0 210.4 473.9"/>
<path d="M210.4 473.5L232.8 473.5"/>
<path d="M210.4 580.5L232.8 580.5"/>
<path d="M221.5 466.4L221.5 590.0"/>
<path d="M214.1 466.5L229.1 466.5"/>
<path d="M212.5 477.5L230.5 477.5L230.5 481.5L212.5 481.5Z" stroke-width="0.9"/>
<path d="M213.6 479.5L229.6 479.5" stroke-width="0.9"/>
<path d="M212.5 571.5L230.5 571.5L230.5 575.5L212.5 575.5Z" stroke-width="0.9"/>
<path d="M213.6 573.5L229.6 573.5" stroke-width="0.9"/>
<path d="M125.5 460.6L125.5 592.6"/>
<path d="M123.5 479.4H127.5M123.9 481.0L127.1 477.8"/>
<path d="M123.5 573.4H127.5M123.9 575.0L127.1 571.8"/>
<path d="M75.8 599.5L245.8 599.5"/>
<path d="M245.8 597.5L245.8 602.0"/>
<path d="M80.0 596.8V602.8M82.0 596.8V602.8M78.4 599.8H83.6" stroke-width="0.9"/>
<path d="M103.8 596.8V602.8M105.8 596.8V602.8M102.2 599.8H107.4" stroke-width="0.9"/>
<path d="M142.5 596.8V602.8M144.5 596.8V602.8M140.9 599.8H146.1" stroke-width="0.9"/>
<path d="M181.5 596.8V602.8M183.5 596.8V602.8M179.9 599.8H185.1" stroke-width="0.9"/>
<path d="M195.0 596.8V602.8M197.0 596.8V602.8M193.4 599.8H198.6" stroke-width="0.9"/>
<path d="M220.6 596.8V602.8M222.6 596.8V602.8M219.0 599.8H224.2" stroke-width="0.9"/>
<path d="M230.5 596.8V602.8M232.5 596.8V602.8M228.9 599.8H234.1" stroke-width="0.9"/>
<path d="M80.0 590.0V595.2M82.0 590.0V595.2M78.4 592.6H83.6" stroke-width="0.9"/>
<path d="M75.5 592.4V597.6M77.5 592.4V597.6M73.9 595.0H79.1" stroke-width="0.9"/>
<path d="M244.0 586.1V590.9M246.0 586.1V590.9M242.4 588.5H247.6" stroke-width="0.9"/>
<path d="M255.5 404.5L286.5 404.5L286.5 454.5L255.5 454.5Z"/>
<path d="M255.4 404.3L286.5 454.1" stroke-width="1.15"/>
<path d="M286.5 404.3L255.4 454.1" stroke-width="1.15"/>
<path d="M255.5 454.1L255.5 558.5"/>
<path d="M286.5 454.1L286.5 558.5"/>
<path d="M251.5 447.3L251.5 648.7"/>
<path d="M249.8 496.4H253.4M250.0 498.0L253.2 494.8"/>
<path d="M249.8 508.0H253.4M250.0 509.6L253.2 506.4"/>
<path d="M249.8 521.0H253.4M250.0 522.6L253.2 519.4"/>
<path d="M249.8 527.2H253.4M250.0 528.8L253.2 525.6"/>
<path d="M249.8 534.3H253.4M250.0 535.9L253.2 532.7"/>
<path d="M249.8 557.0H253.4M250.0 558.6L253.2 555.4"/>
<path d="M250.6 449.6V454.4M252.6 449.6V454.4M249.0 452.0H254.2" stroke-width="0.9"/>
<path d="M253.0 459.0H257.8M253.0 461.0H257.8M255.4 457.4V462.6" stroke-width="0.9"/>
<path d="M252.8 469.7H258.0M252.8 471.7H258.0M255.4 468.1V473.3" stroke-width="0.9"/>
<path d="M283.9 469.7H289.1M283.9 471.7H289.1M286.5 468.1V473.3" stroke-width="0.9"/>
<path d="M286.5 452.0L289.0 454.0L298.0 454.0"/>
<path d="M290.0 458.5L312.0 458.5"/>
<path d="M290.0 463.5L306.0 463.5"/>
<path d="M251.6 470.5L632.0 470.5"/>
<path d="M295.6 487.5L619.5 487.5"/>
<path d="M250.0 496.5L290.0 496.5"/>
<path d="M285.0 494.9L288.0 494.9L288.0 497.9L285.0 497.9Z" stroke-width="0.7"/>
<path d="M265.7 504.4L267.4 504.4L267.4 537.6L265.7 537.6Z" stroke-width="0.9"/>
<path d="M267.4 506.8L276.5 506.8L276.5 509.2L267.4 509.2Z" stroke-width="0.9" fill="#444"/>
<path d="M267.4 519.8L276.5 519.8L276.5 522.2L267.4 522.2Z" stroke-width="0.9" fill="#444"/>
<path d="M267.4 533.1L276.5 533.1L276.5 535.5L267.4 535.5Z" stroke-width="0.9" fill="#444"/>
<path d="M283.5 502V537" stroke-width="0.9" stroke-dasharray="14 3"/>
<circle cx="333.5" cy="487.3" r="30.3" stroke-width="1.15"/>
<path d="M333.5 452.4L333.5 525.5"/>
<path d="M327.0 453.5L340.0 453.5"/>
<path d="M332.5 467.9V473.5M334.5 467.9V473.5M330.9 470.7H336.1" stroke-width="0.9"/>
<path d="M332.5 519.6V524.8M334.5 519.6V524.8M330.9 522.2H336.1" stroke-width="0.9"/>
<circle cx="403.6" cy="487.3" r="30.3" stroke-width="1.15"/>
<path d="M403.5 452.4L403.5 525.5"/>
<path d="M397.1 453.5L410.1 453.5"/>
<path d="M402.6 467.9V473.5M404.6 467.9V473.5M401.0 470.7H406.2" stroke-width="0.9"/>
<path d="M402.6 519.6V524.8M404.6 519.6V524.8M401.0 522.2H406.2" stroke-width="0.9"/>
<circle cx="474.2" cy="487.3" r="30.3" stroke-width="1.15"/>
<path d="M474.5 452.4L474.5 525.5"/>
<path d="M467.7 453.5L480.7 453.5"/>
<path d="M473.2 467.9V473.5M475.2 467.9V473.5M471.6 470.7H476.8" stroke-width="0.9"/>
<path d="M473.2 519.6V524.8M475.2 519.6V524.8M471.6 522.2H476.8" stroke-width="0.9"/>
<circle cx="580.5" cy="487.3" r="30.3" stroke-width="1.15"/>
<path d="M580.5 452.4L580.5 525.5"/>
<path d="M574.0 453.5L587.0 453.5"/>
<path d="M579.5 467.9V473.5M581.5 467.9V473.5M577.9 470.7H583.1" stroke-width="0.9"/>
<path d="M579.5 519.6V524.8M581.5 519.6V524.8M577.9 522.2H583.1" stroke-width="0.9"/>
<path d="M511.4 467.5V473.9M513.4 467.5V473.9M509.8 470.7H515.0" stroke-width="0.9"/>
<path d="M532.6 467.5V473.9M534.6 467.5V473.9M531.0 470.7H536.2" stroke-width="0.9"/>
<path d="M631.0 467.7V473.7M633.0 467.7V473.7M629.4 470.7H634.6" stroke-width="0.9"/>
<path d="M651.7 467.7V473.7M653.7 467.7V473.7M650.1 470.7H655.3" stroke-width="0.9"/>
<path d="M678.3 467.7V473.7M680.3 467.7V473.7M676.7 470.7H681.9" stroke-width="0.9"/>
<path d="M704.0 467.7V473.7M706.0 467.7V473.7M702.4 470.7H707.6" stroke-width="0.9"/>
<path d="M286.5 522.5L632.0 522.5"/>
<path d="M251.0 527.5L632.0 527.5"/>
<path d="M438.5 487.3L438.5 528.0"/>
<path d="M317.5 522.0L317.5 558.5"/>
<path d="M317.2 534.5L361.0 534.5"/>
<path d="M333.5 537.5L337.5 537.5L337.5 548.5L333.5 548.5Z" stroke-width="0.9"/>
<path d="M335.5 534.0L335.5 551.8" stroke-width="0.8"/>
<path d="M357.5 537.5L361.5 537.5L361.5 548.5L357.5 548.5Z" stroke-width="0.9"/>
<path d="M359.5 534.0L359.5 551.8" stroke-width="0.8"/>
<path d="M331.5 546.0L363.6 546.0" stroke-width="1.6"/>
<path d="M349.5 527.0L349.5 551.0"/>
<path d="M380.5 522.0L380.5 558.5"/>
<path d="M378.5 534.5L382.5 534.5L382.5 543.5L378.5 543.5Z" stroke-width="0.9"/>
<path d="M380.5 531.5L380.5 546.8" stroke-width="0.8"/>
<path d="M398.5 534.5L403.5 534.5L403.5 543.5L398.5 543.5Z" stroke-width="0.9"/>
<path d="M401.5 531.5L401.5 546.8" stroke-width="0.8"/>
<path d="M376.4 533.0L405.1 533.0" stroke-width="1.6"/>
<path d="M411.5 522.0L411.5 558.5"/>
<path d="M424.0 533.5L476.0 533.5"/>
<path d="M422.5 543.5L426.5 543.5L426.5 553.5L422.5 553.5Z" stroke-width="0.9"/>
<path d="M424.5 540.0L424.5 556.0" stroke-width="0.8"/>
<path d="M438.5 543.5L443.5 543.5L443.5 553.5L438.5 553.5Z" stroke-width="0.9"/>
<path d="M441.5 540.0L441.5 556.0" stroke-width="0.8"/>
<path d="M455.5 543.5L459.5 543.5L459.5 553.5L455.5 553.5Z" stroke-width="0.9"/>
<path d="M457.5 540.0L457.5 556.0" stroke-width="0.8"/>
<path d="M471.5 543.5L476.5 543.5L476.5 553.5L471.5 553.5Z" stroke-width="0.9"/>
<path d="M474.5 540.0L474.5 556.0" stroke-width="0.8"/>
<path d="M420.4 554.0L478.2 554.0" stroke-width="1.6"/>
<path d="M441.5 540.5L461.0 540.5"/>
<path d="M441.5 533.0L441.5 558.0"/>
<path d="M457.5 533.0L457.5 558.0"/>
<path d="M474.5 527.0L474.5 558.0"/>
<path d="M303.5 522.5L317.5 522.5L317.5 528.5L303.5 528.5Z" stroke-width="0.9"/>
<path d="M306.0 525.0L315.0 525.0" stroke-width="1.5"/>
<path d="M295.0 532.5L314.0 532.5L317.0 529.0"/>
<path d="M300.0 533.5L301.5 536.5L303.0 533.5"/>
<path d="M324.5 548.0L326.0 548.0L326.0 558.5"/>
<path d="M337.0 554.5L355.0 554.5"/>
<path d="M359.0 555.3L377.0 555.3L379.0 558.0"/>
<path d="M383.0 555.5L400.0 555.5"/>
<path d="M285.0 557.0L288.0 557.0L288.0 560.0L285.0 560.0Z" stroke-width="0.7"/>
<path d="M315.7 557.0L318.7 557.0L318.7 560.0L315.7 560.0Z" stroke-width="0.7"/>
<path d="M347.5 557.0L350.5 557.0L350.5 560.0L347.5 560.0Z" stroke-width="0.7"/>
<path d="M378.9 557.0L381.9 557.0L381.9 560.0L378.9 560.0Z" stroke-width="0.7"/>
<path d="M410.4 557.0L413.4 557.0L413.4 560.0L410.4 560.0Z" stroke-width="0.7"/>
<path d="M439.5 557.0L442.5 557.0L442.5 560.0L439.5 560.0Z" stroke-width="0.7"/>
<path d="M472.7 557.0L475.7 557.0L475.7 560.0L472.7 560.0Z" stroke-width="0.7"/>
<path d="M416.0 537.0L417.5 537.0L417.5 544.5"/>
<path d="M250.0 558.5L632.0 558.5"/>
<path d="M504.5 522.0L504.5 558.5"/>
<path d="M544.5 519.0L544.5 563.0"/>
<path d="M575.5 519.0L575.5 558.5"/>
<path d="M601.5 519.0L601.5 563.0"/>
<path d="M503.4 525.7L506.4 525.7L506.4 528.7L503.4 528.7Z" stroke-width="0.7"/>
<path d="M503.9 519.8V524.6M505.9 519.8V524.6M502.3 522.2H507.5" stroke-width="0.9"/>
<path d="M542.8 525.7L545.8 525.7L545.8 528.7L542.8 528.7Z" stroke-width="0.7"/>
<path d="M543.3 519.8V524.6M545.3 519.8V524.6M541.7 522.2H546.9" stroke-width="0.9"/>
<path d="M573.6 525.7L576.6 525.7L576.6 528.7L573.6 528.7Z" stroke-width="0.7"/>
<path d="M574.1 519.8V524.6M576.1 519.8V524.6M572.5 522.2H577.7" stroke-width="0.9"/>
<path d="M599.7 525.7L602.7 525.7L602.7 528.7L599.7 528.7Z" stroke-width="0.7"/>
<path d="M600.2 519.8V524.6M602.2 519.8V524.6M598.6 522.2H603.8" stroke-width="0.9"/>
<path d="M496.0 555.9V561.1M498.0 555.9V561.1M494.4 558.5H499.6" stroke-width="0.9"/>
<path d="M503.9 555.9V561.1M505.9 555.9V561.1M502.3 558.5H507.5" stroke-width="0.9"/>
<path d="M543.0 555.9V561.1M545.0 555.9V561.1M541.4 558.5H546.6" stroke-width="0.9"/>
<path d="M548.0 555.9V561.1M550.0 555.9V561.1M546.4 558.5H551.6" stroke-width="0.9"/>
<path d="M600.2 555.9V561.1M602.2 555.9V561.1M598.6 558.5H603.8" stroke-width="0.9"/>
<path d="M573.5 556.5L576.5 556.5L576.5 560.5L573.5 560.5Z" stroke-width="0.7"/>
<path d="M498.0 552.5L505.0 552.5"/>
<path d="M543.0 552.0L550.0 552.0"/>
<path d="M484.0 552.0L485.5 552.0L485.5 558.0"/>
<path d="M471.5 653.5L477.5 653.5L477.5 663.5L471.5 663.5Z" stroke-width="0.9"/>
<path d="M268.0 563.0L428.0 563.0L428.0 645.0L268.0 645.0Z" stroke-width="2"/>
<path d="M279.5 563.2L279.5 644.6"/>
<path d="M251.6 648.5L428.0 648.5"/>
<circle cx="317.2" cy="594.4" r="21.9" stroke-width="1.15"/>
<path d="M317.5 567.3L317.5 620.5"/>
<path d="M310.2 626.5L324.2 626.5"/>
<circle cx="377.0" cy="594.4" r="21.9" stroke-width="1.15"/>
<path d="M377.5 567.3L377.5 620.5"/>
<path d="M370.0 626.5L384.0 626.5"/>
<path d="M286.5 594.5L407.8 594.5"/>
<path d="M278.5 642.0V647.2M280.5 642.0V647.2M276.9 644.6H282.1" stroke-width="0.9"/>
<path d="M316.2 642.0V647.2M318.2 642.0V647.2M314.6 644.6H319.8" stroke-width="0.9"/>
<path d="M376.0 642.0V647.2M378.0 642.0V647.2M374.4 644.6H379.6" stroke-width="0.9"/>
<path d="M278.5 560.8V565.6M280.5 560.8V565.6M276.9 563.2H282.1" stroke-width="0.9"/>
<path d="M277.1 593.4H281.9M277.1 595.4H281.9M279.5 591.8V597.0" stroke-width="0.9"/>
<path d="M262.8 588.0H267.2M262.8 590.0H267.2M265.0 586.4V591.6" stroke-width="0.9"/>
<path d="M424.0 641.0H430.0M424.0 643.0H430.0M427.0 639.4V644.6" stroke-width="0.9"/>
<circle cx="471.7" cy="610.5" r="34.0" stroke-width="1.15"/>
<path d="M471.5 571.5L471.5 650.0"/>
<path d="M436.0 610.5L506.0 610.5"/>
<path d="M465.5 571.5L478.0 571.5"/>
<path d="M432.5 594.0L432.5 611.0"/>
<path d="M430.6 594.0H434.2M430.8 595.6L434.0 592.4"/>
<path d="M430.6 611.0H434.2M430.8 612.6L434.0 609.4"/>
<path d="M435.5 648.0L435.5 668.0"/>
<path d="M433.4 648.0H437.0M433.6 649.6L436.8 646.4"/>
<path d="M433.4 668.0H437.0M433.6 669.6L436.8 666.4"/>
<path d="M437.0 658.5L553.0 658.5"/>
<path d="M426.0 654.8V661.2M428.0 654.8V661.2M424.4 658.0H429.6" stroke-width="0.9"/>
<path d="M470.7 654.8V661.2M472.7 654.8V661.2M469.1 658.0H474.3" stroke-width="0.9"/>
<path d="M496.4 654.8V661.2M498.4 654.8V661.2M494.8 658.0H500.0" stroke-width="0.9"/>
<path d="M198.5 607.5L201.5 607.5L201.5 640.5L198.5 640.5Z" stroke-width="0.9"/>
<path d="M200.5 603.0L200.5 645.0" stroke-width="0.9"/>
<circle cx="200.0" cy="606.2" r="1.8" stroke-width="0.9"/>
<path d="M197.0 634.5L203.0 634.5" stroke-width="0.9"/>
<path d="M197.0 636.5L203.0 636.5" stroke-width="0.9"/>
<path d="M197.0 639.5L203.0 639.5" stroke-width="0.9"/>
<path d="M208.5 607.5L212.5 607.5L212.5 640.5L208.5 640.5Z" stroke-width="0.9"/>
<path d="M210.5 603.0L210.5 645.0" stroke-width="0.9"/>
<circle cx="210.5" cy="606.2" r="1.8" stroke-width="0.9"/>
<path d="M207.5 634.5L213.5 634.5" stroke-width="0.9"/>
<path d="M207.5 636.5L213.5 636.5" stroke-width="0.9"/>
<path d="M207.5 639.5L213.5 639.5" stroke-width="0.9"/>
<path d="M219.5 607.5L222.5 607.5L222.5 640.5L219.5 640.5Z" stroke-width="0.9"/>
<path d="M221.5 603.0L221.5 645.0" stroke-width="0.9"/>
<circle cx="221.0" cy="606.2" r="1.8" stroke-width="0.9"/>
<path d="M218.0 634.5L224.0 634.5" stroke-width="0.9"/>
<path d="M218.0 636.5L224.0 636.5" stroke-width="0.9"/>
<path d="M218.0 639.5L224.0 639.5" stroke-width="0.9"/>
<path d="M229.5 607.5L233.5 607.5L233.5 640.5L229.5 640.5Z" stroke-width="0.9"/>
<path d="M231.5 603.0L231.5 645.0" stroke-width="0.9"/>
<circle cx="231.4" cy="606.2" r="1.8" stroke-width="0.9"/>
<path d="M228.4 634.5L234.4 634.5" stroke-width="0.9"/>
<path d="M228.4 636.5L234.4 636.5" stroke-width="0.9"/>
<path d="M228.4 639.5L234.4 639.5" stroke-width="0.9"/>
<path d="M196.0 610.5L238.5 610.5"/>
<path d="M196.0 633.5L238.5 633.5"/>
<path d="M202.6 648.5L221.0 648.5"/>
<path d="M224.4 648.5L241.9 648.5"/>
<path d="M188.3 653.5L206.6 653.5"/>
<path d="M211.8 653.5L230.0 653.5"/>
<path d="M633.0 489.0L742.0 489.0L742.0 558.0L633.0 558.0Z" stroke-width="2"/>
<path d="M653.0 489.2L653.0 557.8" stroke-width="1.8"/>
<path d="M679.0 489.2L679.0 557.8" stroke-width="1.8"/>
<path d="M705.0 489.2L705.0 557.8" stroke-width="1.8"/>
<path d="M650.5 493.0L650.5 557.8"/>
<path d="M662.5 499.5L676.5 499.5L676.5 545.5L662.5 545.5Z"/>
<circle cx="669.5" cy="506.4" r="7.0" stroke-width="1.15"/>
<path d="M669.5 494.0L669.5 550.0"/>
<path d="M660.9 551.5L673.9 551.5"/>
<path d="M689.5 499.5L703.5 499.5L703.5 545.5L689.5 545.5Z"/>
<circle cx="696.4" cy="506.4" r="7.0" stroke-width="1.15"/>
<path d="M696.5 494.0L696.5 550.0"/>
<path d="M687.8 551.5L700.8 551.5"/>
<path d="M651.5 488.5L654.5 488.5L654.5 491.5L651.5 491.5Z" stroke-width="0.7"/>
<path d="M651.7 559.6V564.4M653.7 559.6V564.4M650.1 562.0H655.3" stroke-width="0.9"/>
<path d="M677.5 488.5L680.5 488.5L680.5 491.5L677.5 491.5Z" stroke-width="0.7"/>
<path d="M678.3 559.6V564.4M680.3 559.6V564.4M676.7 562.0H681.9" stroke-width="0.9"/>
<path d="M703.5 488.5L706.5 488.5L706.5 491.5L703.5 491.5Z" stroke-width="0.7"/>
<path d="M704.0 559.6V564.4M706.0 559.6V564.4M702.4 562.0H707.6" stroke-width="0.9"/>
<path d="M664.0 490.0L668.0 487.0L672.0 487.0" stroke-width="0.9"/>
<path d="M676.0 487.0L679.0 489.0" stroke-width="0.9"/>
<path d="M691.0 490.0L695.0 487.0L699.0 487.0" stroke-width="0.9"/>
<path d="M703.0 487.0L706.0 489.0" stroke-width="0.9"/>
<path d="M655.0 489.8L663.0 489.8" stroke-width="2.4"/>
<path d="M682.0 489.8L690.0 489.8" stroke-width="2.4"/>
<path d="M632.8 497.0L631.0 501.0"/>
<path d="M628.0 485.5L630.5 488.5"/>
<path d="M628.0 485.8V488.8M630.0 485.8V488.8M626.4 487.3H631.6" stroke-width="0.9"/>
<path d="M722.0 509.5L725.5 509.5L723.7 513.0L722.0 509.5" stroke-width="0.9"/>
<path d="M727.0 511.5L729.5 511.5" stroke-width="1.2"/>
<path d="M751.5 480.7L751.5 558.8"/>
<path d="M749.8 482.5H753.8M750.2 484.1L753.4 480.9"/>
<path d="M749.8 489.8H753.8M750.2 491.4L753.4 488.2"/>
<path d="M700.0 470.5L1019.0 470.5"/>
<path d="M704.0 467.2V473.2M706.0 467.2V473.2M702.4 470.2H707.6" stroke-width="0.9"/>
<path d="M740.2 467.2V473.2M742.2 467.2V473.2M738.6 470.2H743.8" stroke-width="0.9"/>
<path d="M825.7 467.2V473.2M827.7 467.2V473.2M824.1 470.2H829.3" stroke-width="0.9"/>
<path d="M868.4 467.2V473.2M870.4 467.2V473.2M866.8 470.2H872.0" stroke-width="0.9"/>
<path d="M978.0 467.2V473.2M980.0 467.2V473.2M976.4 470.2H981.6" stroke-width="0.9"/>
<path d="M999.4 467.2V473.2M1001.4 467.2V473.2M997.8 470.2H1003.0" stroke-width="0.9"/>
<path d="M784.7 468.2V472.2M783.1 471.8L786.3 468.6"/>
<path d="M857.8 468.2V472.2M856.2 471.8L859.4 468.6"/>
<path d="M889.4 468.2V472.2M887.8 471.8L891.0 468.6"/>
<path d="M905.0 468.2V472.2M903.4 471.8L906.6 468.6"/>
<path d="M920.6 468.2V472.2M919.0 471.8L922.2 468.6"/>
<path d="M936.0 468.2V472.2M934.4 471.8L937.6 468.6"/>
<path d="M742.0 527.5L1012.0 527.5"/>
<path d="M742.0 558.5L1012.0 558.5"/>
<path d="M750.4 525.8L753.2 525.8L753.2 528.6L750.4 528.6Z" stroke-width="0.7"/>
<path d="M783.0 525.8L785.8 525.8L785.8 528.6L783.0 528.6Z" stroke-width="0.7"/>
<path d="M825.3 525.8L828.1 525.8L828.1 528.6L825.3 528.6Z" stroke-width="0.7"/>
<path d="M856.4 525.8L859.2 525.8L859.2 528.6L856.4 528.6Z" stroke-width="0.7"/>
<path d="M888.0 525.8L890.8 525.8L890.8 528.6L888.0 528.6Z" stroke-width="0.7"/>
<path d="M919.2 525.8L922.0 525.8L922.0 528.6L919.2 528.6Z" stroke-width="0.7"/>
<path d="M784.5 522.0L784.5 562.0"/>
<path d="M826.5 478.2L826.5 559.6"/>
<path d="M857.5 470.0L857.5 563.0"/>
<path d="M889.5 470.0L889.5 561.0"/>
<path d="M920.5 470.0L920.5 562.0"/>
<path d="M947.5 520.0L947.5 561.0"/>
<path d="M756.0 552.5L784.4 552.5"/>
<path d="M806.0 552.5L826.7 552.5"/>
<path d="M756.0 555.4V561.4M758.0 555.4V561.4M754.4 558.4H759.6" stroke-width="0.9"/>
<path d="M783.4 555.4V561.4M785.4 555.4V561.4M781.8 558.4H787.0" stroke-width="0.9"/>
<path d="M805.0 555.4V561.4M807.0 555.4V561.4M803.4 558.4H808.6" stroke-width="0.9"/>
<path d="M810.5 555.4V561.4M812.5 555.4V561.4M808.9 558.4H814.1" stroke-width="0.9"/>
<path d="M825.7 555.4V561.4M827.7 555.4V561.4M824.1 558.4H829.3" stroke-width="0.9"/>
<path d="M857.0 555.4V561.4M859.0 555.4V561.4M855.4 558.4H860.6" stroke-width="0.9"/>
<path d="M860.5 555.4V561.4M862.5 555.4V561.4M858.9 558.4H864.1" stroke-width="0.9"/>
<path d="M756.0 551.0V555.0M758.0 551.0V555.0M754.4 553.0H759.6" stroke-width="0.9"/>
<path d="M807.5 550.6V555.4M809.5 550.6V555.4M805.9 553.0H811.1" stroke-width="0.9"/>
<path d="M802.0 481.5L962.0 481.5"/>
<path d="M826.0 504.5L860.0 504.5"/>
<path d="M825.7 479.1V483.9M827.7 479.1V483.9M824.1 481.5H829.3" stroke-width="0.9"/>
<path d="M842.5 479.1V483.9M844.5 479.1V483.9M840.9 481.5H846.1" stroke-width="0.9"/>
<path d="M856.8 479.1V483.9M858.8 479.1V483.9M855.2 481.5H860.4" stroke-width="0.9"/>
<path d="M825.2 503.0L828.2 503.0L828.2 506.0L825.2 506.0Z" stroke-width="0.7"/>
<path d="M856.3 503.0L859.3 503.0L859.3 506.0L856.3 506.0Z" stroke-width="0.7"/>
<path d="M856.3 480.0L859.3 480.0L859.3 483.0L856.3 483.0Z" stroke-width="0.7"/>
<path d="M887.9 480.0L890.9 480.0L890.9 483.0L887.9 483.0Z" stroke-width="0.7"/>
<path d="M887.9 503.0L890.9 503.0L890.9 506.0L887.9 506.0Z" stroke-width="0.7"/>
<path d="M849.5 481.5L849.5 527.2"/>
<path d="M848.4 524.8V529.6M850.4 524.8V529.6M846.8 527.2H852.0" stroke-width="0.9"/>
<path d="M848.4 502.5V506.5M850.4 502.5V506.5M846.8 504.5H852.0" stroke-width="0.9"/>
<path d="M820.5 482.5L825.5 482.5L825.5 501.5L820.5 501.5Z" stroke-width="0.9"/>
<path d="M820.9 484.5L825.4 484.5" stroke-width="0.9"/>
<path d="M820.9 487.5L825.4 487.5" stroke-width="0.9"/>
<path d="M820.9 489.5L825.4 489.5" stroke-width="0.9"/>
<path d="M820.9 491.5L825.4 491.5" stroke-width="0.9"/>
<path d="M820.9 494.5L825.4 494.5" stroke-width="0.9"/>
<path d="M820.9 496.5L825.4 496.5" stroke-width="0.9"/>
<path d="M820.9 499.5L825.4 499.5" stroke-width="0.9"/>
<path d="M820.5 512.0L820.5 522.0"/>
<path d="M818.0 519.5L824.0 519.5"/>
<path d="M788.0 538.5L813.8 538.5"/>
<path d="M867.0 454.5L891.0 454.5"/>
<path d="M861.0 463.5L874.4 463.5"/>
<path d="M872.5 455.6L874.3 459.0L876.0 455.6"/>
<path d="M861.2 477.7V531.8A8.2 4.5 0 0 0 877.6 531.8V477.7A8.2 4.5 0 0 0 861.2 477.7Z"/>
<path d="M869.5 470.0L869.5 538.0"/>
<path d="M877.5 480.0L877.5 529.5" stroke-width="1.3"/>
<path d="M863.5 482.5L875.5 482.5L875.5 485.5L863.5 485.5Z" stroke-width="0.9"/>
<path d="M863.5 524.5L875.5 524.5L875.5 527.5L863.5 527.5Z" stroke-width="0.9"/>
<circle cx="869.4" cy="517.6" r="3.8" stroke-width="1.15"/>
<path d="M864.2 517.6H874.6M869.4 512.4V522.8"/>
<path d="M892.5 473.5L916.5 473.5L916.5 511.5L892.5 511.5Z"/>
<path d="M923.5 473.5L947.5 473.5L947.5 511.5L923.5 511.5Z"/>
<path d="M904.5 470.0L904.5 513.0"/>
<path d="M890.4 483.5L918.4 483.5"/>
<path d="M890.4 492.5L918.4 492.5"/>
<path d="M894.4 470.1V472.9M896.4 470.1V472.9M892.8 471.5H898.0" stroke-width="0.9"/>
<path d="M898.0 470.1V472.9M900.0 470.1V472.9M896.4 471.5H901.6" stroke-width="0.9"/>
<path d="M901.6 470.1V472.9M903.6 470.1V472.9M900.0 471.5H905.2" stroke-width="0.9"/>
<path d="M905.2 470.1V472.9M907.2 470.1V472.9M903.6 471.5H908.8" stroke-width="0.9"/>
<path d="M908.8 470.1V472.9M910.8 470.1V472.9M907.2 471.5H912.4" stroke-width="0.9"/>
<path d="M912.4 470.1V472.9M914.4 470.1V472.9M910.8 471.5H916.0" stroke-width="0.9"/>
<path d="M897.4 510.8V515.2M899.4 510.8V515.2M895.8 513.0H901.0" stroke-width="0.9"/>
<path d="M909.4 510.8V515.2M911.4 510.8V515.2M907.8 513.0H913.0" stroke-width="0.9"/>
<path d="M935.5 470.0L935.5 513.0"/>
<path d="M921.4 483.5L949.4 483.5"/>
<path d="M921.4 492.5L949.4 492.5"/>
<path d="M925.4 470.1V472.9M927.4 470.1V472.9M923.8 471.5H929.0" stroke-width="0.9"/>
<path d="M929.0 470.1V472.9M931.0 470.1V472.9M927.4 471.5H932.6" stroke-width="0.9"/>
<path d="M932.6 470.1V472.9M934.6 470.1V472.9M931.0 471.5H936.2" stroke-width="0.9"/>
<path d="M936.2 470.1V472.9M938.2 470.1V472.9M934.6 471.5H939.8" stroke-width="0.9"/>
<path d="M939.8 470.1V472.9M941.8 470.1V472.9M938.2 471.5H943.4" stroke-width="0.9"/>
<path d="M943.4 470.1V472.9M945.4 470.1V472.9M941.8 471.5H947.0" stroke-width="0.9"/>
<path d="M928.4 510.8V515.2M930.4 510.8V515.2M926.8 513.0H932.0" stroke-width="0.9"/>
<path d="M940.4 510.8V515.2M942.4 510.8V515.2M938.8 513.0H944.0" stroke-width="0.9"/>
<path d="M898.5 481.5L898.5 492.2"/>
<path d="M896.7 483.0H899.9M896.7 484.6L899.9 481.4"/>
<path d="M896.7 491.5H899.9M896.7 493.1L899.9 489.9"/>
<path d="M899.0 522.5L912.6 522.5"/>
<path d="M928.0 522.5L943.0 522.5"/>
<path d="M894.0 535.0L911.5 535.0" stroke-width="1.6"/>
<path d="M895.5 537.5L899.5 537.5L899.5 544.5L895.5 544.5Z" stroke-width="0.9"/>
<path d="M897.5 534.5L897.5 547.5" stroke-width="0.8"/>
<path d="M906.5 537.5L911.5 537.5L911.5 544.5L906.5 544.5Z" stroke-width="0.9"/>
<path d="M908.5 534.5L908.5 547.5" stroke-width="0.8"/>
<path d="M893.5 535.0L912.8 535.0" stroke-width="1.6"/>
<path d="M921.5 536.0L966.0 536.0" stroke-width="1.6"/>
<path d="M953.5 538.5L958.5 538.5L958.5 546.5L953.5 546.5Z" stroke-width="0.9"/>
<path d="M955.5 535.5L955.5 549.5" stroke-width="0.8"/>
<path d="M967.5 538.5L971.5 538.5L971.5 546.5L967.5 546.5Z" stroke-width="0.9"/>
<path d="M969.5 535.5L969.5 549.5" stroke-width="0.8"/>
<path d="M951.9 536.0L973.4 536.0" stroke-width="1.6"/>
<path d="M926.5 537.5L944.5 537.5L944.5 547.5L926.5 547.5Z"/>
<path d="M929.5 546A3 3 0 0 1 935.5 546A3 3 0 0 1 941.5 546" stroke-width="0.9"/>
<path d="M929.0 533.5L947.0 533.5"/>
<path d="M926.8 540.5L944.2 540.5"/>
<path d="M893.0 551.5L1012.0 551.5"/>
<path d="M896.5 548.8V554.4M898.5 548.8V554.4M894.9 551.6H900.1" stroke-width="0.9"/>
<path d="M912.0 548.8V554.4M914.0 548.8V554.4M910.4 551.6H915.6" stroke-width="0.9"/>
<path d="M920.0 548.8V554.4M922.0 548.8V554.4M918.4 551.6H923.6" stroke-width="0.9"/>
<path d="M930.0 548.8V554.4M932.0 548.8V554.4M928.4 551.6H933.6" stroke-width="0.9"/>
<path d="M937.5 548.8V554.4M939.5 548.8V554.4M935.9 551.6H941.1" stroke-width="0.9"/>
<path d="M943.0 548.8V554.4M945.0 548.8V554.4M941.4 551.6H946.6" stroke-width="0.9"/>
<path d="M957.0 548.8V554.4M959.0 548.8V554.4M955.4 551.6H960.6" stroke-width="0.9"/>
<path d="M961.0 548.8V554.4M963.0 548.8V554.4M959.4 551.6H964.6" stroke-width="0.9"/>
<path d="M972.0 548.8V554.4M974.0 548.8V554.4M970.4 551.6H975.6" stroke-width="0.9"/>
<path d="M907.0 551.0V555.0M909.0 551.0V555.0M905.4 553.0H910.6" stroke-width="0.9"/>
<path d="M907.0 554.0V558.0M909.0 554.0V558.0M905.4 556.0H910.6" stroke-width="0.9"/>
<path d="M907.0 557.0V561.0M909.0 557.0V561.0M905.4 559.0H910.6" stroke-width="0.9"/>
<path d="M907.0 560.0V564.0M909.0 560.0V564.0M905.4 562.0H910.6" stroke-width="0.9"/>
<path d="M903.5 561.3V565.7M905.5 561.3V565.7M901.9 563.5H907.1" stroke-width="0.9"/>
<path d="M910.5 561.3V565.7M912.5 561.3V565.7M908.9 563.5H914.1" stroke-width="0.9"/>
<circle cx="996.2" cy="551.0" r="2.8" stroke-width="1.3"/>
<path d="M996.5 544.5L996.5 556.5"/>
<path d="M985.0 551.5L1001.0 551.5"/>
<path d="M990.0 537.5L1004.0 537.5"/>
<path d="M984.5 547.5L984.5 554.5"/>
<path d="M981.5 527.2L981.5 558.4"/>
<path d="M961.0 563.5L979.0 563.5"/>
<path d="M979.5 558.4L979.5 563.5"/>
<path d="M947.0 527.2L947.0 534.0L952.0 534.0L953.0 529.5L964.0 527.2"/>
<path d="M945.5 525.7L948.5 525.7L948.5 528.7L945.5 528.7Z" stroke-width="0.7"/>
<path d="M977.6 525.7L980.6 525.7L980.6 528.7L977.6 528.7Z" stroke-width="0.7"/>
<path d="M977.8 550.1L980.4 550.1L980.4 552.7L977.8 552.7Z" stroke-width="0.7"/>
<path d="M945.7 550.1L948.3 550.1L948.3 552.7L945.7 552.7Z" stroke-width="0.7"/>
<path d="M544.0 570.0L1344.0 570.0L1344.0 648.0L544.0 648.0Z" stroke-width="2.2"/>
<path d="M546.5 571.0L546.5 646.5" stroke-width="0.9"/>
<path d="M606.0 571.0L606.0 646.5" stroke-width="1.9"/>
<path d="M637.0 571.0L637.0 646.5" stroke-width="1.9"/>
<path d="M668.0 571.0L668.0 646.5" stroke-width="1.9"/>
<path d="M700.0 571.0L700.0 646.5" stroke-width="1.9"/>
<path d="M730.0 571.0L730.0 646.5" stroke-width="1.9"/>
<path d="M575.0 589.0L575.0 646.5" stroke-width="1.9"/>
<path d="M604.5 571.0L604.5 590.0"/>
<path d="M728.5 571.0L728.5 590.0"/>
<path d="M577.5 589.0L577.5 646.5" stroke-width="0.9"/>
<path d="M546.0 588.0L606.5 588.0" stroke-width="2.2"/>
<path d="M546.0 595.5L605.5 595.5"/>
<path d="M699.6 588.0L730.5 588.0" stroke-width="2.2"/>
<path d="M700.5 595.5L730.5 595.5"/>
<path d="M553.0 608.5L569.0 608.5"/>
<path d="M584.3 608.5L600.3 608.5"/>
<path d="M615.0 608.5L631.0 608.5"/>
<path d="M646.0 608.5L662.0 608.5"/>
<path d="M678.0 608.5L694.0 608.5"/>
<path d="M708.0 608.5L724.0 608.5"/>
<path d="M553.0 575.5L567.0 575.5"/>
<path d="M703.0 573.5L716.0 573.5"/>
<path d="M549.5 578.5L553.5 578.5L553.5 582.5L549.5 582.5Z" stroke-width="0.7"/>
<path d="M547.3 580.0H555.3M551.3 576.0V584.0"/>
<path d="M562.5 578.5L566.5 578.5L566.5 582.5L562.5 582.5Z" stroke-width="0.7"/>
<path d="M560.3 580.0H568.3M564.3 576.0V584.0"/>
<path d="M579.5 575.5L583.5 575.5L583.5 579.5L579.5 579.5Z" stroke-width="0.7"/>
<path d="M577.7 577.5H585.7M581.7 573.5V581.5"/>
<path d="M594.5 575.5L598.5 575.5L598.5 579.5L594.5 579.5Z" stroke-width="0.7"/>
<path d="M592.3 577.5H600.3M596.3 573.5V581.5"/>
<path d="M705.5 578.5L709.5 578.5L709.5 582.5L705.5 582.5Z" stroke-width="0.7"/>
<path d="M703.0 580.0H711.0M707.0 576.0V584.0"/>
<path d="M718.5 578.5L722.5 578.5L722.5 582.5L718.5 582.5Z" stroke-width="0.7"/>
<path d="M716.5 580.0H724.5M720.5 576.0V584.0"/>
<path d="M549.0 580.5L566.0 580.5"/>
<path d="M580.0 577.5L598.0 577.5"/>
<path d="M705.0 580.5L722.0 580.5"/>
<path d="M566.5 582.0L569.0 583.0L570.0 588.0"/>
<path d="M601.0 578.0L602.5 578.0L602.5 587.0"/>
<path d="M612.5 571.0L612.5 594.0"/>
<path d="M610.7 588.0H614.3M610.9 589.6L614.1 586.4"/>
<path d="M610.7 594.0H614.3M610.9 595.6L614.1 592.4"/>
<path d="M643.5 571.0L643.5 580.0"/>
<path d="M641.7 580.0H645.3M641.9 581.6L645.1 578.4"/>
<path d="M573.7 639.0L576.7 639.0L576.7 644.5L573.7 644.5Z" stroke-width="0.9"/>
<path d="M635.9 639.0L638.9 639.0L638.9 644.5L635.9 644.5Z" stroke-width="0.9"/>
<path d="M698.1 639.0L701.1 639.0L701.1 644.5L698.1 644.5Z" stroke-width="0.9"/>
<path d="M606.5 636.0L606.5 646.5" stroke-width="2.6"/>
<path d="M668.5 636.0L668.5 646.5" stroke-width="2.6"/>
<path d="M611.0 635.0L612.5 635.0L612.5 646.0"/>
<path d="M673.0 635.0L674.5 635.0L674.5 646.0"/>
<path d="M733.0 636.0L733.0 646.5" stroke-width="2.4"/>
<path d="M736.0 635.0L737.5 635.0L737.5 646.0"/>
<path d="M543.3 648.6V653.4M545.3 648.6V653.4M541.7 651.0H546.9" stroke-width="0.9"/>
<path d="M574.2 648.6V653.4M576.2 648.6V653.4M572.6 651.0H577.8" stroke-width="0.9"/>
<path d="M758.5 646.6V608A20.5 16.5 0 0 1 779 591.5H1344"/>
<path d="M868.5 556.5L879.5 556.5L879.5 693.5L868.5 693.5Z"/>
<path d="M873.5 556.4L873.5 693.1" stroke-width="0.9"/>
<path d="M868.3 570.0L879.5 647.0" stroke-width="0.8"/>
<path d="M879.5 570.0L868.3 647.0" stroke-width="0.8"/>
<path d="M868.3 647.0L879.5 693.0" stroke-width="0.8"/>
<path d="M879.5 647.0L868.3 693.0" stroke-width="0.8"/>
<path d="M872.5 559.0L872.5 566.0" stroke-width="1.2"/>
<path d="M1105.5 556.5L1116.5 556.5L1116.5 693.5L1105.5 693.5Z"/>
<path d="M1111.5 556.4L1111.5 693.1" stroke-width="0.9"/>
<path d="M1105.6 570.0L1116.8 647.0" stroke-width="0.8"/>
<path d="M1116.8 570.0L1105.6 647.0" stroke-width="0.8"/>
<path d="M1105.6 647.0L1116.8 693.0" stroke-width="0.8"/>
<path d="M1116.8 647.0L1105.6 693.0" stroke-width="0.8"/>
<path d="M1109.5 559.0L1109.5 566.0" stroke-width="1.2"/>
<path d="M894.7 619.0L939.1 619.0" stroke-width="1.5"/>
<path d="M1199.2 619.0L1228.0 619.0" stroke-width="1.5"/>
<path d="M876.5 648.5L907.5 648.5L907.5 653.5L876.5 653.5Z" stroke-width="0.9"/>
<path d="M876.0 649.5L907.0 649.5" stroke-width="0.9"/>
<path d="M876.0 649.5L907.0 649.5" stroke-width="0.9"/>
<path d="M876.0 650.5L907.0 650.5" stroke-width="0.9"/>
<path d="M876.0 650.5L907.0 650.5" stroke-width="0.9"/>
<path d="M876.0 651.5L907.0 651.5" stroke-width="0.9"/>
<path d="M876.0 651.5L907.0 651.5" stroke-width="0.9"/>
<path d="M876.0 652.5L907.0 652.5" stroke-width="0.9"/>
<path d="M876.0 652.5L907.0 652.5" stroke-width="0.9"/>
<path d="M553.0 658.5L1375.7 658.5"/>
<path d="M511.9 655.0V661.0M513.9 655.0V661.0M510.3 658.0H515.5" stroke-width="0.9"/>
<path d="M532.6 655.0V661.0M534.6 655.0V661.0M531.0 658.0H536.2" stroke-width="0.9"/>
<path d="M543.3 655.0V661.0M545.3 655.0V661.0M541.7 658.0H546.9" stroke-width="0.9"/>
<path d="M574.1 655.0V661.0M576.1 655.0V661.0M572.5 658.0H577.7" stroke-width="0.9"/>
<path d="M605.2 655.0V661.0M607.2 655.0V661.0M603.6 658.0H608.8" stroke-width="0.9"/>
<path d="M636.4 655.0V661.0M638.4 655.0V661.0M634.8 658.0H640.0" stroke-width="0.9"/>
<path d="M667.8 655.0V661.0M669.8 655.0V661.0M666.2 658.0H671.4" stroke-width="0.9"/>
<path d="M699.0 655.0V661.0M701.0 655.0V661.0M697.4 658.0H702.6" stroke-width="0.9"/>
<path d="M730.0 655.0V661.0M732.0 655.0V661.0M728.4 658.0H733.6" stroke-width="0.9"/>
<path d="M1344.4 655.6V659.6M1342.8 659.2L1346.0 656.0"/>
<path d="M1375.7 655.6V659.6M1374.1 659.2L1377.3 656.0"/>
<path d="M1350.5 574.5L1375.5 574.5L1375.5 644.5L1350.5 644.5Z"/>
<path d="M1350.9 574.2L1375.7 644.2" stroke-width="1.15"/>
<path d="M1375.7 574.2L1350.9 644.2" stroke-width="1.15"/>
<path d="M1344.5 569.5L1349.5 569.5L1349.5 600.5L1344.5 600.5Z" stroke-width="0.9"/>
<path d="M1344.4 571.5L1349.4 571.5" stroke-width="0.9"/>
<path d="M1344.4 573.5L1349.4 573.5" stroke-width="0.9"/>
<path d="M1344.4 575.5L1349.4 575.5" stroke-width="0.9"/>
<path d="M1344.4 577.5L1349.4 577.5" stroke-width="0.9"/>
<path d="M1344.4 580.5L1349.4 580.5" stroke-width="0.9"/>
<path d="M1344.4 582.5L1349.4 582.5" stroke-width="0.9"/>
<path d="M1344.4 584.5L1349.4 584.5" stroke-width="0.9"/>
<path d="M1344.4 586.5L1349.4 586.5" stroke-width="0.9"/>
<path d="M1344.4 588.5L1349.4 588.5" stroke-width="0.9"/>
<path d="M1344.4 591.5L1349.4 591.5" stroke-width="0.9"/>
<path d="M1344.4 593.5L1349.4 593.5" stroke-width="0.9"/>
<path d="M1344.4 595.5L1349.4 595.5" stroke-width="0.9"/>
<path d="M1344.4 597.5L1349.4 597.5" stroke-width="0.9"/>
<path d="M1349.5 600.0L1349.5 644.0"/>
<path d="M1371.5 644.7V649.9M1373.5 644.7V649.9M1369.9 647.3H1375.1" stroke-width="0.9"/>
<path d="M1376.0 644.7V649.9M1378.0 644.7V649.9M1374.4 647.3H1379.6" stroke-width="0.9"/>
<path d="M1380.5 644.7V649.9M1382.5 644.7V649.9M1378.9 647.3H1384.1" stroke-width="0.9"/>
<path d="M1377.9 654.0H1383.1M1377.9 656.0H1383.1M1380.5 652.4V657.6" stroke-width="0.9"/>
<path d="M1376.3 573.0H1380.7M1376.3 575.0H1380.7M1378.5 571.4V576.6" stroke-width="0.9"/>
<path d="M1381.0 568.5H1385.0M1381.4 570.1L1384.6 566.9"/>
</g>
</svg>
</body></html>
